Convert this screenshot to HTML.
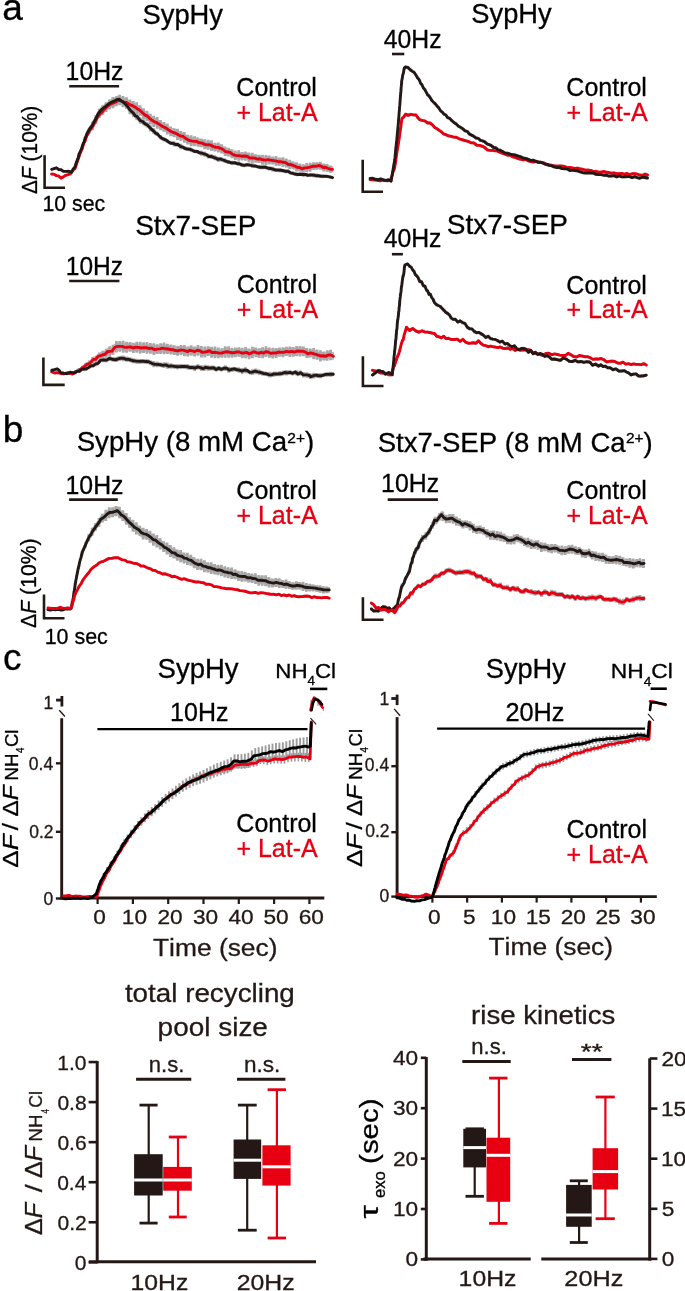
<!DOCTYPE html>
<html><head><meta charset="utf-8"><style>
html,body{margin:0;padding:0;background:#fff;overflow:hidden}
svg{display:block;will-change:transform}
svg text{font-family:"Liberation Sans",sans-serif;font-kerning:none}
</style></head><body>
<svg width="685" height="1291" viewBox="0 0 685 1291">
<rect width="685" height="1291" fill="#fff"/>
<g transform="translate(3.75,20.00) scale(1.0000,1)" fill="#000" stroke="#000" stroke-width="0.3"><text x="-1.57" y="0" font-size="37" font-style="normal" xml:space="preserve">a</text></g>
<g transform="translate(5.00,442.00) scale(1.0000,1)" fill="#000" stroke="#000" stroke-width="0.3"><text x="-2.38" y="0" font-size="37" font-style="normal" xml:space="preserve">b</text></g>
<g transform="translate(4.50,670.00) scale(1.0000,1)" fill="#000" stroke="#000" stroke-width="0.3"><text x="-1.57" y="0" font-size="37" font-style="normal" xml:space="preserve">c</text></g>
<g transform="translate(143.70,24.00) scale(0.9951,1)" fill="#000" stroke="#000" stroke-width="0.3"><text x="-1.25" y="0" font-size="27.5" font-style="normal" xml:space="preserve">SypHy</text></g>
<g transform="translate(472.60,23.30) scale(0.9926,1)" fill="#000" stroke="#000" stroke-width="0.3"><text x="-1.25" y="0" font-size="27.5" font-style="normal" xml:space="preserve">SypHy</text></g>
<g transform="translate(136.40,234.60) scale(1.0179,1)" fill="#000" stroke="#000" stroke-width="0.3"><text x="-1.25" y="0" font-size="27.5" font-style="normal" xml:space="preserve">Stx7-SEP</text></g>
<g transform="translate(448.00,233.70) scale(1.0179,1)" fill="#000" stroke="#000" stroke-width="0.3"><text x="-1.25" y="0" font-size="27.5" font-style="normal" xml:space="preserve">Stx7-SEP</text></g>
<g transform="translate(77.90,451.30) scale(1.0059,1)" fill="#000" stroke="#000" stroke-width="0.3"><text x="-1.25" y="0" font-size="27.5" font-style="normal" xml:space="preserve">SypHy (8 mM Ca</text><text x="208.09" y="-8.6" font-size="15.5" font-style="normal" xml:space="preserve">2+</text><text x="225.76" y="0" font-size="27.5" font-style="normal" xml:space="preserve">)</text></g>
<g transform="translate(378.90,452.00) scale(1.0028,1)" fill="#000" stroke="#000" stroke-width="0.3"><text x="-1.25" y="0" font-size="27.5" font-style="normal" xml:space="preserve">Stx7-SEP (8 mM Ca</text><text x="246.30" y="-8.6" font-size="15.5" font-style="normal" xml:space="preserve">2+</text><text x="263.98" y="0" font-size="27.5" font-style="normal" xml:space="preserve">)</text></g>
<g transform="translate(67.50,80.00) scale(0.9925,1)" fill="#000" stroke="#000" stroke-width="0.3"><text x="-1.90" y="0" font-size="25" font-style="normal" xml:space="preserve">10Hz</text></g>
<line x1="69.2" y1="86.2" x2="119.1" y2="86.2" stroke="#231815" stroke-width="2.6" stroke-linecap="butt"/>
<g transform="translate(384.30,47.80) scale(0.9904,1)" fill="#000" stroke="#000" stroke-width="0.3"><text x="-0.57" y="0" font-size="25" font-style="normal" xml:space="preserve">40Hz</text></g>
<line x1="392.0" y1="54.0" x2="404.3" y2="54.0" stroke="#231815" stroke-width="2.6" stroke-linecap="butt"/>
<g transform="translate(67.70,274.90) scale(0.9799,1)" fill="#000" stroke="#000" stroke-width="0.3"><text x="-1.90" y="0" font-size="25" font-style="normal" xml:space="preserve">10Hz</text></g>
<line x1="69.2" y1="281.0" x2="119.4" y2="281.0" stroke="#231815" stroke-width="2.6" stroke-linecap="butt"/>
<g transform="translate(384.20,247.20) scale(0.9922,1)" fill="#000" stroke="#000" stroke-width="0.3"><text x="-0.57" y="0" font-size="25" font-style="normal" xml:space="preserve">40Hz</text></g>
<line x1="391.9" y1="254.2" x2="402.9" y2="254.2" stroke="#231815" stroke-width="2.6" stroke-linecap="butt"/>
<g transform="translate(67.40,493.60) scale(0.9943,1)" fill="#000" stroke="#000" stroke-width="0.3"><text x="-1.90" y="0" font-size="25" font-style="normal" xml:space="preserve">10Hz</text></g>
<line x1="69.1" y1="499.6" x2="117.8" y2="499.6" stroke="#231815" stroke-width="2.6" stroke-linecap="butt"/>
<g transform="translate(383.00,491.50) scale(0.9943,1)" fill="#000" stroke="#000" stroke-width="0.3"><text x="-1.90" y="0" font-size="25" font-style="normal" xml:space="preserve">10Hz</text></g>
<line x1="387.7" y1="499.6" x2="437.9" y2="499.6" stroke="#231815" stroke-width="2.6" stroke-linecap="butt"/>
<g transform="translate(237.60,96.30) scale(1.0000,1)" fill="#000" stroke="#000" stroke-width="0.3"><text x="-1.27" y="0" font-size="25" font-style="normal" xml:space="preserve">Control</text></g>
<g transform="translate(237.60,121.00) scale(1.0000,1)" fill="#e60012" stroke="#e60012" stroke-width="0.3"><text x="-1.22" y="0" font-size="25" font-style="normal" xml:space="preserve">+ Lat-A</text></g>
<g transform="translate(567.60,96.20) scale(1.0000,1)" fill="#000" stroke="#000" stroke-width="0.3"><text x="-1.27" y="0" font-size="25" font-style="normal" xml:space="preserve">Control</text></g>
<g transform="translate(567.60,121.20) scale(1.0000,1)" fill="#e60012" stroke="#e60012" stroke-width="0.3"><text x="-1.22" y="0" font-size="25" font-style="normal" xml:space="preserve">+ Lat-A</text></g>
<g transform="translate(238.00,293.40) scale(1.0000,1)" fill="#000" stroke="#000" stroke-width="0.3"><text x="-1.27" y="0" font-size="25" font-style="normal" xml:space="preserve">Control</text></g>
<g transform="translate(238.00,318.30) scale(1.0000,1)" fill="#e60012" stroke="#e60012" stroke-width="0.3"><text x="-1.22" y="0" font-size="25" font-style="normal" xml:space="preserve">+ Lat-A</text></g>
<g transform="translate(567.60,293.90) scale(1.0000,1)" fill="#000" stroke="#000" stroke-width="0.3"><text x="-1.27" y="0" font-size="25" font-style="normal" xml:space="preserve">Control</text></g>
<g transform="translate(567.60,318.40) scale(1.0000,1)" fill="#e60012" stroke="#e60012" stroke-width="0.3"><text x="-1.22" y="0" font-size="25" font-style="normal" xml:space="preserve">+ Lat-A</text></g>
<g transform="translate(237.60,498.80) scale(1.0000,1)" fill="#000" stroke="#000" stroke-width="0.3"><text x="-1.27" y="0" font-size="25" font-style="normal" xml:space="preserve">Control</text></g>
<g transform="translate(237.60,523.80) scale(1.0000,1)" fill="#e60012" stroke="#e60012" stroke-width="0.3"><text x="-1.22" y="0" font-size="25" font-style="normal" xml:space="preserve">+ Lat-A</text></g>
<g transform="translate(567.60,499.20) scale(1.0000,1)" fill="#000" stroke="#000" stroke-width="0.3"><text x="-1.27" y="0" font-size="25" font-style="normal" xml:space="preserve">Control</text></g>
<g transform="translate(567.60,523.70) scale(1.0000,1)" fill="#e60012" stroke="#e60012" stroke-width="0.3"><text x="-1.22" y="0" font-size="25" font-style="normal" xml:space="preserve">+ Lat-A</text></g>
<g transform="translate(237.60,831.80) scale(1.0000,1)" fill="#000" stroke="#000" stroke-width="0.3"><text x="-1.27" y="0" font-size="25" font-style="normal" xml:space="preserve">Control</text></g>
<g transform="translate(237.60,856.90) scale(1.0000,1)" fill="#e60012" stroke="#e60012" stroke-width="0.3"><text x="-1.22" y="0" font-size="25" font-style="normal" xml:space="preserve">+ Lat-A</text></g>
<g transform="translate(567.70,837.70) scale(1.0000,1)" fill="#000" stroke="#000" stroke-width="0.3"><text x="-1.27" y="0" font-size="25" font-style="normal" xml:space="preserve">Control</text></g>
<g transform="translate(567.70,862.90) scale(1.0000,1)" fill="#e60012" stroke="#e60012" stroke-width="0.3"><text x="-1.22" y="0" font-size="25" font-style="normal" xml:space="preserve">+ Lat-A</text></g>
<polyline points="44.6,155.3 44.6,187.7 65.0,187.7" fill="none" stroke="#231815" stroke-width="2.6" stroke-linejoin="miter"/>
<polyline points="362.7,159.7 362.7,191.7 383.0,191.7" fill="none" stroke="#231815" stroke-width="2.6" stroke-linejoin="miter"/>
<polyline points="43.4,357.4 43.4,384.9 64.7,384.9" fill="none" stroke="#231815" stroke-width="2.6" stroke-linejoin="miter"/>
<polyline points="362.9,356.3 362.9,386.0 383.5,386.0" fill="none" stroke="#231815" stroke-width="2.6" stroke-linejoin="miter"/>
<polyline points="44.0,594.6 44.0,618.2 64.5,618.2" fill="none" stroke="#231815" stroke-width="2.6" stroke-linejoin="miter"/>
<polyline points="362.9,597.3 362.9,619.7 383.5,619.7" fill="none" stroke="#231815" stroke-width="2.6" stroke-linejoin="miter"/>
<g transform="translate(36.50,193.30) rotate(-90) scale(0.9493,1)" fill="#000" stroke="#000" stroke-width="0.3"><text x="-0.66" y="0" font-size="22" font-style="normal" xml:space="preserve">Δ</text><text x="14.04" y="0" font-size="22" font-style="italic" xml:space="preserve">F</text><text x="27.48" y="0" font-size="22" font-style="normal" xml:space="preserve"> (10%)</text></g>
<g transform="translate(36.30,627.30) rotate(-90) scale(0.9636,1)" fill="#000" stroke="#000" stroke-width="0.3"><text x="-0.66" y="0" font-size="22" font-style="normal" xml:space="preserve">Δ</text><text x="14.04" y="0" font-size="22" font-style="italic" xml:space="preserve">F</text><text x="27.48" y="0" font-size="22" font-style="normal" xml:space="preserve"> (10%)</text></g>
<g transform="translate(44.10,210.70) scale(0.9686,1)" fill="#000" stroke="#000" stroke-width="0.3"><text x="-1.68" y="0" font-size="22" font-style="normal" xml:space="preserve">10 sec</text></g>
<g transform="translate(46.30,643.50) scale(0.9750,1)" fill="#000" stroke="#000" stroke-width="0.3"><text x="-1.68" y="0" font-size="22" font-style="normal" xml:space="preserve">10 sec</text></g>
<polygon points="51.70,169.23 54.05,168.39 56.40,167.72 58.73,169.26 61.07,169.25 63.40,171.01 66.10,171.19 68.80,170.84 71.50,171.78 73.25,168.61 75.00,166.45 75.78,163.79 76.57,161.38 77.35,159.08 78.13,157.66 78.92,153.79 79.70,151.72 80.58,149.77 81.45,148.08 82.33,145.30 83.20,142.54 84.08,140.61 84.95,137.41 85.83,136.14 86.70,132.67 88.10,130.22 89.50,127.49 90.90,125.25 92.30,123.49 93.70,119.97 94.88,118.36 96.05,116.02 97.23,113.40 98.40,111.58 100.15,109.10 101.90,106.88 103.65,105.60 105.40,104.08 107.73,102.57 110.07,100.40 112.40,99.55 114.73,98.25 117.07,96.66 119.40,96.58 121.73,98.90 124.07,100.36 126.40,103.04 128.15,105.08 129.90,107.37 131.65,109.63 133.40,110.64 135.15,113.49 136.90,114.05 138.65,116.30 140.40,118.65 142.75,119.62 145.10,121.86 147.45,122.96 149.80,125.67 151.75,127.95 153.70,129.45 155.65,131.47 157.60,132.70 159.55,135.29 161.50,136.72 163.82,138.16 166.15,139.08 168.48,140.68 170.80,141.83 173.15,141.90 175.50,143.39 177.85,143.05 180.20,145.21 182.65,145.93 185.10,147.07 187.55,147.86 190.00,148.01 192.34,149.27 194.68,150.24 197.02,150.40 199.36,151.46 201.70,151.88 204.04,152.70 206.38,153.43 208.72,155.09 211.06,155.10 213.40,155.85 215.73,156.77 218.06,158.22 220.39,157.78 222.72,159.03 225.05,159.43 227.38,160.39 229.71,161.19 232.04,161.96 234.37,161.61 236.70,162.51 239.29,162.65 241.88,163.97 244.47,164.46 247.06,163.76 249.64,164.07 252.23,164.15 254.82,164.74 257.41,165.77 260.00,166.19 262.60,166.16 265.20,165.78 267.80,167.20 270.40,167.40 273.00,167.79 275.60,168.84 278.20,168.87 280.80,168.98 283.40,169.98 285.75,170.30 288.10,170.20 290.45,171.93 292.80,172.02 295.15,172.85 297.50,173.36 300.14,172.90 302.79,173.34 305.43,173.45 308.07,174.23 310.71,173.81 313.36,173.89 316.00,174.41 318.75,175.06 321.50,175.30 324.25,175.47 327.00,175.25 329.75,176.14 332.50,176.68 332.50,178.35 329.75,177.64 327.00,177.17 324.25,177.13 321.50,177.49 318.75,176.50 316.00,176.88 313.36,176.36 310.71,175.83 308.07,176.40 305.43,175.49 302.79,175.63 300.14,174.99 297.50,175.59 295.15,175.23 292.80,174.16 290.45,174.05 288.10,172.36 285.75,172.48 283.40,171.83 280.80,171.45 278.20,171.30 275.60,170.89 273.00,170.37 270.40,169.66 267.80,169.25 265.20,168.47 262.60,168.26 260.00,168.41 257.41,167.84 254.82,166.84 252.23,166.47 249.64,166.06 247.06,165.92 244.47,166.60 241.88,166.25 239.29,164.95 236.70,164.43 234.37,164.01 232.04,164.34 229.71,163.18 227.38,163.09 225.05,162.20 222.72,161.11 220.39,160.21 218.06,160.75 215.73,159.39 213.40,158.44 211.06,157.31 208.72,157.43 206.38,155.58 204.04,154.97 201.70,154.40 199.36,153.73 197.02,152.49 194.68,152.55 192.34,151.79 190.00,150.41 187.55,150.21 185.10,149.63 182.65,148.25 180.20,147.78 177.85,145.57 175.50,145.67 173.15,144.45 170.80,144.25 168.48,143.15 166.15,141.62 163.82,140.40 161.50,139.46 159.55,137.69 157.60,135.54 155.65,134.84 153.70,132.80 151.75,130.94 149.80,129.45 147.45,126.61 145.10,125.63 142.75,123.58 140.40,122.91 138.65,120.48 136.90,118.21 135.15,117.77 133.40,115.36 131.65,113.83 129.90,112.22 128.15,109.68 126.40,107.52 124.07,105.05 121.73,104.00 119.40,101.74 117.07,102.30 114.73,103.03 112.40,104.38 110.07,105.26 107.73,107.33 105.40,108.96 103.65,109.91 101.90,111.27 100.15,113.02 98.40,115.82 97.23,117.44 96.05,120.44 94.88,122.29 93.70,124.28 92.30,127.50 90.90,128.70 89.50,130.85 88.10,132.90 86.70,135.83 85.83,138.52 84.95,139.53 84.08,143.49 83.20,144.80 82.33,147.00 81.45,150.15 80.58,151.53 79.70,153.22 78.92,155.38 78.13,159.06 77.35,160.60 76.57,162.63 75.78,164.73 75.00,167.37 73.25,169.38 71.50,172.66 68.80,171.75 66.10,172.03 63.40,171.73 61.07,170.18 58.73,169.65 56.40,167.83 54.05,168.87 51.70,169.50" fill="#b8b8b8" stroke="#b8b8b8" stroke-width="1.6" stroke-linejoin="round"/>
<path d="M55.10 167.30V169.19M61.90 169.37V171.21M65.30 170.78V172.01M68.70 170.15V172.42M72.10 170.11V172.08M75.50 164.55V165.64M78.90 153.07V156.68M82.30 144.45V147.98M85.70 135.72V139.07M89.10 127.76V131.97M92.50 121.87V128.17M95.90 115.05V122.01M99.30 108.78V115.65M102.70 105.20V111.95M106.10 102.32V109.83M109.50 99.57V107.28M112.90 96.96V106.20M116.30 96.18V103.68M119.70 94.78V104.35M123.10 97.41V106.86M126.50 101.75V109.09M129.90 105.38V114.27M133.30 109.03V117.01M136.70 112.28V120.32M140.10 117.29V123.47M143.50 119.38V125.37M146.90 121.92V127.57M150.30 124.76V131.48M153.70 128.33V133.67M157.10 131.69V136.09M160.50 135.10V139.32M163.90 137.30V141.14M167.30 139.40V142.67M170.70 141.48V144.85M174.10 141.31V146.42M177.50 142.65V146.42M180.90 143.87V149.17M184.30 146.22V149.85M187.70 147.34V150.98M191.10 147.64V151.85M194.50 149.65V153.07M197.90 149.98V153.82M201.30 150.51V155.72M204.70 151.62V156.64M208.10 153.57V158.39M211.50 154.37V158.74M214.90 155.35V160.36M218.30 156.82V161.88M221.70 157.46V161.55M225.10 158.50V162.98M228.50 160.59V163.44M231.90 160.66V165.12M235.30 161.13V164.89M238.70 161.49V165.95M242.10 162.87V167.05M245.50 163.46V166.76M248.90 163.62V166.32M252.30 163.17V167.96M255.70 164.78V167.62M259.10 165.21V168.87M262.50 165.50V168.82M265.90 165.85V169.04M269.30 166.23V170.45M272.70 166.68V171.45M276.10 168.56V171.59M279.50 168.18V172.14M282.90 169.12V172.20M286.30 169.53V173.20M289.70 170.72V173.97M293.10 172.07V174.76M296.50 172.99V175.64M299.90 172.88V175.62M303.30 172.28V176.67M306.70 173.15V176.54M310.10 173.62V176.32M313.50 172.99V177.31M316.90 173.40V177.92M320.30 174.49V177.67M323.70 174.99V177.41M327.10 175.13V177.64M330.50 175.93V178.18" stroke="#a8a8a8" stroke-width="2.8" fill="none"/>
<polygon points="51.70,173.70 54.03,173.96 56.35,175.39 58.67,175.90 61.00,177.76 63.35,176.45 65.70,174.68 68.05,174.44 70.40,173.36 71.93,171.58 73.47,168.87 75.00,167.95 75.94,165.81 76.88,162.34 77.82,159.19 78.76,156.47 79.70,153.63 80.58,151.41 81.45,149.11 82.33,147.55 83.20,143.65 84.08,141.26 84.95,140.36 85.83,137.15 86.70,134.05 88.10,131.84 89.50,128.72 90.90,127.16 92.30,124.97 93.70,122.60 95.27,119.26 96.83,116.16 98.40,113.48 100.15,111.25 101.90,109.83 103.65,107.81 105.40,106.02 107.73,103.22 110.07,101.73 112.40,100.39 114.73,99.46 117.07,97.95 119.40,96.76 121.75,97.61 124.10,98.70 126.45,99.33 128.80,100.94 131.12,101.94 133.44,103.17 135.76,104.49 138.08,105.89 140.40,107.32 142.75,109.80 145.10,111.77 147.45,113.08 149.80,115.21 152.14,116.97 154.48,118.53 156.82,119.30 159.16,121.25 161.50,122.81 163.83,124.07 166.17,124.80 168.50,126.90 170.83,128.42 173.17,129.33 175.50,129.88 177.92,131.37 180.33,133.15 182.75,133.33 185.17,134.95 187.58,136.75 190.00,137.29 192.34,138.03 194.68,138.13 197.02,138.72 199.36,139.87 201.70,140.03 204.04,140.84 206.38,142.20 208.72,141.88 211.06,142.23 213.40,143.96 215.73,144.18 218.06,144.39 220.39,145.09 222.72,146.62 225.05,148.64 227.38,149.03 229.71,149.49 232.04,151.05 234.37,152.24 236.70,153.04 239.29,152.94 241.88,153.63 244.47,153.31 247.06,153.38 249.64,155.39 252.23,154.99 254.82,155.25 257.41,156.09 260.00,155.97 262.60,157.32 265.20,157.28 267.80,156.72 270.40,157.55 273.00,157.72 275.60,158.28 278.20,159.24 280.80,159.13 283.40,159.86 285.74,160.04 288.07,161.98 290.41,161.66 292.75,162.50 295.09,163.67 297.43,164.76 299.76,164.90 302.10,166.52 304.83,165.68 307.57,165.04 310.30,164.88 313.03,163.32 315.77,163.59 318.50,163.37 320.83,163.67 323.17,165.32 325.50,164.66 327.83,166.07 330.17,166.78 332.50,166.82 332.50,171.73 330.17,171.64 327.83,170.42 325.50,169.85 323.17,169.97 320.83,168.26 318.50,168.08 315.77,168.60 313.03,168.47 310.30,169.94 307.57,170.29 304.83,170.21 302.10,171.52 299.76,169.85 297.43,170.25 295.09,168.68 292.75,168.11 290.41,166.85 288.07,166.88 285.74,165.16 283.40,164.79 280.80,164.09 278.20,164.60 275.60,163.64 273.00,163.18 270.40,162.76 267.80,162.36 265.20,162.60 262.60,162.82 260.00,161.83 257.41,161.89 254.82,160.65 252.23,160.86 249.64,160.53 247.06,158.98 244.47,158.75 241.88,159.22 239.29,158.55 236.70,158.27 234.37,157.98 232.04,156.69 229.71,155.22 227.38,154.93 225.05,153.87 222.72,152.25 220.39,151.36 218.06,150.20 215.73,150.31 213.40,149.64 211.06,148.10 208.72,147.89 206.38,147.75 204.04,146.82 201.70,145.58 199.36,146.11 197.02,144.22 194.68,144.27 192.34,144.41 190.00,143.62 187.58,142.61 185.17,141.34 182.75,139.01 180.33,138.80 177.92,137.57 175.50,135.96 173.17,135.51 170.83,134.46 168.50,132.71 166.17,131.51 163.83,129.98 161.50,129.26 159.16,127.55 156.82,125.83 154.48,124.82 152.14,123.79 149.80,121.74 147.45,119.64 145.10,118.30 142.75,116.05 140.40,114.16 138.08,112.68 135.76,110.62 133.44,109.28 131.12,108.28 128.80,107.44 126.45,105.59 124.10,105.32 121.75,104.08 119.40,103.45 117.07,104.17 114.73,105.66 112.40,106.08 110.07,107.22 107.73,108.65 105.40,110.98 103.65,112.65 101.90,114.79 100.15,115.59 98.40,117.91 96.83,120.57 95.27,123.46 93.70,126.62 92.30,128.80 90.90,130.49 89.50,132.44 88.10,135.37 86.70,136.96 85.83,139.93 84.95,142.80 84.08,143.78 83.20,145.96 82.33,149.26 81.45,151.14 80.58,153.59 79.70,155.00 78.76,157.79 77.82,161.01 76.88,163.10 75.94,166.86 75.00,168.94 73.47,169.78 71.93,172.08 70.40,174.29 68.05,174.73 65.70,175.54 63.35,177.10 61.00,178.45 58.67,176.27 56.35,176.10 54.03,174.43 51.70,173.96" fill="#b8b8b8" stroke="#b8b8b8" stroke-width="1.6" stroke-linejoin="round"/>
<path d="M61.90 176.98V178.30M65.30 174.78V176.36M75.50 166.55V167.87M78.90 155.10V158.18M82.30 146.97V149.79M85.70 136.82V140.86M89.10 129.08V133.78M92.50 123.19V130.22M95.90 116.65V123.91M99.30 111.32V117.96M102.70 107.68V114.95M106.10 103.44V111.96M109.50 100.00V109.44M112.90 98.14V108.34M116.30 96.89V106.32M119.70 95.00V105.15M123.10 95.94V107.37M126.50 97.17V107.88M129.90 99.40V109.76M133.30 100.90V111.27M136.70 102.31V114.19M140.10 105.34V115.63M143.50 108.26V119.13M146.90 110.77V121.09M150.30 113.77V124.19M153.70 115.66V127.11M157.10 117.04V128.77M160.50 120.03V130.20M163.90 122.11V131.84M167.30 123.49V134.45M170.70 126.51V136.17M174.10 128.21V137.34M177.50 128.72V139.96M180.90 130.96V141.02M184.30 131.90V142.87M187.70 134.69V144.62M191.10 135.33V146.36M194.50 136.33V146.30M197.90 137.42V146.64M201.30 138.47V147.28M204.70 139.31V149.36M208.10 139.65V149.86M211.50 140.13V150.94M214.90 142.63V151.43M218.30 142.50V152.52M221.70 144.16V153.53M225.10 146.46V156.10M228.50 147.71V156.44M231.90 149.36V158.37M235.30 150.56V160.09M238.70 150.36V160.81M242.10 152.01V160.45M245.50 151.49V160.79M248.90 152.50V162.51M252.30 152.78V163.12M255.70 154.26V162.71M259.10 154.80V163.03M262.50 154.70V164.84M265.90 154.92V165.09M269.30 155.45V164.39M272.70 156.58V164.43M276.10 156.09V165.99M279.50 157.43V165.99M282.90 157.30V167.04M286.30 158.56V167.57M289.70 159.70V169.15M293.10 161.53V169.33M296.50 162.29V171.55M299.90 163.61V171.46M303.30 164.34V172.58M306.70 163.06V172.31M310.10 162.63V171.79M313.50 162.35V169.91M316.90 162.20V169.79M320.30 161.81V169.79M323.70 163.38V171.59M327.10 164.00V171.84M330.50 165.60V172.77" stroke="#a8a8a8" stroke-width="2.8" fill="none"/>
<polyline points="51.70,174.00 54.03,174.34 56.35,175.61 58.67,176.04 61.00,178.12 63.35,176.86 65.70,175.31 68.05,174.55 70.40,173.79 71.93,171.81 73.47,169.47 75.00,168.49 75.94,166.09 76.88,162.75 77.82,160.18 78.76,157.02 79.70,154.44 80.58,152.40 81.45,149.92 82.33,148.34 83.20,145.03 84.08,142.46 84.95,141.38 85.83,138.41 86.70,135.51 88.10,133.66 89.50,130.54 90.90,128.84 92.30,127.07 93.70,124.51 95.27,121.61 96.83,118.33 98.40,115.81 100.15,113.53 101.90,112.38 103.65,110.05 105.40,108.39 107.73,106.09 110.07,104.28 112.40,103.44 114.73,102.51 117.07,101.16 119.40,99.93 121.75,101.07 124.10,102.09 126.45,102.49 128.80,104.02 131.12,105.20 133.44,106.14 135.76,107.54 138.08,109.29 140.40,110.66 142.75,113.02 145.10,115.14 147.45,116.18 149.80,118.61 152.14,120.32 154.48,121.92 156.82,122.73 159.16,124.17 161.50,125.82 163.83,126.94 166.17,128.12 168.50,129.87 170.83,131.43 173.17,132.51 175.50,133.17 177.92,134.58 180.33,135.95 182.75,136.12 185.17,138.09 187.58,139.61 190.00,140.60 192.34,141.13 194.68,141.33 197.02,141.49 199.36,142.92 201.70,142.87 204.04,144.10 206.38,144.92 208.72,144.69 211.06,145.28 213.40,146.63 215.73,147.25 218.06,147.42 220.39,148.30 222.72,149.27 225.05,151.27 227.38,152.07 229.71,152.08 232.04,153.98 234.37,155.13 236.70,155.62 239.29,155.58 241.88,156.25 244.47,156.05 247.06,156.28 249.64,158.00 252.23,157.94 254.82,158.16 257.41,159.12 260.00,158.81 262.60,159.81 265.20,160.13 267.80,159.66 270.40,160.11 273.00,160.55 275.60,160.87 278.20,161.74 280.80,161.67 283.40,162.29 285.74,162.62 288.07,164.45 290.41,164.41 292.75,165.29 295.09,166.20 297.43,167.39 299.76,167.45 302.10,168.88 304.83,167.92 307.57,167.58 310.30,167.18 313.03,166.09 315.77,166.30 318.50,165.56 320.83,165.87 323.17,167.55 325.50,167.24 327.83,168.23 330.17,169.15 332.50,169.40" fill="none" stroke="#e60012" stroke-width="2.9" stroke-linejoin="round" stroke-linecap="round" opacity="1"/>
<polyline points="51.70,169.40 54.05,168.60 56.40,167.81 58.73,169.51 61.07,169.70 63.40,171.35 66.10,171.41 68.80,171.28 71.50,172.21 73.25,168.95 75.00,166.91 75.78,164.06 76.57,161.76 77.35,159.89 78.13,158.12 78.92,154.81 79.70,152.61 80.58,150.85 81.45,148.98 82.33,146.13 83.20,143.56 84.08,142.04 84.95,138.42 85.83,137.23 86.70,134.11 88.10,131.56 89.50,129.18 90.90,127.11 92.30,125.48 93.70,122.25 94.88,120.49 96.05,118.24 97.23,115.55 98.40,113.47 100.15,111.04 101.90,109.28 103.65,107.74 105.40,106.65 107.73,104.73 110.07,103.01 112.40,101.82 114.73,100.70 117.07,99.55 119.40,99.31 121.73,101.28 124.07,102.74 126.40,105.30 128.15,107.29 129.90,109.83 131.65,111.67 133.40,113.10 135.15,115.82 136.90,116.37 138.65,118.54 140.40,120.76 142.75,121.66 145.10,123.88 147.45,125.00 149.80,127.64 151.75,129.52 153.70,131.00 155.65,133.18 157.60,134.14 159.55,136.42 161.50,138.03 163.82,139.19 166.15,140.19 168.48,141.90 170.80,143.22 173.15,143.41 175.50,144.53 177.85,144.53 180.20,146.28 182.65,147.11 185.10,148.49 187.55,149.15 190.00,149.30 192.34,150.25 194.68,151.46 197.02,151.36 199.36,152.79 201.70,153.19 204.04,153.92 206.38,154.65 208.72,156.46 211.06,156.37 213.40,157.35 215.73,158.14 218.06,159.40 220.39,158.88 222.72,159.99 225.05,160.72 227.38,161.78 229.71,162.28 232.04,162.93 234.37,162.70 236.70,163.48 239.29,163.79 241.88,164.92 244.47,165.41 247.06,164.67 249.64,165.09 252.23,165.56 254.82,165.95 257.41,166.69 260.00,167.22 262.60,167.16 265.20,167.18 267.80,168.15 270.40,168.47 273.00,169.14 275.60,170.07 278.20,170.09 280.80,170.23 283.40,170.76 285.75,171.43 288.10,171.14 290.45,172.91 292.80,173.33 295.15,174.04 297.50,174.52 300.14,174.22 302.79,174.50 305.43,174.36 308.07,175.37 310.71,174.84 313.36,175.12 316.00,175.59 318.75,175.79 321.50,176.31 324.25,176.17 327.00,176.37 329.75,176.85 332.50,177.60" fill="none" stroke="#231815" stroke-width="2.9" stroke-linejoin="round" stroke-linecap="round" opacity="1"/>
<polygon points="370.20,177.96 372.82,178.05 375.45,178.80 378.07,179.50 380.70,178.62 383.32,179.20 385.95,179.92 388.57,179.28 391.20,180.77 391.64,177.20 392.07,175.05 392.51,172.44 392.95,169.79 393.39,166.74 393.82,164.48 394.26,162.28 394.70,159.73 394.95,157.29 395.20,154.66 395.45,152.08 395.70,148.80 395.95,147.44 396.20,144.69 396.45,141.64 396.70,139.96 396.95,137.40 397.20,134.31 397.45,131.45 397.70,129.68 397.95,126.25 398.20,123.88 398.39,121.73 398.59,118.81 398.78,117.16 398.98,114.92 399.17,111.45 399.37,110.07 399.56,106.61 399.76,105.18 399.95,102.51 400.14,99.57 400.34,96.92 400.53,94.91 400.73,92.24 400.92,90.66 401.12,87.14 401.31,85.49 401.51,83.41 401.70,80.26 402.26,78.03 402.82,74.31 403.38,72.66 403.94,69.10 404.50,67.12 405.50,66.33 407.83,66.93 410.17,68.99 412.50,70.78 414.27,71.87 416.03,74.92 417.80,77.65 419.20,79.10 420.60,82.92 422.00,84.23 423.40,87.57 424.80,88.91 426.20,91.55 427.60,94.32 429.00,95.38 430.40,97.48 431.80,100.18 433.55,101.73 435.30,103.36 437.05,105.67 438.80,107.06 440.56,110.11 442.32,111.52 444.08,113.75 445.84,114.24 447.60,117.14 449.78,117.83 451.95,120.32 454.12,121.87 456.30,123.57 458.50,125.73 460.70,126.76 462.90,128.57 465.10,130.32 467.28,130.89 469.45,133.37 471.62,134.31 473.80,135.66 476.00,137.25 478.20,137.57 480.40,139.62 482.60,140.44 484.80,141.18 487.00,143.21 489.20,144.18 491.40,144.96 493.57,147.15 495.75,147.26 497.93,149.42 500.10,149.75 502.58,150.67 505.07,152.58 507.55,152.47 510.03,153.38 512.52,154.14 515.00,154.19 517.68,155.34 520.36,156.28 523.04,157.59 525.72,158.12 528.40,158.92 530.73,160.07 533.06,159.73 535.39,160.65 537.72,161.57 540.05,161.31 542.38,161.94 544.71,163.18 547.04,163.75 549.37,165.02 551.70,165.52 554.29,166.38 556.88,167.07 559.47,166.80 562.06,167.71 564.64,168.36 567.23,168.39 569.82,170.23 572.41,169.81 575.00,169.90 577.60,169.94 580.20,171.45 582.80,172.30 585.40,172.34 588.00,172.37 590.60,172.36 593.20,172.47 595.80,173.59 598.40,173.93 601.00,173.81 603.60,174.90 606.20,174.76 608.80,175.42 611.40,175.56 614.00,175.25 616.60,176.39 619.20,175.33 621.80,176.12 624.37,176.00 626.94,176.14 629.51,176.12 632.08,177.14 634.65,176.19 637.22,177.05 639.79,177.48 642.36,176.63 644.93,176.62 647.50,177.12 647.50,178.76 644.93,177.87 642.36,178.02 639.79,178.96 637.22,178.30 634.65,177.44 632.08,178.34 629.51,177.39 626.94,177.37 624.37,177.64 621.80,177.15 619.20,176.24 616.60,177.69 614.00,176.01 611.40,176.79 608.80,176.61 606.20,175.69 603.60,175.91 601.00,175.15 598.40,175.19 595.80,175.11 593.20,173.83 590.60,173.56 588.00,173.23 585.40,173.57 582.80,173.21 580.20,172.47 577.60,171.55 575.00,171.35 572.41,170.73 569.82,171.07 567.23,169.63 564.64,169.19 562.06,169.24 559.47,168.33 556.88,167.99 554.29,167.64 551.70,166.49 549.37,165.70 547.04,164.97 544.71,164.59 542.38,163.38 540.05,162.73 537.72,162.75 535.39,161.65 533.06,160.75 530.73,161.17 528.40,159.74 525.72,159.26 523.04,158.72 520.36,157.31 517.68,156.17 515.00,155.84 512.52,155.08 510.03,154.64 507.55,153.58 505.07,153.60 502.58,151.87 500.10,150.84 497.93,150.23 495.75,148.51 493.57,147.88 491.40,146.50 489.20,145.39 487.00,144.38 484.80,142.41 482.60,141.38 480.40,140.71 478.20,138.88 476.00,138.52 473.80,137.16 471.62,135.93 469.45,134.72 467.28,131.88 465.10,131.63 462.90,129.40 460.70,127.76 458.50,126.83 456.30,124.79 454.12,123.02 451.95,121.28 449.78,118.84 447.60,118.46 445.84,115.41 444.08,114.74 442.32,112.72 440.56,111.08 438.80,108.39 437.05,106.49 435.30,104.18 433.55,102.76 431.80,100.93 430.40,98.61 429.00,96.69 427.60,95.40 426.20,92.73 424.80,89.86 423.40,88.87 422.00,85.20 420.60,83.56 419.20,80.36 417.80,78.93 416.03,75.67 414.27,73.23 412.50,72.08 410.17,70.29 407.83,68.08 405.50,67.75 404.50,68.00 403.94,70.22 403.38,73.84 402.82,75.60 402.26,79.17 401.70,81.76 401.51,84.41 401.31,86.78 401.12,88.44 400.92,91.74 400.73,93.25 400.53,96.18 400.34,98.06 400.14,100.99 399.95,103.82 399.76,106.06 399.56,107.67 399.37,111.23 399.17,113.01 398.98,115.61 398.78,117.98 398.59,120.48 398.39,123.03 398.20,125.19 397.95,127.51 397.70,130.47 397.45,132.89 397.20,135.49 396.95,138.86 396.70,140.89 396.45,143.04 396.20,145.54 395.95,148.53 395.70,149.90 395.45,153.10 395.20,155.86 394.95,158.53 394.70,160.53 394.26,163.40 393.82,166.05 393.39,168.03 392.95,171.45 392.51,173.90 392.07,176.24 391.64,178.26 391.20,181.87 388.57,180.06 385.95,180.76 383.32,180.53 380.70,179.23 378.07,180.12 375.45,179.64 372.82,178.58 370.20,178.82" fill="#b8b8b8" stroke="#b8b8b8" stroke-width="1.6" stroke-linejoin="round"/>
<path d="M370.20 177.19V179.61M373.60 177.66V179.54M377.00 178.93V180.21M380.40 177.74V180.18M383.80 178.78V181.21M387.20 179.14V181.11M390.60 180.19V181.51M394.00 163.53V165.03M397.40 131.85V133.66M400.80 91.46V93.03M404.20 67.84V69.68M407.60 66.19V68.53M411.00 68.81V71.85M414.40 72.27V73.20M417.80 77.08V79.24M421.20 83.46V84.36M424.60 88.74V89.83M428.00 93.73V96.48M431.40 98.72V100.90M434.80 101.85V104.85M438.20 106.32V108.19M441.60 111.18V112.02M445.00 113.76V115.49M448.40 116.79V119.01M451.80 119.06V122.11M455.20 121.74V124.89M458.60 125.33V127.27M462.00 127.35V129.14M465.40 130.38V131.42M468.80 132.08V134.43M472.20 134.80V136.11M475.60 137.11V138.28M479.00 138.66V139.50M482.40 140.46V141.27M485.80 141.57V144.01M489.20 144.15V145.24M492.60 145.13V148.25M496.00 147.41V148.42M499.40 148.61V151.50M502.80 151.12V152.23M506.20 152.63V153.47M509.60 152.76V155.29M513.00 153.96V155.35M516.40 154.12V156.68M519.80 155.84V157.09M523.20 157.59V158.51M526.60 157.43V160.09M530.00 158.91V161.42M533.40 158.88V161.73M536.80 160.53V163.08M540.20 161.67V162.68M543.60 162.27V164.58M547.00 163.09V165.59M550.40 164.67V166.58M553.80 165.23V168.26M557.20 166.76V168.17M560.60 166.38V169.50M564.00 167.54V170.06M567.40 168.61V169.44M570.80 169.98V170.82M574.20 169.21V171.57M577.60 169.44V172.20M581.00 171.70V172.69M584.40 172.08V173.62M587.80 171.54V174.09M591.20 172.41V173.61M594.60 172.29V175.16M598.00 173.56V175.53M601.40 174.18V175.12M604.80 174.36V176.04M608.20 174.83V177.01M611.60 175.15V177.00M615.00 174.92V177.34M618.40 175.62V176.77M621.80 175.49V178.20M625.20 175.92V177.59M628.60 175.41V177.76M632.00 176.48V178.79M635.40 176.07V177.87M638.80 177.14V178.86M642.20 175.98V178.66M645.60 176.07V179.13" stroke="#a8a8a8" stroke-width="2.8" fill="none"/>
<polygon points="370.20,179.24 372.68,179.29 375.15,179.76 377.62,180.05 380.10,180.35 382.57,179.79 385.05,179.86 387.52,180.39 390.00,180.11 390.78,179.08 391.57,176.22 392.35,173.78 393.13,170.64 393.92,169.66 394.70,167.15 395.09,164.24 395.48,161.74 395.88,159.12 396.27,156.33 396.66,153.13 397.05,151.20 397.44,148.37 397.83,145.94 398.22,144.26 398.62,141.36 399.01,139.37 399.40,136.47 399.77,133.38 400.14,130.77 400.51,128.33 400.89,125.93 401.26,122.93 401.63,119.66 402.00,117.82 403.75,116.44 405.50,113.61 408.12,114.46 410.75,113.65 413.38,114.34 416.00,114.22 417.75,116.85 419.50,118.73 422.12,120.11 424.75,120.30 427.38,122.01 430.00,122.42 432.33,124.26 434.67,127.08 437.00,127.91 439.20,129.60 441.40,131.01 443.60,133.47 445.80,134.33 448.43,134.96 451.05,135.62 453.68,136.83 456.30,136.65 459.23,138.45 462.17,139.07 465.10,139.73 468.00,140.99 470.90,141.89 473.80,142.22 476.73,144.88 479.67,144.46 482.60,145.86 484.93,147.31 487.27,149.12 489.60,149.95 492.23,149.70 494.85,150.24 497.48,150.43 500.10,151.64 502.58,152.47 505.07,153.43 507.55,154.29 510.03,154.34 512.52,156.40 515.00,156.97 517.68,158.16 520.36,158.48 523.04,159.45 525.72,158.69 528.40,160.22 530.99,160.89 533.58,161.25 536.17,160.55 538.76,161.51 541.34,162.09 543.93,162.23 546.52,163.81 549.11,164.32 551.70,164.68 554.29,165.59 556.88,165.75 559.47,165.61 562.06,165.32 564.64,165.75 567.23,167.01 569.82,167.10 572.41,167.61 575.00,167.77 577.60,167.41 580.20,168.22 582.80,168.44 585.40,169.58 588.00,169.24 590.60,169.83 593.20,171.02 595.80,170.59 598.40,171.37 601.00,171.66 603.60,170.73 606.20,171.43 608.80,171.94 611.40,172.47 614.00,172.41 616.60,173.07 619.20,172.76 621.80,172.75 624.37,173.56 626.94,172.77 629.51,174.23 632.08,172.93 634.65,173.09 637.22,173.36 639.79,174.61 642.36,174.63 644.93,173.64 647.50,174.41 647.50,175.57 644.93,174.49 642.36,175.95 639.79,175.53 637.22,174.51 634.65,174.53 632.08,174.66 629.51,175.20 626.94,174.27 624.37,175.21 621.80,174.14 619.20,174.36 616.60,174.04 614.00,173.67 611.40,173.92 608.80,173.01 606.20,172.94 603.60,171.86 601.00,172.83 598.40,172.60 595.80,172.00 593.20,172.51 590.60,170.83 588.00,170.94 585.40,170.66 582.80,170.11 580.20,169.84 577.60,169.01 575.00,169.33 572.41,168.32 569.82,168.31 567.23,168.31 564.64,166.94 562.06,166.68 559.47,166.67 556.88,166.40 554.29,166.31 551.70,165.78 549.11,165.42 546.52,165.35 543.93,163.27 541.34,162.93 538.76,162.46 536.17,162.14 533.58,162.50 530.99,162.18 528.40,161.71 525.72,159.78 523.04,160.59 520.36,159.47 517.68,158.91 515.00,158.13 512.52,157.18 510.03,155.45 507.55,155.91 505.07,154.95 502.58,153.71 500.10,153.06 497.48,151.59 494.85,151.05 492.23,151.08 489.60,150.99 487.27,150.69 484.93,147.95 482.60,147.03 479.67,146.11 476.73,146.04 473.80,143.75 470.90,143.23 468.00,141.73 465.10,141.41 462.17,140.30 459.23,139.48 456.30,137.90 453.68,137.60 451.05,136.65 448.43,136.48 445.80,135.50 443.60,134.42 441.40,132.52 439.20,130.75 437.00,129.20 434.67,127.86 432.33,125.49 430.00,123.93 427.38,123.52 424.75,121.55 422.12,121.24 419.50,119.94 417.75,118.15 416.00,115.69 413.38,115.64 410.75,114.68 408.12,116.23 405.50,114.59 403.75,117.54 402.00,118.82 401.63,120.85 401.26,123.89 400.89,127.10 400.51,129.53 400.14,132.18 399.77,134.56 399.40,137.45 399.01,140.59 398.62,142.59 398.22,145.33 397.83,147.37 397.44,149.68 397.05,152.05 396.66,154.61 396.27,157.19 395.88,160.24 395.48,163.28 395.09,165.26 394.70,168.33 393.92,170.33 393.13,171.95 392.35,175.04 391.57,177.21 390.78,180.17 390.00,181.19 387.52,181.18 385.05,181.00 382.57,180.68 380.10,181.57 377.62,180.72 375.15,180.52 372.68,180.05 370.20,179.97" fill="#b8b8b8" stroke="#b8b8b8" stroke-width="1.6" stroke-linejoin="round"/>
<path d="M370.20 178.76V180.24M377.00 179.18V181.29M380.40 179.49V181.92M383.80 178.99V181.62M387.20 179.99V181.38M390.60 178.48V180.89M394.00 168.91V170.60M397.40 147.82V150.42M400.80 126.55V127.49M404.20 114.83V117.73M407.60 113.56V116.65M411.00 113.38V115.37M414.40 113.91V115.95M417.80 116.56V118.64M421.20 119.09V121.18M424.60 120.45V121.30M428.00 121.27V124.39M431.40 123.38V124.71M434.80 126.86V128.10M438.20 129.14V130.19M441.60 131.36V132.76M445.00 132.98V135.74M448.40 135.38V136.25M451.80 136.01V137.04M455.20 135.95V138.43M458.60 137.81V139.08M462.00 139.26V140.10M465.40 139.49V141.73M468.80 140.61V142.80M472.20 141.81V143.86M475.60 143.10V145.58M479.00 144.79V145.84M482.40 144.83V147.71M485.80 147.22V149.74M489.20 149.77V150.68M492.60 149.91V151.01M496.00 149.89V151.88M499.40 151.11V153.11M502.80 152.62V154.09M506.20 154.12V155.22M509.60 154.25V156.02M513.00 156.29V157.42M516.40 156.83V159.05M519.80 157.55V160.42M523.20 159.18V160.33M526.60 158.68V160.86M530.00 159.98V162.57M533.40 161.43V162.62M536.80 160.19V162.97M540.20 160.77V163.82M543.60 161.96V163.69M547.00 163.72V165.53M550.40 163.74V166.56M553.80 164.79V166.85M557.20 165.18V166.93M560.60 164.49V167.55M564.00 165.05V167.72M567.40 166.96V168.58M570.80 166.93V168.30M574.20 167.53V169.13M577.60 167.35V169.20M581.00 167.49V170.64M584.40 168.55V171.28M587.80 168.65V171.64M591.20 169.33V172.08M594.60 170.08V172.92M598.00 171.60V172.53M601.40 170.99V173.03M604.80 170.32V173.41M608.20 170.96V174.00M611.60 172.52V173.92M615.00 172.26V174.07M618.40 172.46V174.78M621.80 172.57V174.24M625.20 173.08V175.15M628.60 173.72V174.69M632.00 172.92V174.76M635.40 172.81V174.82M638.80 174.23V175.08M642.20 174.84V175.97M645.60 172.83V175.96" stroke="#a8a8a8" stroke-width="2.8" fill="none"/>
<polyline points="370.20,179.50 372.68,179.86 375.15,179.93 377.62,180.34 380.10,180.79 382.57,180.11 385.05,180.51 387.52,180.71 390.00,180.57 390.78,179.41 391.57,176.93 392.35,174.50 393.13,171.18 393.92,170.02 394.70,167.54 395.09,164.62 395.48,162.47 395.88,159.53 396.27,156.68 396.66,153.98 397.05,151.63 397.44,148.82 397.83,146.70 398.22,144.75 398.62,142.14 399.01,139.82 399.40,137.10 399.77,133.80 400.14,131.53 400.51,128.70 400.89,126.52 401.26,123.48 401.63,120.44 402.00,118.30 403.75,117.00 405.50,114.20 408.12,115.33 410.75,114.32 413.38,114.86 416.00,115.03 417.75,117.54 419.50,119.62 422.12,120.42 424.75,120.91 427.38,122.76 430.00,123.06 432.33,124.70 434.67,127.40 437.00,128.78 439.20,130.39 441.40,131.88 443.60,133.85 445.80,134.66 448.43,135.83 451.05,136.28 453.68,137.15 456.30,137.21 459.23,138.78 462.17,139.73 465.10,140.53 468.00,141.30 470.90,142.77 473.80,142.91 476.73,145.24 479.67,145.34 482.60,146.34 484.93,147.62 487.27,149.93 489.60,150.28 492.23,150.42 494.85,150.69 497.48,151.13 500.10,152.47 502.58,153.27 505.07,154.24 507.55,155.18 510.03,155.13 512.52,156.74 515.00,157.31 517.68,158.52 520.36,159.11 523.04,159.79 525.72,159.21 528.40,160.91 530.99,161.50 533.58,162.07 536.17,161.42 538.76,162.08 541.34,162.47 543.93,162.88 546.52,164.54 549.11,165.01 551.70,165.29 554.29,165.94 556.88,166.06 559.47,165.97 562.06,166.10 564.64,166.48 567.23,167.79 569.82,167.41 572.41,167.96 575.00,168.49 577.60,168.27 580.20,168.95 582.80,169.33 585.40,170.28 588.00,170.14 590.60,170.42 593.20,171.66 595.80,171.36 598.40,172.19 601.00,172.10 603.60,171.51 606.20,172.28 608.80,172.54 611.40,173.25 614.00,172.89 616.60,173.62 619.20,173.62 621.80,173.40 624.37,174.43 626.94,173.47 629.51,174.61 632.08,173.82 634.65,173.70 637.22,174.10 639.79,175.01 642.36,175.43 644.93,174.19 647.50,175.00" fill="none" stroke="#e60012" stroke-width="2.9" stroke-linejoin="round" stroke-linecap="round" opacity="1"/>
<polyline points="370.20,178.40 372.82,178.32 375.45,179.26 378.07,179.78 380.70,178.86 383.32,179.89 385.95,180.46 388.57,179.75 391.20,181.17 391.64,177.60 392.07,175.71 392.51,173.08 392.95,170.63 393.39,167.62 393.82,165.21 394.26,162.88 394.70,160.10 394.95,157.92 395.20,155.11 395.45,152.59 395.70,149.50 395.95,147.83 396.20,145.14 396.45,142.28 396.70,140.51 396.95,138.03 397.20,135.07 397.45,132.17 397.70,130.08 397.95,127.06 398.20,124.58 398.39,122.54 398.59,119.60 398.78,117.62 398.98,115.25 399.17,112.12 399.37,110.49 399.56,107.25 399.76,105.69 399.95,103.29 400.14,100.45 400.34,97.34 400.53,95.51 400.73,92.86 400.92,91.20 401.12,87.59 401.31,86.13 401.51,83.86 401.70,81.02 402.26,78.40 402.82,74.79 403.38,73.15 403.94,69.73 404.50,67.64 405.50,66.98 407.83,67.40 410.17,69.74 412.50,71.40 414.27,72.53 416.03,75.26 417.80,78.16 419.20,79.76 420.60,83.24 422.00,84.80 423.40,88.00 424.80,89.50 426.20,92.10 427.60,94.79 429.00,95.89 430.40,98.07 431.80,100.51 433.55,102.22 435.30,103.80 437.05,105.98 438.80,107.93 440.56,110.77 442.32,112.17 444.08,114.23 445.84,114.98 447.60,117.60 449.78,118.41 451.95,120.74 454.12,122.64 456.30,124.00 458.50,126.25 460.70,127.33 462.90,128.89 465.10,130.84 467.28,131.30 469.45,134.09 471.62,135.13 473.80,136.35 476.00,137.99 478.20,138.32 480.40,140.41 482.60,140.91 484.80,141.93 487.00,143.82 489.20,144.69 491.40,145.65 493.57,147.54 495.75,147.67 497.93,149.85 500.10,150.16 502.58,151.56 505.07,152.91 507.55,153.22 510.03,154.20 512.52,154.57 515.00,155.00 517.68,155.77 520.36,156.65 523.04,158.02 525.72,158.49 528.40,159.32 530.73,160.55 533.06,160.18 535.39,161.02 537.72,162.31 540.05,162.13 542.38,162.80 544.71,164.00 547.04,164.35 549.37,165.40 551.70,165.91 554.29,166.94 556.88,167.47 559.47,167.45 562.06,168.56 564.64,168.88 567.23,168.92 569.82,170.57 572.41,170.12 575.00,170.51 577.60,170.82 580.20,171.97 582.80,172.69 585.40,172.95 588.00,172.81 590.60,173.00 593.20,173.04 595.80,174.31 598.40,174.59 601.00,174.55 603.60,175.21 606.20,175.19 608.80,176.13 611.40,176.10 614.00,175.68 616.60,176.85 619.20,175.91 621.80,176.84 624.37,176.79 626.94,176.67 629.51,176.54 632.08,177.67 634.65,176.72 637.22,177.59 639.79,178.26 642.36,177.26 644.93,177.46 647.50,178.00" fill="none" stroke="#231815" stroke-width="2.9" stroke-linejoin="round" stroke-linecap="round" opacity="1"/>
<polygon points="51.80,370.03 54.50,369.40 57.20,368.22 58.95,369.48 60.70,372.12 63.80,372.61 66.90,372.78 70.00,371.64 73.50,372.12 77.00,370.41 79.35,370.68 81.70,368.37 84.05,368.22 86.40,367.89 88.73,366.31 91.07,364.49 93.40,364.51 95.73,362.49 98.07,362.14 100.40,358.95 103.50,358.42 106.60,358.90 109.70,356.85 112.52,357.73 115.34,358.31 118.16,357.03 120.98,356.49 123.80,356.69 126.12,357.64 128.45,357.82 130.78,358.24 133.10,359.00 136.23,359.80 139.37,359.82 142.50,359.77 145.60,359.94 148.70,360.15 151.80,361.59 154.60,362.87 157.40,362.80 160.20,363.32 163.00,364.08 165.80,363.23 168.60,364.74 171.40,364.59 174.20,364.81 177.00,365.05 179.80,365.04 182.33,365.00 184.87,364.95 187.40,364.97 189.93,365.90 192.47,365.69 195.00,366.49 197.68,365.19 200.36,365.95 203.04,366.96 205.72,365.68 208.40,366.76 210.99,366.78 213.58,366.06 216.17,367.72 218.76,366.76 221.34,367.83 223.93,366.83 226.52,366.90 229.11,368.72 231.70,367.64 234.29,367.45 236.88,368.02 239.47,368.47 242.06,369.48 244.64,368.21 247.23,369.09 249.82,371.09 252.41,370.80 255.00,369.62 257.73,370.35 260.47,371.06 263.20,371.83 265.93,372.42 268.67,372.84 271.40,373.20 274.07,372.26 276.74,372.74 279.41,372.39 282.09,372.14 284.76,370.90 287.43,371.66 290.10,371.15 292.73,371.95 295.35,370.62 297.98,372.37 300.60,371.16 303.23,373.59 305.85,373.56 308.48,373.80 311.10,375.02 313.57,374.43 316.03,373.68 318.50,374.04 320.97,374.29 323.43,373.50 325.90,373.08 328.37,372.80 330.83,372.83 333.30,373.02 333.30,375.55 330.83,375.67 328.37,375.70 325.90,375.95 323.43,376.29 320.97,377.07 318.50,377.12 316.03,376.41 313.57,377.14 311.10,378.10 308.48,376.77 305.85,376.05 303.23,376.03 300.60,374.13 297.98,375.68 295.35,373.44 292.73,374.94 290.10,373.94 287.43,374.28 284.76,373.73 282.09,375.12 279.41,375.16 276.74,375.29 274.07,375.63 271.40,376.56 268.67,375.91 265.93,375.23 263.20,374.64 260.47,373.99 257.73,373.11 255.00,372.73 252.41,373.50 249.82,373.91 247.23,371.79 244.64,371.35 242.06,372.50 239.47,371.48 236.88,371.00 234.29,370.43 231.70,371.11 229.11,371.45 226.52,369.60 223.93,369.57 221.34,370.98 218.76,369.58 216.17,371.12 213.58,369.15 210.99,369.78 208.40,369.70 205.72,368.78 203.04,370.34 200.36,368.92 197.68,368.08 195.00,369.60 192.47,369.00 189.93,369.14 187.40,368.42 184.87,367.81 182.33,367.89 179.80,368.25 177.00,368.40 174.20,367.88 171.40,367.20 168.60,367.56 165.80,366.22 163.00,366.96 160.20,366.12 157.40,365.68 154.60,365.78 151.80,365.11 148.70,363.57 145.60,363.24 142.50,362.47 139.37,363.14 136.23,362.47 133.10,362.20 130.78,361.67 128.45,360.73 126.12,360.62 123.80,359.85 120.98,359.53 118.16,360.56 115.34,361.22 112.52,360.76 109.70,359.69 106.60,361.44 103.50,361.12 100.40,361.57 98.07,364.87 95.73,365.26 93.40,366.54 91.07,366.79 88.73,368.69 86.40,370.12 84.05,369.84 81.70,370.56 79.35,372.38 77.00,371.94 73.50,373.74 70.00,373.24 66.90,374.54 63.80,373.71 60.70,373.00 58.95,370.91 57.20,369.16 54.50,369.96 51.80,370.43" fill="#b8b8b8" stroke="#b8b8b8" stroke-width="1.6" stroke-linejoin="round"/>
<path d="M55.20 368.32V370.58M62.00 371.88V373.81M65.40 372.65V374.25M68.80 371.33V374.31M72.20 371.40V373.95M75.60 370.35V373.64M79.00 370.26V372.35M82.40 367.53V371.03M85.80 367.09V370.66M89.20 365.32V368.77M92.60 363.39V367.84M96.00 361.34V366.21M99.40 360.00V363.43M102.80 357.97V362.08M106.20 357.79V362.35M109.60 356.19V360.65M113.00 357.31V361.45M116.40 357.17V361.84M119.80 356.19V360.64M123.20 355.53V361.19M126.60 356.81V361.86M130.00 357.64V361.88M133.40 358.45V363.19M136.80 358.65V363.73M140.20 358.92V363.73M143.60 359.12V363.46M147.00 359.60V363.71M150.40 360.63V364.58M153.80 360.94V367.24M157.20 361.51V367.22M160.60 362.77V366.88M164.00 362.37V368.00M167.40 362.49V368.75M170.80 363.34V368.58M174.20 364.25V368.40M177.60 364.16V369.22M181.00 364.10V369.02M184.40 364.36V368.69M187.80 364.24V369.40M191.20 365.55V369.42M194.60 364.96V371.02M198.00 364.22V369.61M201.40 365.34V370.68M204.80 364.76V370.84M208.20 365.27V370.67M211.60 365.78V370.21M215.00 366.53V370.93M218.40 366.27V370.42M221.80 367.25V371.12M225.20 365.37V371.03M228.60 366.85V372.66M232.00 367.05V371.55M235.40 367.11V371.34M238.80 367.42V372.72M242.20 368.12V373.92M245.60 367.17V373.16M249.00 369.70V373.86M252.40 369.34V374.98M255.80 368.50V374.24M259.20 369.39V374.91M262.60 370.94V375.45M266.00 371.63V375.80M269.40 371.82V377.52M272.80 372.14V376.63M276.20 371.74V376.33M279.60 371.22V376.24M283.00 370.84V375.42M286.40 369.88V375.56M289.80 370.28V374.55M293.20 371.15V374.94M296.60 370.49V375.52M300.00 370.40V375.58M303.40 371.99V377.62M306.80 372.29V377.64M310.20 373.20V379.02M313.60 372.64V378.55M317.00 372.95V377.78M320.40 373.37V378.21M323.80 372.96V376.96M327.20 372.23V376.57M330.60 371.77V376.78" stroke="#a8a8a8" stroke-width="2.8" fill="none"/>
<polygon points="51.80,371.30 54.77,372.36 57.73,372.43 60.70,372.61 63.62,372.88 66.55,372.22 69.48,372.42 72.40,373.00 74.73,372.15 77.05,370.10 79.38,368.85 81.70,367.30 84.03,365.25 86.35,363.15 88.67,362.12 91.00,360.06 93.35,357.28 95.70,357.46 98.05,354.27 100.40,353.29 102.73,351.98 105.05,351.61 107.38,348.96 109.70,348.43 112.05,347.97 114.40,344.92 116.75,343.17 119.10,343.05 121.90,343.13 124.70,344.16 127.50,343.95 130.30,343.50 133.10,344.52 135.77,343.92 138.44,344.34 141.11,344.48 143.79,344.15 146.46,344.50 149.13,345.26 151.80,344.92 154.52,346.10 157.23,345.62 159.95,345.88 162.67,344.97 165.38,345.34 168.10,345.88 170.51,346.47 172.93,346.28 175.34,347.36 177.76,347.47 180.17,346.54 182.59,346.81 185.00,347.52 187.46,348.28 189.92,347.05 192.37,347.70 194.83,348.42 197.29,347.31 199.75,347.68 202.21,349.27 204.66,349.10 207.12,348.26 209.58,347.84 212.04,349.15 214.49,348.86 216.95,349.69 219.41,350.26 221.87,349.76 224.33,348.97 226.78,348.60 229.24,348.68 231.70,349.76 234.16,349.60 236.62,348.99 239.07,348.65 241.53,349.88 243.99,349.98 246.45,348.96 248.91,350.45 251.36,350.10 253.82,348.30 256.28,349.58 258.74,350.16 261.19,348.96 263.65,349.95 266.11,348.57 268.57,349.07 271.03,350.60 273.48,349.53 275.94,349.90 278.40,348.99 281.07,349.26 283.74,349.25 286.41,348.01 289.09,349.16 291.76,348.13 294.43,348.97 297.10,347.91 299.77,348.19 302.44,348.39 305.11,348.52 307.79,350.89 310.46,350.06 313.13,350.56 315.80,351.11 318.30,352.42 320.80,353.14 323.30,352.90 325.80,353.35 328.30,351.79 330.80,351.89 333.30,353.09 333.30,359.10 330.80,357.70 328.30,357.94 325.80,359.46 323.30,358.93 320.80,358.96 318.30,358.51 315.80,357.49 313.13,356.47 310.46,356.05 307.79,357.04 305.11,354.93 302.44,354.51 299.77,354.28 297.10,353.88 294.43,355.09 291.76,354.58 289.09,354.73 286.41,354.42 283.74,355.25 281.07,355.21 278.40,355.05 275.94,356.14 273.48,355.78 271.03,356.60 268.57,355.20 266.11,354.45 263.65,356.45 261.19,355.59 258.74,356.43 256.28,355.73 253.82,354.62 251.36,356.30 248.91,356.91 246.45,355.41 243.99,356.33 241.53,356.23 239.07,355.36 236.62,355.08 234.16,355.73 231.70,355.68 229.24,355.03 226.78,354.62 224.33,355.52 221.87,356.05 219.41,356.44 216.95,355.61 214.49,355.47 212.04,355.84 209.58,354.06 207.12,354.84 204.66,355.04 202.21,355.60 199.75,353.82 197.29,353.28 194.83,355.03 192.37,354.25 189.92,353.74 187.46,354.94 185.00,353.71 182.59,353.02 180.17,353.09 177.76,354.29 175.34,353.94 172.93,353.21 170.51,352.67 168.10,351.98 165.38,352.34 162.67,351.48 159.95,352.18 157.23,352.33 154.52,352.80 151.80,351.48 149.13,351.51 146.46,350.83 143.79,350.83 141.11,351.28 138.44,350.52 135.77,350.21 133.10,351.51 130.30,349.90 127.50,350.55 124.70,350.65 121.90,349.55 119.10,349.36 116.75,349.81 114.40,350.57 112.05,353.97 109.70,354.32 107.38,354.80 105.05,356.85 102.73,357.60 100.40,358.48 98.05,359.02 95.70,361.85 93.35,361.67 91.00,363.95 88.67,365.44 86.35,366.29 84.03,368.07 81.70,369.75 79.38,371.12 77.05,372.06 74.73,373.95 72.40,374.68 69.48,373.99 66.55,374.18 63.62,374.51 60.70,374.00 57.73,372.90 54.77,373.38 51.80,372.36" fill="#b8b8b8" stroke="#b8b8b8" stroke-width="1.6" stroke-linejoin="round"/>
<path d="M51.80 370.74V373.06M55.20 372.24V373.64M58.60 372.17V373.60M62.00 372.86V374.29M65.40 372.58V374.28M68.80 371.93V374.20M72.20 372.84V374.89M75.60 371.28V373.32M79.00 367.94V372.35M82.40 365.83V369.89M85.80 362.79V367.65M89.20 360.54V366.51M92.60 357.17V363.32M96.00 355.71V362.36M99.40 352.41V359.62M102.80 350.71V358.99M106.20 348.63V357.38M109.60 346.26V356.45M113.00 344.64V354.85M116.40 340.92V352.51M119.80 341.05V351.64M123.20 340.83V352.83M126.60 341.70V352.87M130.00 341.91V351.86M133.40 342.82V352.99M136.80 341.70V352.81M140.20 341.75V353.83M143.60 342.33V352.88M147.00 342.11V353.65M150.40 342.99V353.68M153.80 343.36V355.09M157.20 344.23V354.02M160.60 343.32V354.10M164.00 342.56V354.32M167.40 343.81V354.06M170.80 344.44V354.62M174.20 345.35V354.95M177.60 345.92V355.85M181.00 344.97V355.13M184.40 344.93V356.13M187.80 346.42V356.44M191.20 345.36V355.79M194.60 346.54V356.48M198.00 344.96V355.86M201.40 346.03V357.54M204.80 346.57V357.54M208.20 346.25V356.12M211.60 346.70V357.84M215.00 346.51V358.19M218.40 347.57V358.37M221.80 348.31V357.84M225.20 346.37V357.63M228.60 346.30V357.71M232.00 347.67V357.78M235.40 347.56V357.16M238.80 347.15V356.86M242.20 347.70V358.24M245.60 346.90V358.23M249.00 348.38V359.13M252.40 346.74V358.16M255.80 347.50V357.19M259.20 348.16V358.11M262.60 347.28V358.23M266.00 346.33V357.02M269.40 347.62V357.72M272.80 347.68V358.41M276.20 348.01V357.91M279.60 347.60V356.81M283.00 347.29V357.34M286.40 346.80V355.95M289.80 346.53V357.06M293.20 346.91V356.73M296.60 346.10V356.28M300.00 345.99V356.41M303.40 346.62V356.20M306.80 348.03V358.09M310.20 348.53V357.50M313.60 348.08V359.22M317.00 349.60V359.86M320.40 350.29V361.55M323.80 351.38V360.39M327.20 350.37V360.70M330.60 349.66V360.24" stroke="#a8a8a8" stroke-width="2.8" fill="none"/>
<polyline points="51.80,371.90 54.77,372.99 57.73,372.64 60.70,373.46 63.62,373.72 66.55,373.25 69.48,373.01 72.40,373.93 74.73,372.99 77.05,371.15 79.38,369.95 81.70,368.31 84.03,366.82 86.35,364.72 88.67,363.92 91.00,362.18 93.35,359.34 95.70,359.42 98.05,356.36 100.40,355.76 102.73,354.87 105.05,354.26 107.38,351.72 109.70,351.34 112.05,351.08 114.40,347.77 116.75,346.53 119.10,346.34 121.90,346.33 124.70,347.40 127.50,347.22 130.30,346.84 133.10,348.00 135.77,347.17 138.44,347.40 141.11,347.99 143.79,347.57 146.46,347.73 149.13,348.48 151.80,348.17 154.52,349.60 157.23,349.12 159.95,348.91 162.67,348.08 165.38,348.81 168.10,348.98 170.51,349.51 172.93,349.71 175.34,350.55 177.76,350.91 180.17,350.03 182.59,350.10 185.00,350.67 187.46,351.61 189.92,350.30 192.37,350.83 194.83,351.58 197.29,350.28 199.75,350.73 202.21,352.30 204.66,352.09 207.12,351.52 209.58,350.75 212.04,352.60 214.49,352.27 216.95,352.68 219.41,353.17 221.87,353.07 224.33,352.16 226.78,351.70 229.24,352.12 231.70,352.73 234.16,352.71 236.62,352.01 239.07,352.00 241.53,352.99 243.99,352.93 246.45,352.38 248.91,353.79 251.36,353.00 253.82,351.69 256.28,352.51 258.74,353.33 261.19,352.27 263.65,353.12 266.11,351.61 268.57,352.27 271.03,353.45 273.48,352.89 275.94,353.07 278.40,352.03 281.07,352.42 283.74,352.27 286.41,351.37 289.09,351.94 291.76,351.41 294.43,352.17 297.10,350.96 299.77,351.20 302.44,351.17 305.11,351.84 307.79,353.77 310.46,352.93 313.13,353.52 315.80,354.28 318.30,355.22 320.80,356.05 323.30,355.76 325.80,356.36 328.30,354.89 330.80,354.96 333.30,356.20" fill="none" stroke="#e60012" stroke-width="2.9" stroke-linejoin="round" stroke-linecap="round" opacity="1"/>
<polyline points="51.80,370.20 54.50,369.66 57.20,368.86 58.95,370.19 60.70,372.58 63.80,373.21 66.90,373.68 70.00,372.28 73.50,372.91 77.00,371.38 79.35,371.29 81.70,369.40 84.05,368.99 86.40,368.83 88.73,367.37 91.07,365.75 93.40,365.54 95.73,363.82 98.07,363.43 100.40,360.43 103.50,359.91 106.60,360.09 109.70,358.36 112.52,359.27 115.34,359.92 118.16,358.81 120.98,358.13 123.80,358.43 126.12,359.35 128.45,359.28 130.78,360.00 133.10,360.79 136.23,361.15 139.37,361.39 142.50,361.13 145.60,361.57 148.70,361.76 151.80,363.30 154.60,364.41 157.40,364.36 160.20,364.73 163.00,365.37 165.80,364.84 168.60,366.20 171.40,365.89 174.20,366.33 177.00,366.71 179.80,366.63 182.33,366.48 184.87,366.53 187.40,366.69 189.93,367.53 192.47,367.44 195.00,368.09 197.68,366.83 200.36,367.58 203.04,368.70 205.72,367.32 208.40,368.02 210.99,368.06 213.58,367.78 216.17,369.51 218.76,368.16 221.34,369.39 223.93,368.22 226.52,368.19 229.11,370.14 231.70,369.37 234.29,368.80 236.88,369.79 239.47,370.17 242.06,371.08 244.64,369.97 247.23,370.50 249.82,372.38 252.41,372.16 255.00,371.14 257.73,371.92 260.47,372.34 263.20,373.44 265.93,373.69 268.67,374.59 271.40,374.91 274.07,373.91 276.74,374.07 279.41,373.75 282.09,373.46 284.76,372.50 287.43,372.86 290.10,372.36 292.73,373.27 295.35,372.00 297.98,374.10 300.60,372.66 303.23,374.80 305.85,374.86 308.48,375.13 311.10,376.62 313.57,375.60 316.03,375.11 318.50,375.76 320.97,375.80 323.43,375.06 325.90,374.40 328.37,374.41 330.83,374.26 333.30,374.20" fill="none" stroke="#231815" stroke-width="2.9" stroke-linejoin="round" stroke-linecap="round" opacity="1"/>
<polygon points="372.50,374.37 375.45,372.04 378.40,370.01 380.73,370.56 383.07,371.45 385.40,373.70 388.90,371.71 392.40,374.27 392.64,370.47 392.88,368.37 393.13,366.21 393.37,363.48 393.61,361.55 393.85,358.68 394.09,355.78 394.34,354.50 394.58,350.33 394.82,349.11 395.06,347.05 395.31,344.49 395.55,340.95 395.79,339.27 396.03,337.65 396.27,333.95 396.52,330.78 396.76,328.99 397.00,327.74 397.28,323.10 397.55,320.12 397.83,319.13 398.11,317.21 398.38,314.68 398.66,311.04 398.94,310.34 399.21,306.12 399.49,304.71 399.76,300.77 400.04,297.73 400.32,295.78 400.59,293.45 400.87,292.14 401.15,289.49 401.42,285.78 401.70,285.59 402.14,281.37 402.57,278.45 403.01,275.69 403.45,274.34 403.89,272.71 404.32,267.94 404.76,264.54 405.20,264.20 407.55,263.25 409.90,265.99 411.27,266.92 412.63,269.52 414.00,270.34 415.37,274.05 416.73,275.27 418.10,276.86 419.83,280.82 421.55,281.22 423.27,285.09 425.00,285.54 426.34,288.93 427.69,290.59 429.03,294.02 430.37,293.61 431.71,297.22 433.06,298.71 434.40,302.06 436.28,303.78 438.16,305.10 440.04,305.90 441.92,307.36 443.80,309.68 445.66,311.58 447.52,312.56 449.38,314.38 451.24,317.19 453.10,318.50 455.45,318.56 457.80,321.55 460.15,320.24 462.50,322.31 464.82,322.86 467.15,326.56 469.48,328.09 471.80,328.14 474.13,330.57 476.47,331.86 478.80,331.89 481.13,333.16 483.47,334.85 485.80,337.21 488.13,335.94 490.47,337.78 492.80,338.58 495.13,339.05 497.47,339.90 499.80,341.58 502.40,340.29 505.00,343.19 507.34,343.01 509.68,345.17 512.02,346.14 514.36,345.02 516.70,348.06 519.04,348.93 521.38,347.62 523.72,347.52 526.06,348.53 528.40,351.80 530.72,349.80 533.04,353.05 535.36,351.28 537.68,353.65 540.00,352.59 542.34,353.62 544.68,355.94 547.02,354.69 549.36,356.18 551.70,358.82 554.62,358.12 557.55,359.32 560.48,359.67 563.40,357.09 566.33,358.25 569.25,360.59 572.17,360.69 575.10,359.45 578.02,361.07 580.95,360.77 583.88,361.33 586.80,361.00 589.70,361.38 592.60,364.47 595.50,363.11 598.40,365.19 600.74,364.06 603.08,366.00 605.42,365.53 607.76,367.06 610.10,367.13 613.02,368.87 615.95,368.40 618.88,370.44 621.80,370.49 624.14,370.10 626.48,371.54 628.82,372.65 631.16,374.21 633.50,373.22 636.06,373.24 638.62,375.29 641.18,375.10 643.74,374.89 646.30,374.78 646.30,376.09 643.74,376.71 641.18,376.54 638.62,376.58 636.06,374.34 633.50,374.93 631.16,375.43 628.82,373.74 626.48,372.40 624.14,371.30 621.80,371.61 618.88,371.88 615.95,369.24 613.02,370.48 610.10,368.14 607.76,368.57 605.42,366.72 603.08,366.91 600.74,365.31 598.40,366.79 595.50,364.56 592.60,366.16 589.70,362.83 586.80,362.56 583.88,363.26 580.95,362.37 578.02,362.82 575.10,360.76 572.17,362.18 569.25,361.87 566.33,359.83 563.40,358.65 560.48,361.04 557.55,360.21 554.62,359.43 551.70,359.93 549.36,357.83 547.02,356.49 544.68,356.98 542.34,354.96 540.00,354.19 537.68,355.31 535.36,352.89 533.04,354.29 530.72,351.26 528.40,352.85 526.06,349.71 523.72,349.20 521.38,349.24 519.04,350.31 516.70,349.00 514.36,346.69 512.02,347.67 509.68,345.93 507.34,343.94 505.00,344.86 502.40,341.62 499.80,342.84 497.47,341.42 495.13,339.84 492.80,339.72 490.47,339.10 488.13,336.98 485.80,338.53 483.47,335.71 481.13,334.10 478.80,332.99 476.47,333.35 474.13,332.03 471.80,329.57 469.48,329.14 467.15,327.94 464.82,323.71 462.50,323.22 460.15,321.25 457.80,322.65 455.45,319.78 453.10,320.23 451.24,318.83 449.38,315.31 447.52,314.20 445.66,312.97 443.80,311.03 441.92,308.60 440.04,306.71 438.16,305.92 436.28,304.97 434.40,303.30 433.06,299.76 431.71,298.23 430.37,294.59 429.03,294.78 427.69,291.47 426.34,290.38 425.00,287.02 423.27,286.60 421.55,282.32 419.83,282.29 418.10,278.39 416.73,276.34 415.37,275.20 414.00,271.71 412.63,270.52 411.27,267.77 409.90,267.08 407.55,264.48 405.20,265.31 404.76,265.65 404.32,268.79 403.89,273.88 403.45,275.70 403.01,276.84 402.57,279.48 402.14,282.54 401.70,286.79 401.42,287.58 401.15,290.81 400.87,292.91 400.59,294.54 400.32,297.08 400.04,299.32 399.76,301.84 399.49,306.29 399.21,307.21 398.94,311.53 398.66,312.68 398.38,315.95 398.11,318.42 397.83,320.25 397.55,321.11 397.28,324.34 397.00,329.13 396.76,330.22 396.52,332.23 396.27,334.89 396.03,338.85 395.79,340.81 395.55,342.07 395.31,345.68 395.06,348.03 394.82,350.15 394.58,351.70 394.34,355.53 394.09,356.53 393.85,359.98 393.61,362.45 393.37,364.80 393.13,367.14 392.88,369.50 392.64,371.44 392.40,375.33 388.90,372.96 385.40,374.90 383.07,372.04 380.73,371.52 378.40,370.71 375.45,373.04 372.50,375.49" fill="#b8b8b8" stroke="#b8b8b8" stroke-width="1.6" stroke-linejoin="round"/>
<path d="M372.50 374.28V375.72M375.90 371.63V373.18M379.30 369.52V371.83M382.70 370.32V373.02M386.10 372.61V375.01M389.50 371.73V373.93M392.90 368.23V369.46M396.30 332.87V335.17M399.70 300.84V303.68M403.10 274.72V277.42M406.50 263.76V264.80M409.90 265.28V267.82M413.30 269.70V271.36M416.70 275.20V276.42M420.10 279.99V283.15M423.50 284.56V287.02M426.90 289.04V291.67M430.30 293.59V294.77M433.70 299.36V302.21M437.10 303.40V306.51M440.50 305.23V308.27M443.90 308.92V311.58M447.30 311.76V314.64M450.70 315.75V318.56M454.10 318.21V320.51M457.50 320.80V322.74M460.90 319.99V322.87M464.30 321.76V324.55M467.70 325.93V328.93M471.10 328.01V329.65M474.50 329.97V333.20M477.90 331.42V333.63M481.30 332.21V335.41M484.70 335.90V337.12M488.10 334.70V337.97M491.50 337.36V340.20M494.90 338.62V340.18M498.30 339.65V342.62M501.70 340.69V342.21M505.10 343.23V344.67M508.50 343.46V345.53M511.90 345.90V347.45M515.30 345.83V348.00M518.70 347.95V351.11M522.10 347.10V349.73M525.50 347.74V350.44M528.90 351.03V352.97M532.30 351.18V354.07M535.70 351.11V354.02M539.10 352.57V355.22M542.50 352.88V356.16M545.90 354.51V357.52M549.30 355.91V357.92M552.70 358.56V359.80M556.10 358.09V360.70M559.50 358.62V361.68M562.90 357.46V359.33M566.30 357.88V360.37M569.70 359.78V362.85M573.10 359.67V362.65M576.50 360.53V361.62M579.90 360.49V362.74M583.30 361.58V362.70M586.70 361.04V362.39M590.10 360.96V364.01M593.50 363.86V365.97M596.90 363.77V366.33M600.30 363.90V366.11M603.70 365.43V367.35M607.10 366.45V368.09M610.50 366.99V368.96M613.90 367.87V371.03M617.30 368.54V371.16M620.70 370.11V371.95M624.10 369.94V371.30M627.50 371.57V373.37M630.90 373.34V376.18M634.30 372.89V375.12M637.70 373.91V376.66M641.10 374.44V377.55M644.50 374.82V376.29" stroke="#a8a8a8" stroke-width="2.8" fill="none"/>
<polygon points="372.50,369.96 375.23,370.56 377.97,371.11 380.70,372.56 383.32,372.61 385.95,372.82 388.57,374.17 391.20,374.17 392.02,371.94 392.84,368.93 393.66,365.39 394.48,365.40 395.30,362.76 396.12,359.73 396.94,357.42 397.76,355.34 398.58,353.96 399.40,351.05 400.18,348.12 400.96,344.96 401.73,342.09 402.51,339.73 403.29,339.00 404.07,334.78 404.84,332.60 405.62,330.12 406.40,326.73 409.50,330.01 412.60,327.99 415.70,330.02 418.80,331.38 421.90,330.35 425.00,331.56 427.36,331.28 429.72,332.02 432.08,332.32 434.44,332.80 436.80,335.61 439.12,336.28 441.44,337.35 443.76,335.82 446.08,338.16 448.40,337.51 451.32,339.10 454.25,338.85 457.18,338.59 460.10,340.52 462.85,338.56 465.60,341.32 468.35,342.57 471.10,342.71 473.53,342.04 475.97,342.60 478.40,340.12 480.83,342.59 483.27,344.45 485.70,344.82 488.13,346.37 490.57,345.67 493.00,346.24 495.43,346.37 497.87,347.01 500.30,346.40 502.73,347.49 505.17,348.10 507.60,347.30 510.08,348.53 512.56,347.59 515.04,349.86 517.52,349.03 520.00,349.47 522.80,349.39 525.60,349.64 528.40,349.30 530.72,349.60 533.04,353.02 535.36,352.56 537.68,353.18 540.00,354.22 542.92,354.64 545.85,352.83 548.78,352.78 551.70,354.21 554.43,353.55 557.17,353.83 559.90,354.51 562.63,355.08 565.37,354.96 568.10,352.77 570.90,354.35 573.70,356.09 576.50,356.43 579.30,354.86 582.10,355.67 584.82,356.28 587.53,356.28 590.25,357.27 592.97,358.85 595.68,358.12 598.40,358.76 601.13,357.76 603.87,358.93 606.60,361.53 609.33,360.70 612.07,360.22 614.80,360.83 617.52,362.41 620.23,362.59 622.95,361.49 625.67,363.69 628.38,363.32 631.10,363.89 633.63,363.25 636.17,363.85 638.70,363.98 641.23,364.20 643.77,363.09 646.30,364.67 646.30,365.42 643.77,363.98 641.23,365.39 638.70,364.83 636.17,364.84 633.63,364.45 631.10,365.34 628.38,364.09 625.67,364.43 622.95,362.75 620.23,363.66 617.52,363.32 614.80,361.84 612.07,361.88 609.33,362.10 606.60,362.62 603.87,360.48 601.13,358.96 598.40,359.63 595.68,359.64 592.97,359.85 590.25,358.47 587.53,357.03 584.82,357.38 582.10,356.78 579.30,356.30 576.50,357.68 573.70,356.88 570.90,355.52 568.10,353.79 565.37,356.06 562.63,356.17 559.90,355.77 557.17,354.87 554.43,354.29 551.70,355.50 548.78,353.78 545.85,353.93 542.92,356.09 540.00,355.18 537.68,354.71 535.36,353.81 533.04,354.02 530.72,351.00 528.40,350.09 525.60,350.68 522.80,350.71 520.00,350.56 517.52,349.82 515.04,350.94 512.56,349.26 510.08,350.04 507.60,348.70 505.17,349.07 502.73,348.75 500.30,347.65 497.87,348.26 495.43,347.94 493.00,347.16 490.57,346.75 488.13,347.30 485.70,345.98 483.27,345.99 480.83,343.87 478.40,341.12 475.97,343.88 473.53,343.62 471.10,343.44 468.35,344.12 465.60,342.67 462.85,339.84 460.10,342.06 457.18,340.01 454.25,339.92 451.32,340.29 448.40,338.95 446.08,339.11 443.76,336.86 441.44,338.37 439.12,337.58 436.80,337.15 434.44,334.15 432.08,333.81 429.72,333.16 427.36,332.69 425.00,332.76 421.90,331.10 418.80,333.07 415.70,331.40 412.60,329.20 409.50,331.30 406.40,327.87 405.62,331.22 404.84,333.25 404.07,335.90 403.29,340.34 402.51,341.02 401.73,343.27 400.96,345.80 400.18,349.21 399.40,351.89 398.58,355.14 397.76,356.46 396.94,358.80 396.12,360.78 395.30,363.63 394.48,366.30 393.66,366.68 392.84,370.32 392.02,373.49 391.20,375.61 388.57,375.55 385.95,373.60 383.32,373.48 380.70,373.48 377.97,372.49 375.23,371.11 372.50,370.47" fill="#b8b8b8" stroke="#b8b8b8" stroke-width="1.6" stroke-linejoin="round"/>
<path d="M372.50 369.55V371.05M375.90 370.36V371.74M382.70 371.94V373.97M386.10 372.04V374.38M389.50 373.69V375.77M392.90 368.61V370.32M396.30 358.87V360.90M399.70 349.32V351.53M403.10 339.04V340.38M406.50 325.96V328.84M409.90 328.61V331.80M413.30 327.64V330.37M416.70 329.76V332.87M420.10 330.78V332.37M423.50 329.85V333.02M426.90 331.66V332.63M430.30 331.64V333.59M433.70 332.82V333.94M437.10 335.38V337.27M440.50 336.20V338.64M443.90 335.04V337.54M447.30 337.52V339.41M450.70 338.44V340.06M454.10 338.91V340.16M457.50 338.54V340.30M460.90 340.01V341.49M464.30 340.22V341.48M467.70 341.71V344.27M471.10 342.01V344.05M474.50 342.08V343.93M477.90 340.66V341.93M481.30 342.43V344.92M484.70 344.74V346.01M488.10 345.99V347.43M491.50 345.23V347.37M494.90 345.83V348.31M498.30 345.93V349.07M501.70 346.37V348.96M505.10 346.91V349.99M508.50 346.97V349.98M511.90 347.41V349.95M515.30 349.05V351.58M518.70 349.30V350.25M522.10 349.38V350.67M525.50 349.71V350.54M528.90 348.41V351.28M532.30 351.11V353.64M535.70 352.00V354.31M539.10 353.64V355.07M542.50 354.39V356.04M545.90 352.92V354.11M549.30 352.29V354.61M552.70 352.88V356.06M556.10 353.52V355.05M559.50 354.62V355.53M562.90 354.86V356.08M566.30 353.94V355.59M569.70 352.66V355.61M573.10 354.75V357.48M576.50 355.98V357.88M579.90 355.06V356.11M583.30 355.79V356.85M586.70 356.08V357.25M590.10 356.36V359.02M593.50 358.34V360.27M596.90 357.47V360.65M600.30 357.23V360.22M603.70 358.34V361.05M607.10 360.79V362.73M610.50 359.86V362.64M613.90 360.83V361.94M617.30 362.29V363.35M620.70 362.04V364.19M624.10 361.95V363.97M627.50 363.20V364.50M630.90 363.89V365.29M634.30 363.64V364.49M637.70 362.91V365.89M641.10 363.34V365.84M644.50 362.55V365.62" stroke="#a8a8a8" stroke-width="2.8" fill="none"/>
<polyline points="372.50,370.30 375.23,370.83 377.97,371.73 380.70,373.14 383.32,372.89 385.95,373.12 388.57,374.72 391.20,374.74 392.02,372.71 392.84,369.72 393.66,366.28 394.48,365.73 395.30,363.18 396.12,360.42 396.94,357.99 397.76,355.93 398.58,354.30 399.40,351.55 400.18,348.64 400.96,345.28 401.73,342.59 402.51,340.41 403.29,339.49 404.07,335.38 404.84,332.91 405.62,330.51 406.40,327.30 409.50,330.46 412.60,328.45 415.70,330.90 418.80,332.19 421.90,330.71 425.00,332.11 427.36,332.16 429.72,332.47 432.08,333.06 434.44,333.53 436.80,336.26 439.12,336.80 441.44,337.84 443.76,336.14 446.08,338.64 448.40,338.31 451.32,339.51 454.25,339.54 457.18,339.18 460.10,341.32 462.85,339.35 465.60,342.19 468.35,343.24 471.10,343.03 473.53,342.76 475.97,343.39 478.40,340.76 480.83,343.33 483.27,345.11 485.70,345.56 488.13,346.73 490.57,346.07 493.00,346.67 495.43,347.18 497.87,347.63 500.30,346.90 502.73,348.23 505.17,348.45 507.60,348.03 510.08,349.28 512.56,348.46 515.04,350.42 517.52,349.37 520.00,350.22 522.80,349.96 525.60,350.13 528.40,349.72 530.72,350.32 533.04,353.34 535.36,353.04 537.68,353.85 540.00,354.68 542.92,355.30 545.85,353.52 548.78,353.16 551.70,354.80 554.43,353.91 557.17,354.53 559.90,355.17 562.63,355.47 565.37,355.51 568.10,353.32 570.90,354.75 573.70,356.49 576.50,356.93 579.30,355.46 582.10,356.03 584.82,356.69 587.53,356.65 590.25,357.75 592.97,359.38 595.68,358.98 598.40,359.17 601.13,358.53 603.87,359.77 606.60,361.84 609.33,361.38 612.07,361.07 614.80,361.54 617.52,362.94 620.23,363.32 622.95,362.12 625.67,364.10 628.38,363.73 631.10,364.66 633.63,363.95 636.17,364.40 638.70,364.40 641.23,364.60 643.77,363.67 646.30,365.10" fill="none" stroke="#e60012" stroke-width="2.9" stroke-linejoin="round" stroke-linecap="round" opacity="1"/>
<polyline points="372.50,375.00 375.45,372.77 378.40,370.36 380.73,371.17 383.07,371.77 385.40,374.15 388.90,372.45 392.40,374.68 392.64,371.13 392.88,368.99 393.13,366.67 393.37,364.12 393.61,361.95 393.85,359.34 394.09,356.12 394.34,354.81 394.58,351.00 394.82,349.81 395.06,347.50 395.31,345.08 395.55,341.31 395.79,340.15 396.03,338.27 396.27,334.34 396.52,331.39 396.76,329.62 397.00,328.33 397.28,323.60 397.55,320.78 397.83,319.62 398.11,317.65 398.38,315.51 398.66,311.89 398.94,311.18 399.21,306.57 399.49,305.58 399.76,301.25 400.04,298.60 400.32,296.43 400.59,293.75 400.87,292.52 401.15,290.20 401.42,286.68 401.70,286.33 402.14,282.09 402.57,278.84 403.01,276.28 403.45,275.22 403.89,273.09 404.32,268.33 404.76,265.32 405.20,264.78 407.55,263.88 409.90,266.55 411.27,267.35 412.63,269.88 414.00,271.21 415.37,274.64 416.73,275.84 418.10,277.61 419.83,281.55 421.55,281.65 423.27,285.73 425.00,286.18 426.34,289.81 427.69,291.13 429.03,294.42 430.37,294.17 431.71,297.58 433.06,299.15 434.40,302.57 436.28,304.53 438.16,305.52 440.04,306.27 441.92,308.23 443.80,310.13 445.66,312.25 447.52,313.33 449.38,314.89 451.24,318.09 453.10,319.40 455.45,319.31 457.80,322.13 460.15,320.83 462.50,322.69 464.82,323.29 467.15,327.02 469.48,328.78 471.80,328.85 474.13,331.37 476.47,332.74 478.80,332.39 481.13,333.69 483.47,335.29 485.80,337.59 488.13,336.32 490.47,338.55 492.80,339.07 495.13,339.44 497.47,340.56 499.80,342.17 502.40,341.19 505.00,343.97 507.34,343.45 509.68,345.56 512.02,346.74 514.36,345.77 516.70,348.62 519.04,349.69 521.38,348.43 523.72,348.37 526.06,349.31 528.40,352.43 530.72,350.43 533.04,353.65 535.36,352.22 537.68,354.56 540.00,353.47 542.34,354.37 544.68,356.51 547.02,355.55 549.36,356.95 551.70,359.27 554.62,359.01 557.55,359.77 560.48,360.34 563.40,357.99 566.33,359.13 569.25,361.27 572.17,361.56 575.10,360.31 578.02,361.91 580.95,361.45 583.88,362.31 586.80,361.69 589.70,362.03 592.60,365.32 595.50,364.01 598.40,366.16 600.74,364.74 603.08,366.46 605.42,366.18 607.76,367.70 610.10,367.70 613.02,369.72 615.95,368.81 618.88,371.07 621.80,371.00 624.14,370.61 626.48,371.99 628.82,373.09 631.16,374.97 633.50,374.08 636.06,373.84 638.62,376.09 641.18,375.99 643.74,375.71 646.30,375.20" fill="none" stroke="#231815" stroke-width="2.9" stroke-linejoin="round" stroke-linecap="round" opacity="1"/>
<polygon points="48.00,609.06 50.47,609.90 52.93,609.24 55.40,609.34 57.87,609.31 60.33,609.97 62.80,609.85 65.27,608.89 67.73,608.46 70.20,608.57 71.20,608.30 71.72,604.96 72.25,601.52 72.78,599.82 73.30,596.99 73.67,594.14 74.05,590.84 74.42,590.03 74.80,586.59 75.17,583.53 75.55,581.77 75.92,579.38 76.30,577.31 76.82,574.48 77.33,572.04 77.85,569.23 78.37,566.90 78.88,565.20 79.40,562.23 80.18,559.18 80.95,556.45 81.72,553.14 82.50,550.13 83.53,547.86 84.55,545.42 85.57,542.96 86.60,540.17 87.97,537.41 89.33,534.56 90.70,532.64 92.40,529.12 94.10,526.62 95.80,524.02 97.50,521.87 99.20,519.47 100.90,516.28 102.93,515.12 104.97,513.45 107.00,511.28 109.55,509.20 112.10,508.87 114.65,508.38 117.20,507.01 119.25,508.77 121.30,511.42 123.47,512.76 125.65,515.15 127.83,517.58 130.00,519.84 132.23,521.51 134.47,524.17 136.70,525.43 139.04,526.44 141.38,529.05 143.72,530.35 146.06,530.98 148.40,532.05 150.74,533.86 153.08,536.04 155.42,536.71 157.76,538.60 160.10,540.26 162.08,541.64 164.06,543.38 166.04,544.52 168.02,545.51 170.00,547.22 172.33,548.96 174.67,549.14 177.00,551.55 179.38,552.51 181.76,552.85 184.13,554.46 186.51,554.73 188.89,556.62 191.27,556.61 193.64,558.82 196.02,560.41 198.40,561.34 200.73,560.94 203.06,562.67 205.39,562.81 207.72,564.11 210.05,564.57 212.38,565.03 214.71,566.13 217.04,566.71 219.37,566.46 221.70,567.21 224.04,568.69 226.38,568.98 228.72,569.57 231.06,569.83 233.40,571.28 235.74,571.02 238.08,572.44 240.42,573.38 242.76,573.28 245.10,573.28 247.69,575.02 250.28,574.50 252.87,575.43 255.46,575.77 258.04,577.20 260.63,577.17 263.22,577.37 265.81,577.74 268.40,579.28 271.00,579.87 273.60,580.36 276.20,579.42 278.80,580.12 281.40,580.54 284.00,582.09 286.60,581.57 289.20,582.52 291.80,583.66 294.40,583.61 297.00,582.61 299.60,583.27 302.20,583.86 304.80,584.63 307.40,585.07 310.00,585.17 312.60,585.28 315.20,586.00 318.00,586.36 320.80,587.06 323.60,587.37 326.40,588.02 329.20,587.58 329.20,591.91 326.40,592.33 323.60,591.79 320.80,591.66 318.00,590.89 315.20,590.16 312.60,590.03 310.00,589.76 307.40,589.96 304.80,589.37 302.20,588.60 299.60,588.41 297.00,587.99 294.40,588.45 291.80,588.38 289.20,587.81 286.60,586.77 284.00,587.35 281.40,586.11 278.80,586.03 276.20,585.19 273.60,585.85 271.00,585.45 268.40,585.28 265.81,583.38 263.22,583.45 260.63,583.01 258.04,583.22 255.46,581.45 252.87,581.72 250.28,580.95 247.69,581.16 245.10,579.63 242.76,579.86 240.42,579.34 238.08,579.23 235.74,577.34 233.40,577.80 231.06,575.79 228.72,576.16 226.38,575.41 224.04,574.87 221.70,573.88 219.37,573.06 217.04,573.66 214.71,572.61 212.38,571.67 210.05,571.36 207.72,571.02 205.39,569.88 203.06,569.29 200.73,567.74 198.40,568.45 196.02,567.10 193.64,566.22 191.27,563.80 188.89,563.20 186.51,561.62 184.13,562.00 181.76,560.08 179.38,559.57 177.00,558.69 174.67,556.54 172.33,556.20 170.00,554.51 168.02,552.84 166.04,551.12 164.06,550.37 162.08,548.34 160.10,547.35 157.76,545.40 155.42,543.20 153.08,542.88 150.74,540.43 148.40,538.94 146.06,537.50 143.72,537.10 141.38,536.40 139.04,533.66 136.70,532.04 134.47,530.71 132.23,528.32 130.00,526.18 127.83,523.94 125.65,521.56 123.47,519.38 121.30,518.14 119.25,515.69 117.20,513.75 114.65,515.20 112.10,515.52 109.55,516.06 107.00,517.59 104.97,519.53 102.93,520.57 100.90,521.85 99.20,524.59 97.50,527.14 95.80,528.62 94.10,531.70 92.40,533.43 90.70,537.45 89.33,538.44 87.97,541.14 86.60,543.92 85.57,546.44 84.55,548.93 83.53,550.69 82.50,553.25 81.72,555.52 80.95,559.34 80.18,561.35 79.40,564.50 78.88,567.49 78.37,568.49 77.85,571.28 77.33,573.88 76.82,575.85 76.30,578.81 75.92,580.98 75.55,582.71 75.17,584.97 74.80,587.99 74.42,590.75 74.05,592.21 73.67,595.31 73.30,598.02 72.78,600.67 72.25,602.15 71.72,605.79 71.20,608.59 70.20,609.24 67.73,609.11 65.27,609.11 62.80,610.02 60.33,610.10 57.87,609.35 55.40,609.76 52.93,609.46 50.47,610.47 48.00,609.98" fill="#b8b8b8" stroke="#b8b8b8" stroke-width="1.6" stroke-linejoin="round"/>
<path d="M75.20 583.69V584.78M78.60 565.40V568.90M82.00 551.03V555.84M85.40 542.62V547.51M88.80 533.98V541.28M92.20 527.81V535.80M95.60 522.92V530.66M99.00 517.98V526.77M102.40 513.84V522.57M105.80 509.85V521.04M109.20 507.29V518.28M112.60 507.25V517.21M116.00 505.95V516.21M119.40 506.78V518.37M122.80 510.21V521.12M126.20 513.03V524.78M129.60 517.25V527.88M133.00 519.72V531.76M136.40 522.33V534.44M139.80 525.66V536.11M143.20 527.73V539.41M146.60 529.09V539.87M150.00 530.67V542.74M153.40 533.48V545.83M156.80 535.02V547.39M160.20 538.33V549.40M163.60 541.20V551.99M167.00 542.41V554.61M170.40 545.07V557.09M173.80 547.35V558.39M177.20 549.61V560.83M180.60 549.96V562.14M184.00 552.57V563.53M187.40 552.86V564.99M190.80 554.76V565.87M194.20 557.20V568.26M197.60 558.72V570.10M201.00 558.64V570.20M204.40 560.29V572.22M207.80 562.37V572.55M211.20 562.25V574.01M214.60 563.97V574.43M218.00 564.82V575.37M221.40 564.84V576.14M224.80 566.26V577.60M228.20 567.13V578.20M231.60 567.41V579.08M235.00 569.25V579.16M238.40 570.83V580.91M241.80 570.99V581.83M245.20 571.72V581.52M248.60 573.07V582.53M252.00 573.52V583.06M255.40 573.26V584.02M258.80 574.95V585.76M262.20 575.24V585.66M265.60 575.27V586.13M269.00 577.09V587.41M272.40 578.38V587.39M275.80 578.07V586.95M279.20 578.36V588.07M282.60 579.96V587.93M286.00 579.56V588.71M289.40 581.25V589.01M292.80 582.23V589.74M296.20 581.26V589.74M299.60 581.97V589.44M303.00 581.85V591.04M306.40 582.90V591.82M309.80 583.76V591.53M313.20 584.47V591.46M316.60 585.14V591.80M320.00 585.32V592.76M323.40 586.13V593.46M326.80 586.50V593.31" stroke="#a8a8a8" stroke-width="2.8" fill="none"/>
<polygon points="48.00,607.85 50.47,608.30 52.93,608.04 55.40,608.18 57.87,608.12 60.33,606.95 62.80,608.10 65.27,608.13 67.73,607.88 70.20,608.32 71.20,607.15 72.02,605.35 72.84,602.31 73.66,599.41 74.48,596.30 75.30,593.28 76.47,591.58 77.64,588.95 78.81,586.45 79.99,584.72 81.16,583.72 82.33,580.68 83.50,578.92 85.30,576.78 87.10,574.19 88.90,572.26 90.70,569.43 92.74,567.83 94.78,565.93 96.82,565.10 98.86,562.85 100.90,561.79 103.45,561.12 106.00,559.83 109.07,557.97 112.13,557.83 115.20,557.28 118.20,557.39 120.25,558.99 122.30,559.84 124.87,559.67 127.43,561.61 130.00,561.77 133.40,563.22 136.80,563.10 139.13,564.54 141.47,566.19 143.80,565.85 146.13,566.87 148.47,567.95 150.80,568.65 153.13,570.01 155.47,570.28 157.80,572.17 160.13,572.37 162.47,573.99 164.80,573.62 167.24,574.50 169.68,575.17 172.12,576.80 174.56,576.03 177.00,577.20 179.38,578.36 181.76,579.28 184.13,578.68 186.51,579.40 188.89,579.88 191.27,580.70 193.64,581.16 196.02,581.95 198.40,581.41 200.99,582.04 203.58,582.36 206.17,584.17 208.76,583.66 211.34,584.73 213.93,586.15 216.52,586.50 219.11,586.73 221.70,587.77 224.30,588.16 226.90,588.41 229.50,588.48 232.10,588.62 234.70,589.04 237.30,589.37 239.90,590.47 242.50,590.45 245.10,591.23 247.69,591.50 250.28,592.34 252.87,592.42 255.46,592.07 258.04,593.05 260.63,592.61 263.22,592.39 265.81,593.26 268.40,593.69 271.00,594.02 273.60,594.05 276.20,594.35 278.80,593.75 281.40,595.05 284.00,594.62 286.60,595.30 289.20,594.90 291.80,596.10 294.29,595.48 296.79,596.42 299.28,596.26 301.77,596.14 304.27,595.91 306.76,595.93 309.25,596.10 311.75,597.28 314.24,596.43 316.73,597.16 319.23,597.11 321.72,597.46 324.21,596.97 326.71,596.79 329.20,597.87 329.20,598.61 326.71,597.71 324.21,597.46 321.72,598.23 319.23,597.83 316.73,597.97 314.24,597.23 311.75,597.73 309.25,597.04 306.76,596.65 304.27,596.84 301.77,596.71 299.28,597.28 296.79,597.16 294.29,595.94 291.80,596.40 289.20,595.30 286.60,596.45 284.00,595.37 281.40,595.92 278.80,594.64 276.20,595.06 273.60,594.82 271.00,594.62 268.40,594.39 265.81,593.54 263.22,593.33 260.63,592.97 258.04,593.85 255.46,592.48 252.87,593.20 250.28,593.28 247.69,592.58 245.10,591.68 242.50,591.05 239.90,590.79 237.30,590.24 234.70,589.61 232.10,589.35 229.50,588.78 226.90,589.32 224.30,588.63 221.70,588.09 219.11,587.49 216.52,587.15 213.93,586.67 211.34,584.96 208.76,584.21 206.17,584.38 203.58,582.73 200.99,582.49 198.40,582.02 196.02,582.53 193.64,581.96 191.27,581.17 188.89,580.90 186.51,579.91 184.13,579.08 181.76,579.35 179.38,578.88 177.00,577.42 174.56,576.41 172.12,576.88 169.68,575.50 167.24,574.66 164.80,574.12 162.47,574.59 160.13,573.26 157.80,572.57 155.47,570.89 153.13,570.90 150.80,568.95 148.47,568.40 146.13,567.39 143.80,566.30 141.47,566.28 139.13,565.17 136.80,564.00 133.40,563.50 130.00,562.45 127.43,561.95 124.87,560.44 122.30,559.95 120.25,558.92 118.20,557.94 115.20,557.64 112.13,558.67 109.07,558.84 106.00,559.87 103.45,561.67 100.90,562.00 98.86,563.54 96.82,565.50 94.78,566.61 92.74,567.71 90.70,569.89 88.90,572.59 87.10,574.92 85.30,576.76 83.50,579.51 82.33,581.03 81.16,583.71 79.99,585.24 78.81,587.34 77.64,589.50 76.47,591.75 75.30,594.05 74.48,596.48 73.66,599.97 72.84,602.62 72.02,605.56 71.20,607.61 70.20,608.37 67.73,608.24 65.27,608.54 62.80,608.50 60.33,607.41 57.87,608.22 55.40,608.40 52.93,608.59 50.47,608.26 48.00,608.10" fill="#b8b8b8" stroke="#b8b8b8" stroke-width="1.6" stroke-linejoin="round"/>
<path d="M61.60 607.29V608.13M65.00 607.58V609.15M71.80 605.71V606.52M75.20 593.48V594.62M78.60 586.73V587.94M82.00 581.28V582.41M85.40 576.08V577.21M92.20 567.57V569.03M95.60 564.94V566.62M102.40 560.71V562.45M116.00 556.92V558.34M119.40 557.86V559.00M129.60 561.49V562.55M133.00 562.12V564.06M139.80 564.42V565.82M156.80 570.95V572.03M180.60 578.44V579.30M187.40 579.47V580.29M194.20 580.63V582.65M197.60 581.48V582.34M201.00 581.48V583.44M204.40 582.80V583.64M211.20 584.25V585.40M224.80 587.60V589.04M228.20 587.72V589.81M238.40 589.72V590.53M245.20 590.56V592.02M255.40 591.47V593.37M258.80 592.57V593.77M265.60 592.40V594.29M269.00 593.11V594.72M275.80 594.07V595.45M279.20 593.34V595.44M282.60 594.85V595.70M286.00 595.17V596.10M292.80 595.36V596.61M296.20 595.60V597.12M299.60 595.83V597.53M303.00 595.35V597.56M309.80 596.28V597.11M313.20 596.07V598.08M316.60 596.58V598.44M320.00 596.99V598.38M323.40 596.71V598.32M326.80 597.07V597.88" stroke="#a8a8a8" stroke-width="2.8" fill="none"/>
<polyline points="48.00,609.50 50.47,610.17 52.93,609.41 55.40,609.83 57.87,609.34 60.33,609.94 62.80,609.98 65.27,608.99 67.73,608.82 70.20,609.10 71.20,608.42 71.72,605.33 72.25,602.01 72.78,600.36 73.30,597.50 73.67,594.62 74.05,591.61 74.42,590.37 74.80,587.45 75.17,584.37 75.55,582.30 75.92,580.30 76.30,578.24 76.82,575.30 77.33,573.13 77.85,570.14 78.37,567.81 78.88,566.35 79.40,563.24 80.18,560.02 80.95,557.88 81.72,554.40 82.50,551.68 83.53,549.49 84.55,547.12 85.57,544.64 86.60,542.19 87.97,539.42 89.33,536.49 90.70,535.01 92.40,531.38 94.10,529.26 95.80,526.46 97.50,524.44 99.20,522.10 100.90,519.04 102.93,517.91 104.97,516.27 107.00,514.26 109.55,512.55 112.10,512.37 114.65,511.64 117.20,510.59 119.25,512.38 121.30,514.98 123.47,515.97 125.65,518.25 127.83,520.85 130.00,522.95 132.23,524.92 134.47,527.30 136.70,528.55 139.04,530.03 141.38,532.67 143.72,533.82 146.06,534.15 148.40,535.57 150.74,537.24 153.08,539.60 155.42,540.01 157.76,542.04 160.10,543.80 162.08,545.03 164.06,547.07 166.04,547.79 168.02,549.27 170.00,550.73 172.33,552.79 174.67,552.91 177.00,555.16 179.38,555.87 181.76,556.22 184.13,558.16 186.51,558.34 188.89,559.91 191.27,560.41 193.64,562.45 196.02,563.67 198.40,564.78 200.73,564.20 203.06,566.09 205.39,566.38 207.72,567.45 210.05,567.70 212.38,568.57 214.71,569.23 217.04,570.22 219.37,569.91 221.70,570.58 224.04,571.85 226.38,572.09 228.72,572.83 231.06,572.87 233.40,574.49 235.74,574.07 238.08,575.79 240.42,576.36 242.76,576.45 245.10,576.57 247.69,577.83 250.28,577.73 252.87,578.57 255.46,578.64 258.04,580.38 260.63,580.30 263.22,580.55 265.81,580.71 268.40,582.12 271.00,582.68 273.60,583.07 276.20,582.41 278.80,583.17 281.40,583.47 284.00,584.50 286.60,584.03 289.20,585.06 291.80,585.97 294.40,586.01 297.00,585.28 299.60,585.70 302.20,586.09 304.80,587.24 307.40,587.44 310.00,587.66 312.60,587.90 315.20,588.17 318.00,588.78 320.80,589.15 323.60,589.84 326.40,589.91 329.20,589.90" fill="none" stroke="#231815" stroke-width="2.9" stroke-linejoin="round" stroke-linecap="round" opacity="1"/>
<polyline points="48.00,607.90 50.47,608.32 52.93,608.48 55.40,608.37 57.87,608.20 60.33,607.24 62.80,608.15 65.27,608.39 67.73,607.80 70.20,608.43 71.20,607.35 72.02,605.66 72.84,602.20 73.66,599.81 74.48,596.41 75.30,593.72 76.47,591.60 77.64,589.38 78.81,586.88 79.99,585.18 81.16,583.74 82.33,581.10 83.50,579.31 85.30,576.77 87.10,574.57 88.90,572.49 90.70,569.85 92.74,567.74 94.78,566.27 96.82,565.06 98.86,563.07 100.90,561.92 103.45,561.34 106.00,559.89 109.07,558.36 112.13,558.28 115.20,557.58 118.20,557.75 120.25,558.91 122.30,559.84 124.87,560.08 127.43,561.92 130.00,562.04 133.40,563.23 136.80,563.61 139.13,564.70 141.47,566.15 143.80,565.88 146.13,567.24 148.47,568.26 150.80,568.95 153.13,570.41 155.47,570.57 157.80,572.18 160.13,572.77 162.47,574.05 164.80,573.73 167.24,574.56 169.68,575.32 172.12,576.85 174.56,576.26 177.00,577.26 179.38,578.41 181.76,579.31 184.13,578.68 186.51,579.56 188.89,580.42 191.27,580.93 193.64,581.52 196.02,582.04 198.40,581.85 200.99,582.46 203.58,582.74 206.17,584.27 208.76,584.19 211.34,584.86 213.93,586.45 216.52,586.60 219.11,587.13 221.70,587.82 224.30,588.20 226.90,588.81 229.50,588.73 232.10,588.86 234.70,589.33 237.30,589.72 239.90,590.67 242.50,590.83 245.10,591.26 247.69,592.02 250.28,592.92 252.87,592.76 255.46,592.42 258.04,593.34 260.63,592.75 263.22,592.87 265.81,593.39 268.40,593.77 271.00,594.38 273.60,594.25 276.20,594.85 278.80,594.18 281.40,595.56 284.00,594.95 286.60,595.84 289.20,594.93 291.80,596.26 294.29,595.57 296.79,596.60 299.28,596.68 301.77,596.65 304.27,596.26 306.76,596.03 309.25,596.44 311.75,597.59 314.24,596.70 316.73,597.56 319.23,597.61 321.72,597.87 324.21,597.35 326.71,597.45 329.20,598.10" fill="none" stroke="#e60012" stroke-width="2.9" stroke-linejoin="round" stroke-linecap="round" opacity="1"/>
<polygon points="371.40,608.31 373.73,610.29 376.07,610.07 378.40,609.99 380.73,607.65 383.07,606.01 385.40,606.30 387.33,607.49 389.27,606.73 391.20,609.15 393.13,607.83 395.07,606.21 397.00,604.06 397.59,603.46 398.18,599.23 398.76,597.51 399.35,596.31 399.94,593.31 400.52,590.47 401.11,587.10 401.70,585.03 402.87,583.27 404.03,581.76 405.20,577.97 406.37,575.77 407.53,573.05 408.70,570.86 409.37,570.07 410.04,566.41 410.71,563.79 411.39,561.54 412.06,560.27 412.73,556.30 413.40,555.59 414.57,551.18 415.73,548.99 416.90,546.26 418.07,545.93 419.23,542.13 420.40,539.86 422.15,536.61 423.90,535.15 425.65,534.38 427.40,531.73 428.80,529.64 430.20,527.59 431.60,524.23 433.00,522.50 434.40,517.62 436.73,518.48 439.07,514.78 441.40,512.09 443.73,514.95 446.07,516.19 448.40,516.07 451.90,515.39 455.40,517.93 457.75,519.06 460.10,519.86 462.45,522.27 464.80,521.17 467.14,521.97 469.48,523.17 471.82,523.48 474.16,526.63 476.50,527.53 478.82,526.47 481.14,527.69 483.46,527.98 485.78,530.06 488.10,531.18 490.44,532.45 492.78,531.29 495.12,534.16 497.46,533.21 499.80,533.71 502.40,534.20 505.00,535.65 507.93,537.55 510.85,537.76 513.78,536.69 516.70,535.04 519.04,536.23 521.38,536.90 523.72,538.98 526.06,540.64 528.40,539.51 530.99,541.73 533.58,542.38 536.17,541.19 538.76,543.15 541.34,544.48 543.93,544.17 546.52,544.50 549.11,546.18 551.70,546.18 554.30,545.23 556.90,545.65 559.50,547.89 562.10,548.06 564.70,548.32 567.30,547.15 569.90,546.12 572.50,546.87 575.10,547.73 577.43,549.24 579.76,547.92 582.09,550.31 584.42,551.27 586.75,550.98 589.08,550.17 591.41,552.67 593.74,552.43 596.07,553.40 598.40,554.18 601.00,554.84 603.60,554.68 606.20,556.74 608.80,557.28 611.40,557.67 614.00,557.22 616.60,556.74 619.20,557.54 621.80,557.56 624.27,559.89 626.73,559.76 629.20,559.86 631.67,560.27 634.13,561.29 636.60,560.52 639.07,559.91 641.53,561.15 644.00,560.65 644.00,566.22 641.53,566.48 639.07,565.04 636.60,565.74 634.13,566.71 631.67,565.93 629.20,565.43 626.73,565.27 624.27,565.25 621.80,562.95 619.20,562.93 616.60,562.10 614.00,562.54 611.40,562.78 608.80,562.79 606.20,562.29 603.60,560.05 601.00,560.51 598.40,559.56 596.07,558.89 593.74,557.34 591.41,558.13 589.08,555.37 586.75,555.98 584.42,556.64 582.09,555.64 579.76,552.88 577.43,554.26 575.10,552.81 572.50,551.91 569.90,551.70 567.30,552.54 564.70,553.63 562.10,552.75 559.50,553.07 556.90,551.23 554.30,550.67 551.70,551.20 549.11,551.80 546.52,549.91 543.93,549.67 541.34,549.68 538.76,547.87 536.17,546.66 533.58,547.53 530.99,546.77 528.40,544.81 526.06,546.07 523.72,543.77 521.38,542.44 519.04,541.29 516.70,540.34 513.78,542.34 510.85,543.06 507.93,543.00 505.00,540.68 502.40,539.73 499.80,538.75 497.46,538.01 495.12,539.00 492.78,536.86 490.44,537.50 488.10,536.14 485.78,535.53 483.46,533.18 481.14,532.39 478.82,531.70 476.50,532.50 474.16,531.59 471.82,528.58 469.48,528.01 467.14,527.31 464.80,526.03 462.45,527.62 460.10,525.19 457.75,524.08 455.40,522.91 451.90,520.80 448.40,521.44 446.07,521.45 443.73,519.68 441.40,517.05 439.07,519.80 436.73,522.92 434.40,522.56 433.00,527.09 431.60,528.33 430.20,531.87 428.80,534.28 427.40,535.96 425.65,538.47 423.90,539.30 422.15,540.60 420.40,543.32 419.23,545.28 418.07,549.98 416.90,549.95 415.73,552.81 414.57,554.32 413.40,558.47 412.73,559.10 412.06,563.46 411.39,564.21 410.71,566.71 410.04,569.71 409.37,573.25 408.70,574.16 407.53,575.97 406.37,578.62 405.20,580.75 404.03,584.43 402.87,586.29 401.70,587.72 401.11,589.90 400.52,592.36 399.94,595.28 399.35,598.51 398.76,599.68 398.18,601.76 397.59,605.58 397.00,606.15 395.07,608.67 393.13,610.19 391.20,611.19 389.27,608.57 387.33,609.54 385.40,608.41 383.07,607.29 380.73,609.71 378.40,612.05 376.07,611.50 373.73,611.86 371.40,609.55" fill="#b8b8b8" stroke="#b8b8b8" stroke-width="1.6" stroke-linejoin="round"/>
<path d="M371.40 607.48V610.52M374.80 609.69V612.13M378.20 609.36V612.60M381.60 606.75V608.95M385.00 605.60V608.59M388.40 606.67V609.64M391.80 608.43V611.48M395.20 605.45V608.82M398.60 596.82V601.34M402.00 583.64V588.42M405.40 576.79V580.68M408.80 570.12V574.45M412.20 558.12V564.14M415.60 547.98V554.06M419.00 541.28V547.79M422.40 535.11V541.90M425.80 532.27V539.57M429.20 528.02V534.69M432.60 522.09V528.62M436.00 516.73V524.35M439.40 513.28V520.49M442.80 511.54V521.06M446.20 514.72V523.20M449.60 514.11V522.94M453.00 514.10V523.66M456.40 516.45V525.63M459.80 518.48V526.28M463.20 520.48V528.55M466.60 520.51V528.05M470.00 521.20V530.39M473.40 523.78V532.84M476.80 525.64V534.12M480.20 525.54V533.74M483.60 526.88V534.85M487.00 528.94V537.45M490.40 530.66V539.71M493.80 530.44V539.95M497.20 531.11V540.51M500.60 531.77V541.23M504.00 533.46V541.90M507.40 535.72V544.13M510.80 536.31V544.46M514.20 534.41V544.16M517.60 534.36V542.22M521.00 535.69V543.50M524.40 537.83V545.94M527.80 537.73V547.39M531.20 539.54V549.05M534.60 540.49V548.76M538.00 540.24V549.76M541.40 542.27V551.89M544.80 542.75V551.27M548.20 544.30V552.27M551.60 543.93V553.30M555.00 543.97V552.40M558.40 545.68V553.51M561.80 545.54V555.26M565.20 546.36V554.97M568.60 545.26V553.78M572.00 544.80V553.80M575.40 546.34V554.54M578.80 547.06V554.71M582.20 549.00V557.54M585.60 549.40V557.92M589.00 548.80V556.46M592.40 551.05V559.58M595.80 551.44V560.91M599.20 552.69V561.14M602.60 552.69V561.99M606.00 554.59V563.77M609.40 555.89V564.03M612.80 556.20V563.94M616.20 554.90V564.22M619.60 555.65V564.83M623.00 557.24V565.67M626.40 558.39V566.60M629.80 557.92V567.71M633.20 558.59V568.53M636.60 559.04V567.36M640.00 558.35V567.53M643.40 558.95V568.11" stroke="#a8a8a8" stroke-width="2.8" fill="none"/>
<polygon points="371.40,602.48 373.70,604.09 376.00,607.62 378.35,606.54 380.70,609.32 383.05,608.81 385.40,608.59 388.50,610.93 391.60,608.74 394.70,611.69 396.45,609.35 398.20,605.13 399.95,605.02 401.70,602.13 403.45,601.46 405.20,599.05 406.95,596.66 408.70,596.55 410.58,591.80 412.46,592.09 414.34,587.97 416.22,586.67 418.10,584.23 420.43,585.45 422.75,583.04 425.07,582.80 427.40,580.35 429.73,579.92 432.07,578.02 434.40,574.70 436.75,574.77 439.10,574.40 441.45,571.49 443.80,572.03 446.13,569.23 448.47,568.59 450.80,568.95 453.13,570.20 455.47,571.90 457.80,571.02 460.13,570.97 462.47,570.92 464.80,570.01 468.30,569.93 471.80,571.81 474.12,571.51 476.45,575.02 478.78,574.71 481.10,574.83 483.45,577.71 485.80,577.37 488.15,580.11 490.50,579.38 492.85,583.29 495.20,583.14 497.65,584.57 500.10,583.41 502.55,586.12 505.00,586.18 507.60,586.16 510.20,588.17 512.80,586.29 515.40,587.89 518.00,587.46 520.60,589.96 523.20,590.45 525.80,588.45 528.40,590.01 530.99,590.34 533.58,591.34 536.17,591.14 538.76,590.49 541.34,592.66 543.93,590.78 546.52,590.91 549.11,592.67 551.70,590.87 554.30,591.79 556.90,592.84 559.50,592.81 562.10,593.06 564.70,595.79 567.30,594.70 569.90,596.10 572.50,594.76 575.10,596.75 577.69,594.96 580.28,597.20 582.87,596.22 585.46,597.34 588.04,596.39 590.63,596.02 593.22,596.05 595.81,596.94 598.40,595.42 601.00,595.21 603.60,597.78 606.20,597.55 608.80,598.00 611.40,598.34 614.00,597.19 616.60,598.46 619.20,599.84 621.80,600.89 624.27,600.27 626.73,597.54 629.20,598.94 631.67,598.14 634.13,597.76 636.60,596.64 639.07,596.20 641.53,596.81 644.00,596.79 644.00,600.26 641.53,600.40 639.07,599.44 636.60,599.87 634.13,600.78 631.67,601.36 629.20,602.33 626.73,600.96 624.27,603.54 621.80,603.72 619.20,602.72 616.60,601.41 614.00,600.52 611.40,601.35 608.80,601.18 606.20,601.08 603.60,600.87 601.00,597.95 598.40,598.51 595.81,599.85 593.22,598.79 590.63,599.38 588.04,599.93 585.46,600.23 582.87,599.16 580.28,599.85 577.69,598.07 575.10,600.33 572.50,597.54 569.90,599.10 567.30,597.46 564.70,598.53 562.10,596.10 559.50,596.26 556.90,595.99 554.30,594.55 551.70,593.94 549.11,595.92 546.52,593.63 543.93,593.44 541.34,595.62 538.76,593.78 536.17,594.72 533.58,594.21 530.99,592.99 528.40,592.78 525.80,591.52 523.20,593.15 520.60,592.67 518.00,590.42 515.40,590.98 512.80,589.44 510.20,591.44 507.60,588.99 505.00,589.32 502.55,589.08 500.10,586.55 497.65,587.68 495.20,585.92 492.85,586.20 490.50,582.14 488.15,582.83 485.80,580.14 483.45,581.01 481.10,577.69 478.78,577.63 476.45,577.87 474.12,574.65 471.80,575.04 468.30,573.18 464.80,573.36 462.47,573.91 460.13,573.99 457.80,573.88 455.47,574.55 453.13,573.25 450.80,572.27 448.47,571.48 446.13,572.56 443.80,574.69 441.45,574.37 439.10,577.34 436.75,577.66 434.40,577.94 432.07,581.08 429.73,582.60 427.40,582.48 425.07,585.24 422.75,585.39 420.43,587.90 418.10,586.57 416.22,588.83 414.34,590.42 412.46,594.59 410.58,594.21 408.70,598.19 406.95,598.57 405.20,601.04 403.45,603.60 401.70,604.17 399.95,607.12 398.20,607.19 396.45,611.06 394.70,613.14 391.60,610.52 388.50,612.79 385.40,610.52 383.05,610.48 380.70,610.66 378.35,607.81 376.00,608.71 373.70,605.37 371.40,603.34" fill="#b8b8b8" stroke="#b8b8b8" stroke-width="1.6" stroke-linejoin="round"/>
<path d="M371.40 602.18V604.02M374.80 605.31V607.42M378.20 606.26V608.58M381.60 609.24V610.52M385.00 608.04V611.03M388.40 610.77V612.75M391.80 608.12V611.62M395.20 610.12V613.59M398.60 604.42V607.78M402.00 601.26V605.12M405.40 598.05V601.16M408.80 595.24V599.09M412.20 590.83V595.53M415.60 586.91V589.95M419.00 584.57V587.56M422.40 582.69V586.60M425.80 580.99V585.30M429.20 579.47V583.09M432.60 576.77V580.73M436.00 573.46V579.14M439.40 573.12V577.82M442.80 571.12V575.28M446.20 568.82V573.06M449.60 567.71V572.91M453.00 569.59V573.86M456.40 570.43V575.39M459.80 569.86V574.96M463.20 569.77V574.65M466.60 569.05V574.09M470.00 569.48V575.32M473.40 571.39V575.27M476.80 573.20V579.26M480.20 574.11V578.42M483.60 577.41V581.34M487.00 577.34V583.03M490.40 578.25V583.47M493.80 582.16V587.30M497.20 583.64V588.01M500.60 582.77V588.50M504.00 585.29V589.89M507.40 584.83V590.44M510.80 587.06V591.48M514.20 586.07V591.32M517.60 586.11V591.54M521.00 589.08V593.85M524.40 588.38V593.41M527.80 588.99V593.03M531.20 589.03V594.46M534.60 590.01V595.56M538.00 590.18V594.45M541.40 591.42V596.64M544.80 589.30V594.96M548.20 591.61V595.76M551.60 589.77V595.69M555.00 590.61V596.60M558.40 592.50V596.54M561.80 592.11V596.62M565.20 594.79V598.91M568.60 594.45V598.98M572.00 594.33V598.46M575.40 595.75V600.85M578.80 595.08V599.61M582.20 595.54V600.19M585.60 596.16V601.20M589.00 595.54V600.37M592.40 594.57V600.41M595.80 595.52V601.20M599.20 594.82V599.04M602.60 595.98V600.47M606.00 597.39V601.37M609.40 597.16V601.91M612.80 597.25V601.47M616.20 596.93V602.57M619.60 598.58V604.43M623.00 598.82V605.19M626.40 597.37V601.85M629.80 598.39V602.46M633.20 596.60V602.40M636.60 595.78V600.76M640.00 595.09V601.32M643.40 596.07V601.01" stroke="#a8a8a8" stroke-width="2.8" fill="none"/>
<polyline points="371.40,609.00 373.73,611.10 376.07,610.68 378.40,611.01 380.73,608.58 383.07,606.61 385.40,607.19 387.33,608.53 389.27,607.85 391.20,610.37 393.13,609.04 395.07,607.29 397.00,605.09 397.59,604.35 398.18,600.37 398.76,598.58 399.35,597.44 399.94,594.23 400.52,591.41 401.11,588.64 401.70,586.46 402.87,584.79 404.03,582.99 405.20,579.08 406.37,577.08 407.53,574.80 408.70,572.39 409.37,571.70 410.04,568.23 410.71,565.10 411.39,562.93 412.06,562.05 412.73,557.72 413.40,556.97 414.57,552.63 415.73,550.81 416.90,548.08 418.07,547.98 419.23,543.67 420.40,541.58 422.15,538.75 423.90,537.04 425.65,536.13 427.40,533.76 428.80,531.99 430.20,529.76 431.60,526.23 433.00,525.01 434.40,520.17 436.73,520.71 439.07,517.27 441.40,514.58 443.73,517.44 446.07,518.98 448.40,518.76 451.90,518.08 455.40,520.62 457.75,521.61 460.10,522.49 462.45,524.98 464.80,523.51 467.14,524.51 469.48,525.65 471.82,526.29 474.16,529.28 476.50,529.99 478.82,529.14 481.14,529.99 483.46,530.74 485.78,532.73 488.10,533.62 490.44,535.21 492.78,534.08 495.12,536.64 497.46,535.70 499.80,536.27 502.40,537.01 505.00,538.10 507.93,540.32 510.85,540.38 513.78,539.52 516.70,537.93 519.04,538.88 521.38,539.74 523.72,541.27 526.06,543.37 528.40,542.28 530.99,544.21 533.58,545.19 536.17,543.77 538.76,545.51 541.34,547.08 543.93,546.96 546.52,547.11 549.11,548.92 551.70,548.60 554.30,548.07 556.90,548.50 559.50,550.40 562.10,550.40 564.70,550.82 567.30,550.02 569.90,549.02 572.50,549.37 575.10,550.25 577.43,551.75 579.76,550.27 582.09,553.25 584.42,553.78 586.75,553.54 589.08,552.60 591.41,555.55 593.74,554.98 596.07,556.33 598.40,556.61 601.00,557.61 603.60,557.17 606.20,559.35 608.80,559.86 611.40,560.30 614.00,559.88 616.60,559.50 619.20,560.21 621.80,560.41 624.27,562.57 626.73,562.49 629.20,562.73 631.67,563.09 634.13,563.85 636.60,563.20 639.07,562.34 641.53,563.92 644.00,563.40" fill="none" stroke="#231815" stroke-width="2.9" stroke-linejoin="round" stroke-linecap="round" opacity="1"/>
<polyline points="371.40,603.10 373.70,604.74 376.00,608.13 378.35,607.38 380.70,610.07 383.05,609.57 385.40,609.53 388.50,611.84 391.60,609.68 394.70,612.59 396.45,610.02 398.20,606.15 399.95,605.93 401.70,603.32 403.45,602.57 405.20,599.86 406.95,597.63 408.70,597.40 410.58,593.00 412.46,593.21 414.34,589.33 416.22,587.99 418.10,585.64 420.43,586.74 422.75,584.28 425.07,583.95 427.40,581.37 429.73,581.26 432.07,579.48 434.40,576.29 436.75,576.31 439.10,575.82 441.45,573.12 443.80,573.26 446.13,570.97 448.47,570.08 450.80,570.56 453.13,571.80 455.47,573.13 457.80,572.58 460.13,572.38 462.47,572.46 464.80,571.68 468.30,571.47 471.80,573.39 474.12,573.30 476.45,576.25 478.78,576.12 481.10,576.36 483.45,579.41 485.80,578.77 488.15,581.54 490.50,580.83 492.85,584.80 495.20,584.62 497.65,586.10 500.10,585.14 502.55,587.54 505.00,587.63 507.60,587.64 510.20,589.72 512.80,587.77 515.40,589.49 518.00,588.71 520.60,591.39 523.20,591.90 525.80,589.71 528.40,591.39 530.99,591.66 533.58,592.67 536.17,592.95 538.76,592.05 541.34,594.08 543.93,592.09 546.52,592.20 549.11,594.49 551.70,592.66 554.30,593.25 556.90,594.58 559.50,594.48 562.10,594.35 564.70,597.03 567.30,596.06 569.90,597.38 572.50,596.16 575.10,598.54 577.69,596.46 580.28,598.52 582.87,597.64 585.46,598.71 588.04,598.11 590.63,597.69 593.22,597.40 595.81,598.36 598.40,597.13 601.00,596.48 603.60,599.32 606.20,599.38 608.80,599.40 611.40,599.98 614.00,598.83 616.60,599.91 619.20,601.38 621.80,602.19 624.27,601.81 626.73,599.27 629.20,600.58 631.67,599.94 634.13,599.24 636.60,598.27 639.07,597.92 641.53,598.67 644.00,598.50" fill="none" stroke="#e60012" stroke-width="2.9" stroke-linejoin="round" stroke-linecap="round" opacity="1"/>
<line x1="61.7" y1="718.2" x2="61.7" y2="899.4" stroke="#231815" stroke-width="2.9" stroke-linecap="butt"/>
<line x1="60.300000000000004" y1="898.0" x2="324.3" y2="898.0" stroke="#231815" stroke-width="2.8" stroke-linecap="butt"/>
<line x1="55.900000000000006" y1="898.5" x2="61.7" y2="898.5" stroke="#231815" stroke-width="2.4" stroke-linecap="butt"/>
<g transform="translate(44.23,904.70) scale(1.0000,1)" fill="#231815" stroke="#231815" stroke-width="0.3"><text x="-0.68" y="0" font-size="17.5" font-style="normal" xml:space="preserve">0</text></g>
<line x1="55.900000000000006" y1="831.8" x2="61.7" y2="831.8" stroke="#231815" stroke-width="2.4" stroke-linecap="butt"/>
<g transform="translate(29.84,838.00) scale(1.0000,1)" fill="#231815" stroke="#231815" stroke-width="0.3"><text x="-0.68" y="0" font-size="17.5" font-style="normal" xml:space="preserve">0.2</text></g>
<line x1="55.900000000000006" y1="763.3" x2="61.7" y2="763.3" stroke="#231815" stroke-width="2.4" stroke-linecap="butt"/>
<g transform="translate(29.47,769.50) scale(1.0000,1)" fill="#231815" stroke="#231815" stroke-width="0.3"><text x="-0.68" y="0" font-size="17.5" font-style="normal" xml:space="preserve">0.4</text></g>
<line x1="61.9" y1="696.0" x2="61.9" y2="706.5" stroke="#231815" stroke-width="2.8" stroke-linecap="butt"/>
<line x1="56.1" y1="700.1" x2="61.9" y2="700.1" stroke="#231815" stroke-width="2.8" stroke-linecap="butt"/>
<g transform="translate(44.90,708.80) scale(1.0000,1)" fill="#231815" stroke="#231815" stroke-width="0.3"><text x="-1.33" y="0" font-size="17.5" font-style="normal" xml:space="preserve">1</text></g>
<line x1="59.3" y1="710.3" x2="64.9" y2="716.5" stroke="#231815" stroke-width="1.4" stroke-linecap="butt"/>
<line x1="97.6" y1="898.0" x2="97.6" y2="904.0" stroke="#231815" stroke-width="2.2" stroke-linecap="butt"/>
<g transform="translate(94.18,923.60) scale(1.0800,1)" fill="#231815" stroke="#231815" stroke-width="0.3"><text x="-0.82" y="0" font-size="21" font-style="normal" xml:space="preserve">0</text></g>
<line x1="132.89999999999998" y1="898.0" x2="132.89999999999998" y2="904.0" stroke="#231815" stroke-width="2.2" stroke-linecap="butt"/>
<g transform="translate(123.59,923.60) scale(1.0800,1)" fill="#231815" stroke="#231815" stroke-width="0.3"><text x="-1.60" y="0" font-size="21" font-style="normal" xml:space="preserve">10</text></g>
<line x1="168.2" y1="898.0" x2="168.2" y2="904.0" stroke="#231815" stroke-width="2.2" stroke-linecap="butt"/>
<g transform="translate(158.60,923.60) scale(1.0800,1)" fill="#231815" stroke="#231815" stroke-width="0.3"><text x="-1.06" y="0" font-size="21" font-style="normal" xml:space="preserve">20</text></g>
<line x1="203.5" y1="898.0" x2="203.5" y2="904.0" stroke="#231815" stroke-width="2.2" stroke-linecap="butt"/>
<g transform="translate(193.76,923.60) scale(1.0800,1)" fill="#231815" stroke="#231815" stroke-width="0.3"><text x="-0.80" y="0" font-size="21" font-style="normal" xml:space="preserve">30</text></g>
<line x1="238.79999999999998" y1="898.0" x2="238.79999999999998" y2="904.0" stroke="#231815" stroke-width="2.2" stroke-linecap="butt"/>
<g transform="translate(228.89,923.60) scale(1.0800,1)" fill="#231815" stroke="#231815" stroke-width="0.3"><text x="-0.48" y="0" font-size="21" font-style="normal" xml:space="preserve">40</text></g>
<line x1="274.1" y1="898.0" x2="274.1" y2="904.0" stroke="#231815" stroke-width="2.2" stroke-linecap="butt"/>
<g transform="translate(264.38,923.60) scale(1.0800,1)" fill="#231815" stroke="#231815" stroke-width="0.3"><text x="-0.84" y="0" font-size="21" font-style="normal" xml:space="preserve">50</text></g>
<line x1="309.4" y1="898.0" x2="309.4" y2="904.0" stroke="#231815" stroke-width="2.2" stroke-linecap="butt"/>
<g transform="translate(299.81,923.60) scale(1.0800,1)" fill="#231815" stroke="#231815" stroke-width="0.3"><text x="-1.07" y="0" font-size="21" font-style="normal" xml:space="preserve">60</text></g>
<line x1="397.1" y1="717.1" x2="397.1" y2="898.0" stroke="#231815" stroke-width="2.9" stroke-linecap="butt"/>
<line x1="395.70000000000005" y1="896.6" x2="656.8" y2="896.6" stroke="#231815" stroke-width="2.8" stroke-linecap="butt"/>
<line x1="391.3" y1="896.6" x2="397.1" y2="896.6" stroke="#231815" stroke-width="2.4" stroke-linecap="butt"/>
<g transform="translate(380.23,901.80) scale(1.0000,1)" fill="#231815" stroke="#231815" stroke-width="0.3"><text x="-0.68" y="0" font-size="17.5" font-style="normal" xml:space="preserve">0</text></g>
<line x1="391.3" y1="832.2" x2="397.1" y2="832.2" stroke="#231815" stroke-width="2.4" stroke-linecap="butt"/>
<g transform="translate(365.84,837.40) scale(1.0000,1)" fill="#231815" stroke="#231815" stroke-width="0.3"><text x="-0.68" y="0" font-size="17.5" font-style="normal" xml:space="preserve">0.2</text></g>
<line x1="391.3" y1="766.2" x2="397.1" y2="766.2" stroke="#231815" stroke-width="2.4" stroke-linecap="butt"/>
<g transform="translate(365.47,771.40) scale(1.0000,1)" fill="#231815" stroke="#231815" stroke-width="0.3"><text x="-0.68" y="0" font-size="17.5" font-style="normal" xml:space="preserve">0.4</text></g>
<line x1="397.1" y1="694.6" x2="397.1" y2="705.1" stroke="#231815" stroke-width="2.8" stroke-linecap="butt"/>
<line x1="391.3" y1="698.5" x2="397.1" y2="698.5" stroke="#231815" stroke-width="2.8" stroke-linecap="butt"/>
<g transform="translate(380.80,704.90) scale(1.0000,1)" fill="#231815" stroke="#231815" stroke-width="0.3"><text x="-1.33" y="0" font-size="17.5" font-style="normal" xml:space="preserve">1</text></g>
<line x1="394.2" y1="708.9" x2="400.1" y2="715.7" stroke="#231815" stroke-width="1.4" stroke-linecap="butt"/>
<line x1="432.4" y1="896.6" x2="432.4" y2="902.6" stroke="#231815" stroke-width="2.2" stroke-linecap="butt"/>
<g transform="translate(428.98,923.60) scale(1.0800,1)" fill="#231815" stroke="#231815" stroke-width="0.3"><text x="-0.82" y="0" font-size="21" font-style="normal" xml:space="preserve">0</text></g>
<line x1="467.15" y1="896.6" x2="467.15" y2="902.6" stroke="#231815" stroke-width="2.2" stroke-linecap="butt"/>
<g transform="translate(463.77,923.60) scale(1.0800,1)" fill="#231815" stroke="#231815" stroke-width="0.3"><text x="-0.84" y="0" font-size="21" font-style="normal" xml:space="preserve">5</text></g>
<line x1="501.9" y1="896.6" x2="501.9" y2="902.6" stroke="#231815" stroke-width="2.2" stroke-linecap="butt"/>
<g transform="translate(492.59,923.60) scale(1.0800,1)" fill="#231815" stroke="#231815" stroke-width="0.3"><text x="-1.60" y="0" font-size="21" font-style="normal" xml:space="preserve">10</text></g>
<line x1="536.65" y1="896.6" x2="536.65" y2="902.6" stroke="#231815" stroke-width="2.2" stroke-linecap="butt"/>
<g transform="translate(527.38,923.60) scale(1.0800,1)" fill="#231815" stroke="#231815" stroke-width="0.3"><text x="-1.60" y="0" font-size="21" font-style="normal" xml:space="preserve">15</text></g>
<line x1="571.4" y1="896.6" x2="571.4" y2="902.6" stroke="#231815" stroke-width="2.2" stroke-linecap="butt"/>
<g transform="translate(561.80,923.60) scale(1.0800,1)" fill="#231815" stroke="#231815" stroke-width="0.3"><text x="-1.06" y="0" font-size="21" font-style="normal" xml:space="preserve">20</text></g>
<line x1="606.15" y1="896.6" x2="606.15" y2="902.6" stroke="#231815" stroke-width="2.2" stroke-linecap="butt"/>
<g transform="translate(596.58,923.60) scale(1.0800,1)" fill="#231815" stroke="#231815" stroke-width="0.3"><text x="-1.06" y="0" font-size="21" font-style="normal" xml:space="preserve">25</text></g>
<line x1="640.9" y1="896.6" x2="640.9" y2="902.6" stroke="#231815" stroke-width="2.2" stroke-linecap="butt"/>
<g transform="translate(631.16,923.60) scale(1.0800,1)" fill="#231815" stroke="#231815" stroke-width="0.3"><text x="-0.80" y="0" font-size="21" font-style="normal" xml:space="preserve">30</text></g>
<g transform="translate(153.60,956.20) scale(1.0755,1)" fill="#231815" stroke="#231815" stroke-width="0.3"><text x="-0.55" y="0" font-size="24.5" font-style="normal" xml:space="preserve">Time (sec)</text></g>
<g transform="translate(489.00,954.60) scale(1.0781,1)" fill="#231815" stroke="#231815" stroke-width="0.3"><text x="-0.55" y="0" font-size="24.5" font-style="normal" xml:space="preserve">Time (sec)</text></g>
<g transform="translate(158.80,677.60) scale(1.0001,1)" fill="#000" stroke="#000" stroke-width="0.3"><text x="-1.25" y="0" font-size="27.5" font-style="normal" xml:space="preserve">SypHy</text></g>
<g transform="translate(487.00,677.60) scale(0.9888,1)" fill="#000" stroke="#000" stroke-width="0.3"><text x="-1.25" y="0" font-size="27.5" font-style="normal" xml:space="preserve">SypHy</text></g>
<g transform="translate(172.00,720.90) scale(0.9998,1)" fill="#000" stroke="#000" stroke-width="0.3"><text x="-1.90" y="0" font-size="25" font-style="normal" xml:space="preserve">10Hz</text></g>
<g transform="translate(506.70,720.90) scale(1.0115,1)" fill="#000" stroke="#000" stroke-width="0.3"><text x="-1.26" y="0" font-size="25" font-style="normal" xml:space="preserve">20Hz</text></g>
<line x1="97.4" y1="729.2" x2="307.5" y2="729.2" stroke="#000" stroke-width="2.2" stroke-linecap="butt"/>
<line x1="437.1" y1="728.6" x2="645.1" y2="728.6" stroke="#000" stroke-width="2.2" stroke-linecap="butt"/>
<g transform="translate(277.10,677.60) scale(1.1172,1)" fill="#000" stroke="#000" stroke-width="0.3"><text x="-1.64" y="0" font-size="20" font-style="normal" xml:space="preserve">NH</text><text x="27.25" y="7.5" font-size="12" font-style="normal" xml:space="preserve">4</text><text x="33.92" y="0" font-size="20" font-style="normal" xml:space="preserve">Cl</text></g>
<g transform="translate(612.60,678.10) scale(1.1405,1)" fill="#000" stroke="#000" stroke-width="0.3"><text x="-1.64" y="0" font-size="20" font-style="normal" xml:space="preserve">NH</text><text x="27.25" y="7.5" font-size="12" font-style="normal" xml:space="preserve">4</text><text x="33.92" y="0" font-size="20" font-style="normal" xml:space="preserve">Cl</text></g>
<line x1="310.0" y1="688.9" x2="327.3" y2="688.9" stroke="#000" stroke-width="2.6" stroke-linecap="butt"/>
<line x1="650.6" y1="688.7" x2="666.8" y2="688.7" stroke="#000" stroke-width="2.6" stroke-linecap="butt"/>
<g transform="translate(17.90,866.90) rotate(-90) scale(1.1626,1)" fill="#000" stroke="#000" stroke-width="0.3"><text x="-0.67" y="0" font-size="22.5" font-style="normal" xml:space="preserve">Δ</text><text x="14.36" y="0" font-size="22.5" font-style="italic" xml:space="preserve">F</text></g>
<g transform="translate(17.90,830.20) rotate(-90) scale(1.1678,1)" fill="#000" stroke="#000" stroke-width="0.3"><text x="0.00" y="0" font-size="22.5" font-style="normal" xml:space="preserve">/</text></g>
<g transform="translate(17.90,815.90) rotate(-90) scale(1.0872,1)" fill="#000" stroke="#000" stroke-width="0.3"><text x="-0.67" y="0" font-size="22.5" font-style="normal" xml:space="preserve">Δ</text><text x="14.36" y="0" font-size="22.5" font-style="italic" xml:space="preserve">F</text></g>
<g transform="translate(17.90,778.90) rotate(-90) scale(1.0367,1)" fill="#000" stroke="#000" stroke-width="0.3"><text x="-1.48" y="0" font-size="18" font-style="normal" xml:space="preserve">NH</text></g>
<g transform="translate(24.20,752.90) rotate(-90) scale(0.9724,1)" fill="#000" stroke="#000" stroke-width="0.3"><text x="-0.23" y="0" font-size="10" font-style="normal" xml:space="preserve">4</text></g>
<g transform="translate(17.90,746.10) rotate(-90) scale(1.0282,1)" fill="#000" stroke="#000" stroke-width="0.3"><text x="-0.91" y="0" font-size="18" font-style="normal" xml:space="preserve">Cl</text></g>
<g transform="translate(362.00,866.30) rotate(-90) scale(1.1626,1)" fill="#000" stroke="#000" stroke-width="0.3"><text x="-0.67" y="0" font-size="22.5" font-style="normal" xml:space="preserve">Δ</text><text x="14.36" y="0" font-size="22.5" font-style="italic" xml:space="preserve">F</text></g>
<g transform="translate(362.00,829.60) rotate(-90) scale(1.1678,1)" fill="#000" stroke="#000" stroke-width="0.3"><text x="0.00" y="0" font-size="22.5" font-style="normal" xml:space="preserve">/</text></g>
<g transform="translate(362.00,815.30) rotate(-90) scale(1.0872,1)" fill="#000" stroke="#000" stroke-width="0.3"><text x="-0.67" y="0" font-size="22.5" font-style="normal" xml:space="preserve">Δ</text><text x="14.36" y="0" font-size="22.5" font-style="italic" xml:space="preserve">F</text></g>
<g transform="translate(362.00,778.30) rotate(-90) scale(1.0367,1)" fill="#000" stroke="#000" stroke-width="0.3"><text x="-1.48" y="0" font-size="18" font-style="normal" xml:space="preserve">NH</text></g>
<g transform="translate(368.30,752.30) rotate(-90) scale(0.9724,1)" fill="#000" stroke="#000" stroke-width="0.3"><text x="-0.23" y="0" font-size="10" font-style="normal" xml:space="preserve">4</text></g>
<g transform="translate(362.00,745.50) rotate(-90) scale(1.0282,1)" fill="#000" stroke="#000" stroke-width="0.3"><text x="-0.91" y="0" font-size="18" font-style="normal" xml:space="preserve">Cl</text></g>
<line x1="100" y1="879.95" x2="100" y2="885.95" stroke="#9c9c9c" stroke-width="1.9" stroke-linecap="butt"/>
<line x1="103.45" y1="873.37" x2="103.45" y2="879.58" stroke="#9c9c9c" stroke-width="1.9" stroke-linecap="butt"/>
<line x1="106.9" y1="867.07" x2="106.9" y2="873.5" stroke="#9c9c9c" stroke-width="1.9" stroke-linecap="butt"/>
<line x1="110.35" y1="861.73" x2="110.35" y2="868.38" stroke="#9c9c9c" stroke-width="1.9" stroke-linecap="butt"/>
<line x1="113.8" y1="856.39" x2="113.8" y2="863.25" stroke="#9c9c9c" stroke-width="1.9" stroke-linecap="butt"/>
<line x1="117.25" y1="850.67" x2="117.25" y2="857.74" stroke="#9c9c9c" stroke-width="1.9" stroke-linecap="butt"/>
<line x1="120.7" y1="844.74" x2="120.7" y2="852.03" stroke="#9c9c9c" stroke-width="1.9" stroke-linecap="butt"/>
<line x1="124.15" y1="839.21" x2="124.15" y2="846.71" stroke="#9c9c9c" stroke-width="1.9" stroke-linecap="butt"/>
<line x1="127.6" y1="834.49" x2="127.6" y2="842.2" stroke="#9c9c9c" stroke-width="1.9" stroke-linecap="butt"/>
<line x1="131.05" y1="829.85" x2="131.05" y2="837.78" stroke="#9c9c9c" stroke-width="1.9" stroke-linecap="butt"/>
<line x1="134.5" y1="825.43" x2="134.5" y2="833.57" stroke="#9c9c9c" stroke-width="1.9" stroke-linecap="butt"/>
<line x1="137.95" y1="821.01" x2="137.95" y2="829.37" stroke="#9c9c9c" stroke-width="1.9" stroke-linecap="butt"/>
<line x1="141.4" y1="817.14" x2="141.4" y2="825.72" stroke="#9c9c9c" stroke-width="1.9" stroke-linecap="butt"/>
<line x1="144.85" y1="813.38" x2="144.85" y2="822.17" stroke="#9c9c9c" stroke-width="1.9" stroke-linecap="butt"/>
<line x1="148.3" y1="809.94" x2="148.3" y2="818.95" stroke="#9c9c9c" stroke-width="1.9" stroke-linecap="butt"/>
<line x1="151.75" y1="807.03" x2="151.75" y2="816.25" stroke="#9c9c9c" stroke-width="1.9" stroke-linecap="butt"/>
<line x1="155.2" y1="804.08" x2="155.2" y2="813.52" stroke="#9c9c9c" stroke-width="1.9" stroke-linecap="butt"/>
<line x1="158.65" y1="800.53" x2="158.65" y2="810.17" stroke="#9c9c9c" stroke-width="1.9" stroke-linecap="butt"/>
<line x1="162.1" y1="796.97" x2="162.1" y2="806.83" stroke="#9c9c9c" stroke-width="1.9" stroke-linecap="butt"/>
<line x1="165.55" y1="793.82" x2="165.55" y2="803.9" stroke="#9c9c9c" stroke-width="1.9" stroke-linecap="butt"/>
<line x1="169.0" y1="791.17" x2="169.0" y2="801.46" stroke="#9c9c9c" stroke-width="1.9" stroke-linecap="butt"/>
<line x1="172.45" y1="788.52" x2="172.45" y2="799.03" stroke="#9c9c9c" stroke-width="1.9" stroke-linecap="butt"/>
<line x1="175.9" y1="785.87" x2="175.9" y2="796.59" stroke="#9c9c9c" stroke-width="1.9" stroke-linecap="butt"/>
<line x1="179.35" y1="783.22" x2="179.35" y2="794.16" stroke="#9c9c9c" stroke-width="1.9" stroke-linecap="butt"/>
<line x1="182.8" y1="780.57" x2="182.8" y2="791.72" stroke="#9c9c9c" stroke-width="1.9" stroke-linecap="butt"/>
<line x1="186.25" y1="778.44" x2="186.25" y2="789.8" stroke="#9c9c9c" stroke-width="1.9" stroke-linecap="butt"/>
<line x1="189.7" y1="776.33" x2="189.7" y2="787.91" stroke="#9c9c9c" stroke-width="1.9" stroke-linecap="butt"/>
<line x1="193.15" y1="774.35" x2="193.15" y2="786.14" stroke="#9c9c9c" stroke-width="1.9" stroke-linecap="butt"/>
<line x1="196.6" y1="772.89" x2="196.6" y2="784.9" stroke="#9c9c9c" stroke-width="1.9" stroke-linecap="butt"/>
<line x1="200.05" y1="771.43" x2="200.05" y2="783.66" stroke="#9c9c9c" stroke-width="1.9" stroke-linecap="butt"/>
<line x1="203.5" y1="769.98" x2="203.5" y2="782.41" stroke="#9c9c9c" stroke-width="1.9" stroke-linecap="butt"/>
<line x1="206.95" y1="768.2" x2="206.95" y2="780.85" stroke="#9c9c9c" stroke-width="1.9" stroke-linecap="butt"/>
<line x1="210.4" y1="766.37" x2="210.4" y2="779.23" stroke="#9c9c9c" stroke-width="1.9" stroke-linecap="butt"/>
<line x1="213.85" y1="764.53" x2="213.85" y2="777.62" stroke="#9c9c9c" stroke-width="1.9" stroke-linecap="butt"/>
<line x1="217.3" y1="763.09" x2="217.3" y2="776.38" stroke="#9c9c9c" stroke-width="1.9" stroke-linecap="butt"/>
<line x1="220.75" y1="761.83" x2="220.75" y2="775.34" stroke="#9c9c9c" stroke-width="1.9" stroke-linecap="butt"/>
<line x1="224.2" y1="760.57" x2="224.2" y2="774.3" stroke="#9c9c9c" stroke-width="1.9" stroke-linecap="butt"/>
<line x1="227.65" y1="759.31" x2="227.65" y2="773.25" stroke="#9c9c9c" stroke-width="1.9" stroke-linecap="butt"/>
<line x1="231.1" y1="757.29" x2="231.1" y2="771.45" stroke="#9c9c9c" stroke-width="1.9" stroke-linecap="butt"/>
<line x1="234.55" y1="754.32" x2="234.55" y2="768.68" stroke="#9c9c9c" stroke-width="1.9" stroke-linecap="butt"/>
<line x1="238.0" y1="754.21" x2="238.0" y2="768.79" stroke="#9c9c9c" stroke-width="1.9" stroke-linecap="butt"/>
<line x1="241.45" y1="754.1" x2="241.45" y2="768.9" stroke="#9c9c9c" stroke-width="1.9" stroke-linecap="butt"/>
<line x1="244.9" y1="753.64" x2="244.9" y2="768.65" stroke="#9c9c9c" stroke-width="1.9" stroke-linecap="butt"/>
<line x1="248.35" y1="752.85" x2="248.35" y2="768.08" stroke="#9c9c9c" stroke-width="1.9" stroke-linecap="butt"/>
<line x1="251.8" y1="750.38" x2="251.8" y2="765.82" stroke="#9c9c9c" stroke-width="1.9" stroke-linecap="butt"/>
<line x1="255.25" y1="748.11" x2="255.25" y2="763.77" stroke="#9c9c9c" stroke-width="1.9" stroke-linecap="butt"/>
<line x1="258.7" y1="747.26" x2="258.7" y2="763.13" stroke="#9c9c9c" stroke-width="1.9" stroke-linecap="butt"/>
<line x1="262.15" y1="746.4" x2="262.15" y2="762.48" stroke="#9c9c9c" stroke-width="1.9" stroke-linecap="butt"/>
<line x1="265.6" y1="745.46" x2="265.6" y2="761.76" stroke="#9c9c9c" stroke-width="1.9" stroke-linecap="butt"/>
<line x1="269.05" y1="744.51" x2="269.05" y2="761.02" stroke="#9c9c9c" stroke-width="1.9" stroke-linecap="butt"/>
<line x1="272.5" y1="743.56" x2="272.5" y2="760.29" stroke="#9c9c9c" stroke-width="1.9" stroke-linecap="butt"/>
<line x1="275.95" y1="743.03" x2="275.95" y2="759.98" stroke="#9c9c9c" stroke-width="1.9" stroke-linecap="butt"/>
<line x1="279.4" y1="742.66" x2="279.4" y2="759.82" stroke="#9c9c9c" stroke-width="1.9" stroke-linecap="butt"/>
<line x1="282.85" y1="742.25" x2="282.85" y2="759.62" stroke="#9c9c9c" stroke-width="1.9" stroke-linecap="butt"/>
<line x1="286.3" y1="741.26" x2="286.3" y2="758.85" stroke="#9c9c9c" stroke-width="1.9" stroke-linecap="butt"/>
<line x1="289.75" y1="740.27" x2="289.75" y2="758.07" stroke="#9c9c9c" stroke-width="1.9" stroke-linecap="butt"/>
<line x1="293.2" y1="739.32" x2="293.2" y2="757.34" stroke="#9c9c9c" stroke-width="1.9" stroke-linecap="butt"/>
<line x1="296.65" y1="738.38" x2="296.65" y2="756.61" stroke="#9c9c9c" stroke-width="1.9" stroke-linecap="butt"/>
<line x1="300.1" y1="737.76" x2="300.1" y2="756.2" stroke="#9c9c9c" stroke-width="1.9" stroke-linecap="butt"/>
<line x1="303.55" y1="737.42" x2="303.55" y2="756.08" stroke="#9c9c9c" stroke-width="1.9" stroke-linecap="butt"/>
<line x1="307.0" y1="737.08" x2="307.0" y2="755.96" stroke="#9c9c9c" stroke-width="1.9" stroke-linecap="butt"/>
<line x1="101.7" y1="882.08" x2="101.7" y2="885.12" stroke="#9c9c9c" stroke-width="1.6" stroke-linecap="butt"/>
<line x1="105.15" y1="875.13" x2="105.15" y2="878.27" stroke="#9c9c9c" stroke-width="1.6" stroke-linecap="butt"/>
<line x1="108.6" y1="868.71" x2="108.6" y2="871.96" stroke="#9c9c9c" stroke-width="1.6" stroke-linecap="butt"/>
<line x1="112.05" y1="862.91" x2="112.05" y2="866.26" stroke="#9c9c9c" stroke-width="1.6" stroke-linecap="butt"/>
<line x1="115.5" y1="857.11" x2="115.5" y2="860.56" stroke="#9c9c9c" stroke-width="1.6" stroke-linecap="butt"/>
<line x1="118.95" y1="851.43" x2="118.95" y2="854.98" stroke="#9c9c9c" stroke-width="1.6" stroke-linecap="butt"/>
<line x1="122.4" y1="845.78" x2="122.4" y2="849.42" stroke="#9c9c9c" stroke-width="1.6" stroke-linecap="butt"/>
<line x1="125.85" y1="840.35" x2="125.85" y2="844.1" stroke="#9c9c9c" stroke-width="1.6" stroke-linecap="butt"/>
<line x1="129.3" y1="835.13" x2="129.3" y2="838.97" stroke="#9c9c9c" stroke-width="1.6" stroke-linecap="butt"/>
<line x1="132.75" y1="830.27" x2="132.75" y2="834.21" stroke="#9c9c9c" stroke-width="1.6" stroke-linecap="butt"/>
<line x1="136.2" y1="825.75" x2="136.2" y2="829.79" stroke="#9c9c9c" stroke-width="1.6" stroke-linecap="butt"/>
<line x1="139.65" y1="821.28" x2="139.65" y2="825.42" stroke="#9c9c9c" stroke-width="1.6" stroke-linecap="butt"/>
<line x1="143.1" y1="817.78" x2="143.1" y2="822.02" stroke="#9c9c9c" stroke-width="1.6" stroke-linecap="butt"/>
<line x1="146.55" y1="814.28" x2="146.55" y2="818.62" stroke="#9c9c9c" stroke-width="1.6" stroke-linecap="butt"/>
<line x1="150.0" y1="811.03" x2="150.0" y2="815.47" stroke="#9c9c9c" stroke-width="1.6" stroke-linecap="butt"/>
<line x1="153.45" y1="807.96" x2="153.45" y2="812.5" stroke="#9c9c9c" stroke-width="1.6" stroke-linecap="butt"/>
<line x1="156.9" y1="804.83" x2="156.9" y2="809.47" stroke="#9c9c9c" stroke-width="1.6" stroke-linecap="butt"/>
<line x1="160.35" y1="801.53" x2="160.35" y2="806.26" stroke="#9c9c9c" stroke-width="1.6" stroke-linecap="butt"/>
<line x1="163.8" y1="798.22" x2="163.8" y2="803.05" stroke="#9c9c9c" stroke-width="1.6" stroke-linecap="butt"/>
<line x1="167.25" y1="795.38" x2="167.25" y2="800.31" stroke="#9c9c9c" stroke-width="1.6" stroke-linecap="butt"/>
<line x1="170.7" y1="792.79" x2="170.7" y2="797.81" stroke="#9c9c9c" stroke-width="1.6" stroke-linecap="butt"/>
<line x1="174.15" y1="790.19" x2="174.15" y2="795.32" stroke="#9c9c9c" stroke-width="1.6" stroke-linecap="butt"/>
<line x1="177.6" y1="787.6" x2="177.6" y2="792.83" stroke="#9c9c9c" stroke-width="1.6" stroke-linecap="butt"/>
<line x1="181.05" y1="785.01" x2="181.05" y2="790.34" stroke="#9c9c9c" stroke-width="1.6" stroke-linecap="butt"/>
<line x1="184.5" y1="782.5" x2="184.5" y2="787.92" stroke="#9c9c9c" stroke-width="1.6" stroke-linecap="butt"/>
<line x1="187.95" y1="780.45" x2="187.95" y2="785.98" stroke="#9c9c9c" stroke-width="1.6" stroke-linecap="butt"/>
<line x1="191.4" y1="778.4" x2="191.4" y2="784.03" stroke="#9c9c9c" stroke-width="1.6" stroke-linecap="butt"/>
<line x1="194.85" y1="776.61" x2="194.85" y2="782.33" stroke="#9c9c9c" stroke-width="1.6" stroke-linecap="butt"/>
<line x1="198.3" y1="775.21" x2="198.3" y2="781.03" stroke="#9c9c9c" stroke-width="1.6" stroke-linecap="butt"/>
<line x1="201.75" y1="773.81" x2="201.75" y2="779.73" stroke="#9c9c9c" stroke-width="1.6" stroke-linecap="butt"/>
<line x1="205.2" y1="772.42" x2="205.2" y2="778.44" stroke="#9c9c9c" stroke-width="1.6" stroke-linecap="butt"/>
<line x1="208.65" y1="771.11" x2="208.65" y2="777.23" stroke="#9c9c9c" stroke-width="1.6" stroke-linecap="butt"/>
<line x1="212.1" y1="769.81" x2="212.1" y2="776.03" stroke="#9c9c9c" stroke-width="1.6" stroke-linecap="butt"/>
<line x1="215.55" y1="768.51" x2="215.55" y2="774.82" stroke="#9c9c9c" stroke-width="1.6" stroke-linecap="butt"/>
<line x1="219.0" y1="767.56" x2="219.0" y2="773.98" stroke="#9c9c9c" stroke-width="1.6" stroke-linecap="butt"/>
<line x1="222.45" y1="766.68" x2="222.45" y2="773.19" stroke="#9c9c9c" stroke-width="1.6" stroke-linecap="butt"/>
<line x1="225.9" y1="765.79" x2="225.9" y2="772.4" stroke="#9c9c9c" stroke-width="1.6" stroke-linecap="butt"/>
<line x1="229.35" y1="764.9" x2="229.35" y2="771.61" stroke="#9c9c9c" stroke-width="1.6" stroke-linecap="butt"/>
<line x1="232.8" y1="763.29" x2="232.8" y2="770.11" stroke="#9c9c9c" stroke-width="1.6" stroke-linecap="butt"/>
<line x1="236.25" y1="761.52" x2="236.25" y2="768.43" stroke="#9c9c9c" stroke-width="1.6" stroke-linecap="butt"/>
<line x1="239.7" y1="761.29" x2="239.7" y2="768.31" stroke="#9c9c9c" stroke-width="1.6" stroke-linecap="butt"/>
<line x1="243.15" y1="761.24" x2="243.15" y2="768.35" stroke="#9c9c9c" stroke-width="1.6" stroke-linecap="butt"/>
<line x1="246.6" y1="760.67" x2="246.6" y2="767.87" stroke="#9c9c9c" stroke-width="1.6" stroke-linecap="butt"/>
<line x1="250.05" y1="760.09" x2="250.05" y2="767.4" stroke="#9c9c9c" stroke-width="1.6" stroke-linecap="butt"/>
<line x1="253.5" y1="759.52" x2="253.5" y2="766.93" stroke="#9c9c9c" stroke-width="1.6" stroke-linecap="butt"/>
<line x1="256.95" y1="758.65" x2="256.95" y2="766.15" stroke="#9c9c9c" stroke-width="1.6" stroke-linecap="butt"/>
<line x1="260.4" y1="756.47" x2="260.4" y2="764.08" stroke="#9c9c9c" stroke-width="1.6" stroke-linecap="butt"/>
<line x1="263.85" y1="756.42" x2="263.85" y2="764.13" stroke="#9c9c9c" stroke-width="1.6" stroke-linecap="butt"/>
<line x1="267.3" y1="757.37" x2="267.3" y2="765.17" stroke="#9c9c9c" stroke-width="1.6" stroke-linecap="butt"/>
<line x1="270.75" y1="756.26" x2="270.75" y2="764.16" stroke="#9c9c9c" stroke-width="1.6" stroke-linecap="butt"/>
<line x1="274.2" y1="755.6" x2="274.2" y2="763.6" stroke="#9c9c9c" stroke-width="1.6" stroke-linecap="butt"/>
<line x1="277.65" y1="755.55" x2="277.65" y2="763.65" stroke="#9c9c9c" stroke-width="1.6" stroke-linecap="butt"/>
<line x1="281.1" y1="755.5" x2="281.1" y2="763.7" stroke="#9c9c9c" stroke-width="1.6" stroke-linecap="butt"/>
<line x1="284.55" y1="755.45" x2="284.55" y2="763.75" stroke="#9c9c9c" stroke-width="1.6" stroke-linecap="butt"/>
<line x1="288.0" y1="753.97" x2="288.0" y2="762.36" stroke="#9c9c9c" stroke-width="1.6" stroke-linecap="butt"/>
<line x1="291.45" y1="753.2" x2="291.45" y2="761.69" stroke="#9c9c9c" stroke-width="1.6" stroke-linecap="butt"/>
<line x1="294.9" y1="752.92" x2="294.9" y2="761.52" stroke="#9c9c9c" stroke-width="1.6" stroke-linecap="butt"/>
<line x1="298.35" y1="752.66" x2="298.35" y2="761.35" stroke="#9c9c9c" stroke-width="1.6" stroke-linecap="butt"/>
<line x1="301.8" y1="752.8" x2="301.8" y2="761.6" stroke="#9c9c9c" stroke-width="1.6" stroke-linecap="butt"/>
<line x1="305.25" y1="752.95" x2="305.25" y2="761.84" stroke="#9c9c9c" stroke-width="1.6" stroke-linecap="butt"/>
<line x1="308.7" y1="753.1" x2="308.7" y2="762.09" stroke="#9c9c9c" stroke-width="1.6" stroke-linecap="butt"/>
<polyline points="63.40,895.80 66.30,895.59 69.20,895.30 72.10,896.58 75.00,896.02 77.50,896.05 80.00,896.18 82.50,896.78 85.00,897.00 87.50,896.63 90.00,896.35 93.40,896.57 96.80,897.15 97.72,893.82 98.65,891.53 99.58,888.73 100.50,885.95 101.58,883.94 102.67,881.31 103.75,879.58 104.83,877.84 105.92,874.58 107.00,872.82 108.29,871.39 109.57,869.38 110.86,865.89 112.14,864.61 113.43,862.47 114.71,860.62 116.00,857.96 117.33,855.32 118.67,853.39 120.00,851.80 121.33,849.65 122.67,846.75 124.00,845.20 125.40,843.12 126.80,841.02 128.20,838.03 129.60,836.52 131.00,834.25 132.70,832.44 134.40,829.87 136.10,827.38 137.80,825.94 139.50,823.20 141.20,822.21 142.90,819.83 144.60,818.46 146.30,817.13 148.00,814.46 150.00,813.57 152.00,810.90 154.00,810.36 156.00,807.34 157.80,806.61 159.60,804.42 161.40,802.45 163.20,801.05 165.00,799.50 167.38,797.63 169.75,795.47 172.12,794.28 174.50,792.22 176.88,791.40 179.25,788.84 181.62,787.16 184.00,785.12 186.38,784.78 188.75,782.50 191.12,781.58 193.50,780.47 195.80,778.95 198.10,778.56 200.40,776.99 202.70,775.85 205.00,774.86 207.75,774.43 210.50,774.02 213.25,772.08 216.00,771.42 218.33,771.30 220.67,770.05 223.00,769.31 225.33,769.26 227.67,768.56 230.00,768.71 232.20,767.56 234.40,765.53 236.60,764.89 239.85,764.68 243.10,764.15 245.74,764.32 248.38,764.58 251.02,763.32 253.66,763.32 256.30,763.09 258.90,760.59 261.50,760.19 264.80,760.00 268.10,761.22 272.00,759.90 274.64,758.93 277.28,759.43 279.92,759.08 282.56,759.56 285.20,758.92 289.10,757.11 292.17,757.01 295.23,756.61 298.30,756.43 300.93,756.72 303.55,757.32 306.18,756.94 308.80,758.05 310.10,758.88 310.18,756.19 310.26,753.70 310.34,752.08 310.42,748.50 310.50,747.01 310.58,743.64 310.66,742.36 310.74,739.14 310.82,736.94 310.90,734.84 310.98,731.31 311.06,728.79 311.14,727.20 311.22,724.59 311.30,722.00" fill="none" stroke="#e60012" stroke-width="2.8" stroke-linejoin="round" stroke-linecap="round" opacity="1"/>
<polyline points="63.40,898.60 65.82,898.89 68.24,898.25 70.65,898.54 73.07,898.09 75.49,898.42 77.91,898.19 80.33,898.59 82.75,898.17 85.16,898.12 87.58,898.62 90.00,897.82 92.13,897.39 94.27,895.53 96.40,893.72 97.20,890.96 98.00,888.91 98.80,886.31 99.60,884.01 100.90,881.08 102.20,878.70 103.50,876.93 104.80,873.62 106.10,872.17 107.58,869.80 109.07,867.69 110.55,865.37 112.03,862.16 113.52,860.69 115.00,858.16 116.33,855.34 117.67,854.20 119.00,851.46 120.33,849.43 121.67,846.83 123.00,843.91 124.78,842.63 126.55,839.30 128.32,837.04 130.10,835.16 131.78,832.47 133.46,830.75 135.14,829.00 136.82,826.03 138.50,824.72 140.20,822.15 141.90,820.87 143.60,819.31 145.30,817.56 147.00,814.86 149.00,813.44 151.00,812.89 153.00,810.47 155.00,808.89 156.80,807.02 158.60,805.67 160.40,803.94 162.20,802.01 164.00,799.86 166.38,798.35 168.75,796.52 171.12,794.31 173.50,793.63 175.88,791.90 178.25,789.89 180.62,788.44 183.00,785.95 185.38,785.10 187.75,782.89 190.12,782.21 192.50,780.80 194.80,780.21 197.10,779.17 199.40,778.33 201.70,776.57 204.00,776.40 206.20,774.87 208.40,773.54 210.60,772.52 212.80,772.02 215.00,770.98 217.50,770.15 220.00,769.07 222.50,767.54 225.00,766.68 227.50,766.43 230.00,765.10 231.95,763.27 233.90,760.94 236.97,761.02 240.03,761.80 243.10,761.11 246.40,761.34 249.70,759.96 251.65,758.74 253.60,756.02 256.67,755.31 259.73,754.82 262.80,753.62 265.45,753.56 268.10,752.83 270.75,751.67 273.40,752.21 276.47,751.29 279.53,750.53 282.60,751.64 285.20,749.95 287.80,749.32 290.40,748.33 293.03,747.81 295.67,748.03 298.30,747.21 300.93,746.93 303.55,746.39 306.18,746.28 308.80,747.06 310.20,746.22 310.32,744.49 310.44,741.74 310.57,738.07 310.69,736.49 310.81,732.73 310.93,731.10 311.06,728.63 311.18,725.87 311.30,723.00" fill="none" stroke="#000" stroke-width="2.9" stroke-linejoin="round" stroke-linecap="round" opacity="1"/>
<line x1="311" y1="700" x2="311" y2="708" stroke="#a2a2a2" stroke-width="1.2" stroke-linecap="butt"/>
<line x1="314" y1="697" x2="314" y2="703" stroke="#a2a2a2" stroke-width="1.2" stroke-linecap="butt"/>
<line x1="318" y1="698" x2="318" y2="706" stroke="#a2a2a2" stroke-width="1.2" stroke-linecap="butt"/>
<line x1="321" y1="700" x2="321" y2="706" stroke="#a2a2a2" stroke-width="1.2" stroke-linecap="butt"/>
<line x1="323.5" y1="707" x2="323.5" y2="711" stroke="#a2a2a2" stroke-width="1.2" stroke-linecap="butt"/>
<polyline points="310.50,710.20 312.50,701.00 314.10,697.60 317.00,699.50 322.60,707.60" fill="none" stroke="#e60012" stroke-width="2.6" stroke-linejoin="round" stroke-linecap="round" opacity="1"/>
<polyline points="311.50,710.20 313.00,703.00 314.70,699.10 318.30,700.20 322.00,704.40" fill="none" stroke="#000" stroke-width="2.6" stroke-linejoin="round" stroke-linecap="round" opacity="1"/>
<line x1="310.5" y1="718.1" x2="316.2" y2="724.4" stroke="#231815" stroke-width="1.1" stroke-linecap="butt"/>
<line x1="434" y1="887.92" x2="434" y2="894.32" stroke="#9c9c9c" stroke-width="1.8" stroke-linecap="butt"/>
<line x1="437.45" y1="876.0" x2="437.45" y2="882.4" stroke="#9c9c9c" stroke-width="1.8" stroke-linecap="butt"/>
<line x1="440.9" y1="864.3" x2="440.9" y2="870.7" stroke="#9c9c9c" stroke-width="1.8" stroke-linecap="butt"/>
<line x1="444.35" y1="853.95" x2="444.35" y2="860.35" stroke="#9c9c9c" stroke-width="1.8" stroke-linecap="butt"/>
<line x1="447.8" y1="843.6" x2="447.8" y2="850.0" stroke="#9c9c9c" stroke-width="1.8" stroke-linecap="butt"/>
<line x1="451.25" y1="834.65" x2="451.25" y2="841.05" stroke="#9c9c9c" stroke-width="1.8" stroke-linecap="butt"/>
<line x1="454.7" y1="826.65" x2="454.7" y2="833.05" stroke="#9c9c9c" stroke-width="1.8" stroke-linecap="butt"/>
<line x1="458.15" y1="818.72" x2="458.15" y2="825.12" stroke="#9c9c9c" stroke-width="1.8" stroke-linecap="butt"/>
<line x1="461.6" y1="812.34" x2="461.6" y2="818.74" stroke="#9c9c9c" stroke-width="1.8" stroke-linecap="butt"/>
<line x1="465.05" y1="805.95" x2="465.05" y2="812.35" stroke="#9c9c9c" stroke-width="1.8" stroke-linecap="butt"/>
<line x1="468.5" y1="800.44" x2="468.5" y2="806.84" stroke="#9c9c9c" stroke-width="1.8" stroke-linecap="butt"/>
<line x1="471.95" y1="795.72" x2="471.95" y2="802.12" stroke="#9c9c9c" stroke-width="1.8" stroke-linecap="butt"/>
<line x1="475.4" y1="791.0" x2="475.4" y2="797.4" stroke="#9c9c9c" stroke-width="1.8" stroke-linecap="butt"/>
<line x1="478.85" y1="786.39" x2="478.85" y2="792.79" stroke="#9c9c9c" stroke-width="1.8" stroke-linecap="butt"/>
<line x1="482.3" y1="782.5" x2="482.3" y2="788.9" stroke="#9c9c9c" stroke-width="1.8" stroke-linecap="butt"/>
<line x1="485.75" y1="778.61" x2="485.75" y2="785.01" stroke="#9c9c9c" stroke-width="1.8" stroke-linecap="butt"/>
<line x1="489.2" y1="774.72" x2="489.2" y2="781.12" stroke="#9c9c9c" stroke-width="1.8" stroke-linecap="butt"/>
<line x1="492.65" y1="771.48" x2="492.65" y2="777.88" stroke="#9c9c9c" stroke-width="1.8" stroke-linecap="butt"/>
<line x1="496.1" y1="768.47" x2="496.1" y2="774.87" stroke="#9c9c9c" stroke-width="1.8" stroke-linecap="butt"/>
<line x1="499.55" y1="765.46" x2="499.55" y2="771.86" stroke="#9c9c9c" stroke-width="1.8" stroke-linecap="butt"/>
<line x1="503.0" y1="762.99" x2="503.0" y2="769.39" stroke="#9c9c9c" stroke-width="1.8" stroke-linecap="butt"/>
<line x1="506.45" y1="761.54" x2="506.45" y2="767.94" stroke="#9c9c9c" stroke-width="1.8" stroke-linecap="butt"/>
<line x1="509.9" y1="760.08" x2="509.9" y2="766.48" stroke="#9c9c9c" stroke-width="1.8" stroke-linecap="butt"/>
<line x1="513.35" y1="758.62" x2="513.35" y2="765.02" stroke="#9c9c9c" stroke-width="1.8" stroke-linecap="butt"/>
<line x1="516.8" y1="756.33" x2="516.8" y2="762.73" stroke="#9c9c9c" stroke-width="1.8" stroke-linecap="butt"/>
<line x1="520.25" y1="754.03" x2="520.25" y2="760.43" stroke="#9c9c9c" stroke-width="1.8" stroke-linecap="butt"/>
<line x1="523.7" y1="751.77" x2="523.7" y2="758.17" stroke="#9c9c9c" stroke-width="1.8" stroke-linecap="butt"/>
<line x1="527.15" y1="750.86" x2="527.15" y2="757.26" stroke="#9c9c9c" stroke-width="1.8" stroke-linecap="butt"/>
<line x1="530.6" y1="749.94" x2="530.6" y2="756.34" stroke="#9c9c9c" stroke-width="1.8" stroke-linecap="butt"/>
<line x1="534.05" y1="749.03" x2="534.05" y2="755.43" stroke="#9c9c9c" stroke-width="1.8" stroke-linecap="butt"/>
<line x1="537.5" y1="748.19" x2="537.5" y2="754.59" stroke="#9c9c9c" stroke-width="1.8" stroke-linecap="butt"/>
<line x1="540.95" y1="747.65" x2="540.95" y2="754.05" stroke="#9c9c9c" stroke-width="1.8" stroke-linecap="butt"/>
<line x1="544.4" y1="747.1" x2="544.4" y2="753.5" stroke="#9c9c9c" stroke-width="1.8" stroke-linecap="butt"/>
<line x1="547.85" y1="746.56" x2="547.85" y2="752.96" stroke="#9c9c9c" stroke-width="1.8" stroke-linecap="butt"/>
<line x1="551.3" y1="746.02" x2="551.3" y2="752.42" stroke="#9c9c9c" stroke-width="1.8" stroke-linecap="butt"/>
<line x1="554.75" y1="745.33" x2="554.75" y2="751.73" stroke="#9c9c9c" stroke-width="1.8" stroke-linecap="butt"/>
<line x1="558.2" y1="744.65" x2="558.2" y2="751.05" stroke="#9c9c9c" stroke-width="1.8" stroke-linecap="butt"/>
<line x1="561.65" y1="743.96" x2="561.65" y2="750.36" stroke="#9c9c9c" stroke-width="1.8" stroke-linecap="butt"/>
<line x1="565.1" y1="743.28" x2="565.1" y2="749.68" stroke="#9c9c9c" stroke-width="1.8" stroke-linecap="butt"/>
<line x1="568.55" y1="742.68" x2="568.55" y2="749.08" stroke="#9c9c9c" stroke-width="1.8" stroke-linecap="butt"/>
<line x1="572.0" y1="742.11" x2="572.0" y2="748.51" stroke="#9c9c9c" stroke-width="1.8" stroke-linecap="butt"/>
<line x1="575.45" y1="741.55" x2="575.45" y2="747.95" stroke="#9c9c9c" stroke-width="1.8" stroke-linecap="butt"/>
<line x1="578.9" y1="740.98" x2="578.9" y2="747.38" stroke="#9c9c9c" stroke-width="1.8" stroke-linecap="butt"/>
<line x1="582.35" y1="740.28" x2="582.35" y2="746.68" stroke="#9c9c9c" stroke-width="1.8" stroke-linecap="butt"/>
<line x1="585.8" y1="739.45" x2="585.8" y2="745.85" stroke="#9c9c9c" stroke-width="1.8" stroke-linecap="butt"/>
<line x1="589.25" y1="738.63" x2="589.25" y2="745.03" stroke="#9c9c9c" stroke-width="1.8" stroke-linecap="butt"/>
<line x1="592.7" y1="737.8" x2="592.7" y2="744.2" stroke="#9c9c9c" stroke-width="1.8" stroke-linecap="butt"/>
<line x1="596.15" y1="737.09" x2="596.15" y2="743.49" stroke="#9c9c9c" stroke-width="1.8" stroke-linecap="butt"/>
<line x1="599.6" y1="736.67" x2="599.6" y2="743.07" stroke="#9c9c9c" stroke-width="1.8" stroke-linecap="butt"/>
<line x1="603.05" y1="736.26" x2="603.05" y2="742.66" stroke="#9c9c9c" stroke-width="1.8" stroke-linecap="butt"/>
<line x1="606.5" y1="735.85" x2="606.5" y2="742.25" stroke="#9c9c9c" stroke-width="1.8" stroke-linecap="butt"/>
<line x1="609.95" y1="735.57" x2="609.95" y2="741.97" stroke="#9c9c9c" stroke-width="1.8" stroke-linecap="butt"/>
<line x1="613.4" y1="735.3" x2="613.4" y2="741.7" stroke="#9c9c9c" stroke-width="1.8" stroke-linecap="butt"/>
<line x1="616.85" y1="735.04" x2="616.85" y2="741.44" stroke="#9c9c9c" stroke-width="1.8" stroke-linecap="butt"/>
<line x1="620.3" y1="734.75" x2="620.3" y2="741.15" stroke="#9c9c9c" stroke-width="1.8" stroke-linecap="butt"/>
<line x1="623.75" y1="734.18" x2="623.75" y2="740.58" stroke="#9c9c9c" stroke-width="1.8" stroke-linecap="butt"/>
<line x1="627.2" y1="733.6" x2="627.2" y2="740.0" stroke="#9c9c9c" stroke-width="1.8" stroke-linecap="butt"/>
<line x1="630.65" y1="733.03" x2="630.65" y2="739.43" stroke="#9c9c9c" stroke-width="1.8" stroke-linecap="butt"/>
<line x1="634.1" y1="732.45" x2="634.1" y2="738.85" stroke="#9c9c9c" stroke-width="1.8" stroke-linecap="butt"/>
<line x1="637.55" y1="731.91" x2="637.55" y2="738.31" stroke="#9c9c9c" stroke-width="1.8" stroke-linecap="butt"/>
<line x1="641.0" y1="732.24" x2="641.0" y2="738.64" stroke="#9c9c9c" stroke-width="1.8" stroke-linecap="butt"/>
<line x1="644.45" y1="732.57" x2="644.45" y2="738.97" stroke="#9c9c9c" stroke-width="1.8" stroke-linecap="butt"/>
<line x1="647.9" y1="732.89" x2="647.9" y2="739.29" stroke="#9c9c9c" stroke-width="1.8" stroke-linecap="butt"/>
<line x1="435.7" y1="886.01" x2="435.7" y2="892.41" stroke="#9c9c9c" stroke-width="1.8" stroke-linecap="butt"/>
<line x1="439.15" y1="877.59" x2="439.15" y2="883.99" stroke="#9c9c9c" stroke-width="1.8" stroke-linecap="butt"/>
<line x1="442.6" y1="867.61" x2="442.6" y2="874.01" stroke="#9c9c9c" stroke-width="1.8" stroke-linecap="butt"/>
<line x1="446.05" y1="857.62" x2="446.05" y2="864.02" stroke="#9c9c9c" stroke-width="1.8" stroke-linecap="butt"/>
<line x1="449.5" y1="853.7" x2="449.5" y2="860.1" stroke="#9c9c9c" stroke-width="1.8" stroke-linecap="butt"/>
<line x1="452.95" y1="850.25" x2="452.95" y2="856.65" stroke="#9c9c9c" stroke-width="1.8" stroke-linecap="butt"/>
<line x1="456.4" y1="842.89" x2="456.4" y2="849.29" stroke="#9c9c9c" stroke-width="1.8" stroke-linecap="butt"/>
<line x1="459.85" y1="834.62" x2="459.85" y2="841.02" stroke="#9c9c9c" stroke-width="1.8" stroke-linecap="butt"/>
<line x1="463.3" y1="830.09" x2="463.3" y2="836.49" stroke="#9c9c9c" stroke-width="1.8" stroke-linecap="butt"/>
<line x1="466.75" y1="827.19" x2="466.75" y2="833.59" stroke="#9c9c9c" stroke-width="1.8" stroke-linecap="butt"/>
<line x1="470.2" y1="824.05" x2="470.2" y2="830.45" stroke="#9c9c9c" stroke-width="1.8" stroke-linecap="butt"/>
<line x1="473.65" y1="819.75" x2="473.65" y2="826.15" stroke="#9c9c9c" stroke-width="1.8" stroke-linecap="butt"/>
<line x1="477.1" y1="815.44" x2="477.1" y2="821.84" stroke="#9c9c9c" stroke-width="1.8" stroke-linecap="butt"/>
<line x1="480.55" y1="811.14" x2="480.55" y2="817.54" stroke="#9c9c9c" stroke-width="1.8" stroke-linecap="butt"/>
<line x1="484.0" y1="807.52" x2="484.0" y2="813.92" stroke="#9c9c9c" stroke-width="1.8" stroke-linecap="butt"/>
<line x1="487.45" y1="804.1" x2="487.45" y2="810.5" stroke="#9c9c9c" stroke-width="1.8" stroke-linecap="butt"/>
<line x1="490.9" y1="800.68" x2="490.9" y2="807.08" stroke="#9c9c9c" stroke-width="1.8" stroke-linecap="butt"/>
<line x1="494.35" y1="797.65" x2="494.35" y2="804.05" stroke="#9c9c9c" stroke-width="1.8" stroke-linecap="butt"/>
<line x1="497.8" y1="795.21" x2="497.8" y2="801.61" stroke="#9c9c9c" stroke-width="1.8" stroke-linecap="butt"/>
<line x1="501.25" y1="792.78" x2="501.25" y2="799.18" stroke="#9c9c9c" stroke-width="1.8" stroke-linecap="butt"/>
<line x1="504.7" y1="790.35" x2="504.7" y2="796.75" stroke="#9c9c9c" stroke-width="1.8" stroke-linecap="butt"/>
<line x1="508.15" y1="787.66" x2="508.15" y2="794.06" stroke="#9c9c9c" stroke-width="1.8" stroke-linecap="butt"/>
<line x1="511.6" y1="783.66" x2="511.6" y2="790.06" stroke="#9c9c9c" stroke-width="1.8" stroke-linecap="butt"/>
<line x1="515.05" y1="779.66" x2="515.05" y2="786.06" stroke="#9c9c9c" stroke-width="1.8" stroke-linecap="butt"/>
<line x1="518.5" y1="777.05" x2="518.5" y2="783.45" stroke="#9c9c9c" stroke-width="1.8" stroke-linecap="butt"/>
<line x1="521.95" y1="775.33" x2="521.95" y2="781.73" stroke="#9c9c9c" stroke-width="1.8" stroke-linecap="butt"/>
<line x1="525.4" y1="773.6" x2="525.4" y2="780.0" stroke="#9c9c9c" stroke-width="1.8" stroke-linecap="butt"/>
<line x1="528.85" y1="771.45" x2="528.85" y2="777.85" stroke="#9c9c9c" stroke-width="1.8" stroke-linecap="butt"/>
<line x1="532.3" y1="768.0" x2="532.3" y2="774.4" stroke="#9c9c9c" stroke-width="1.8" stroke-linecap="butt"/>
<line x1="535.75" y1="764.55" x2="535.75" y2="770.95" stroke="#9c9c9c" stroke-width="1.8" stroke-linecap="butt"/>
<line x1="539.2" y1="762.92" x2="539.2" y2="769.32" stroke="#9c9c9c" stroke-width="1.8" stroke-linecap="butt"/>
<line x1="542.65" y1="762.1" x2="542.65" y2="768.5" stroke="#9c9c9c" stroke-width="1.8" stroke-linecap="butt"/>
<line x1="546.1" y1="761.27" x2="546.1" y2="767.67" stroke="#9c9c9c" stroke-width="1.8" stroke-linecap="butt"/>
<line x1="549.55" y1="760.44" x2="549.55" y2="766.84" stroke="#9c9c9c" stroke-width="1.8" stroke-linecap="butt"/>
<line x1="553.0" y1="759.46" x2="553.0" y2="765.86" stroke="#9c9c9c" stroke-width="1.8" stroke-linecap="butt"/>
<line x1="556.45" y1="758.3" x2="556.45" y2="764.7" stroke="#9c9c9c" stroke-width="1.8" stroke-linecap="butt"/>
<line x1="559.9" y1="757.13" x2="559.9" y2="763.53" stroke="#9c9c9c" stroke-width="1.8" stroke-linecap="butt"/>
<line x1="563.35" y1="755.43" x2="563.35" y2="761.83" stroke="#9c9c9c" stroke-width="1.8" stroke-linecap="butt"/>
<line x1="566.8" y1="753.7" x2="566.8" y2="760.1" stroke="#9c9c9c" stroke-width="1.8" stroke-linecap="butt"/>
<line x1="570.25" y1="751.98" x2="570.25" y2="758.38" stroke="#9c9c9c" stroke-width="1.8" stroke-linecap="butt"/>
<line x1="573.7" y1="750.72" x2="573.7" y2="757.12" stroke="#9c9c9c" stroke-width="1.8" stroke-linecap="butt"/>
<line x1="577.15" y1="749.77" x2="577.15" y2="756.17" stroke="#9c9c9c" stroke-width="1.8" stroke-linecap="butt"/>
<line x1="580.6" y1="748.82" x2="580.6" y2="755.22" stroke="#9c9c9c" stroke-width="1.8" stroke-linecap="butt"/>
<line x1="584.05" y1="747.87" x2="584.05" y2="754.27" stroke="#9c9c9c" stroke-width="1.8" stroke-linecap="butt"/>
<line x1="587.5" y1="746.91" x2="587.5" y2="753.31" stroke="#9c9c9c" stroke-width="1.8" stroke-linecap="butt"/>
<line x1="590.95" y1="746.01" x2="590.95" y2="752.41" stroke="#9c9c9c" stroke-width="1.8" stroke-linecap="butt"/>
<line x1="594.4" y1="745.14" x2="594.4" y2="751.54" stroke="#9c9c9c" stroke-width="1.8" stroke-linecap="butt"/>
<line x1="597.85" y1="744.26" x2="597.85" y2="750.66" stroke="#9c9c9c" stroke-width="1.8" stroke-linecap="butt"/>
<line x1="601.3" y1="743.39" x2="601.3" y2="749.79" stroke="#9c9c9c" stroke-width="1.8" stroke-linecap="butt"/>
<line x1="604.75" y1="742.52" x2="604.75" y2="748.92" stroke="#9c9c9c" stroke-width="1.8" stroke-linecap="butt"/>
<line x1="608.2" y1="741.65" x2="608.2" y2="748.05" stroke="#9c9c9c" stroke-width="1.8" stroke-linecap="butt"/>
<line x1="611.65" y1="740.96" x2="611.65" y2="747.36" stroke="#9c9c9c" stroke-width="1.8" stroke-linecap="butt"/>
<line x1="615.1" y1="740.28" x2="615.1" y2="746.68" stroke="#9c9c9c" stroke-width="1.8" stroke-linecap="butt"/>
<line x1="618.55" y1="739.6" x2="618.55" y2="746.0" stroke="#9c9c9c" stroke-width="1.8" stroke-linecap="butt"/>
<line x1="622.0" y1="738.92" x2="622.0" y2="745.32" stroke="#9c9c9c" stroke-width="1.8" stroke-linecap="butt"/>
<line x1="625.45" y1="738.24" x2="625.45" y2="744.64" stroke="#9c9c9c" stroke-width="1.8" stroke-linecap="butt"/>
<line x1="628.9" y1="737.54" x2="628.9" y2="743.94" stroke="#9c9c9c" stroke-width="1.8" stroke-linecap="butt"/>
<line x1="632.35" y1="736.77" x2="632.35" y2="743.17" stroke="#9c9c9c" stroke-width="1.8" stroke-linecap="butt"/>
<line x1="635.8" y1="736.01" x2="635.8" y2="742.41" stroke="#9c9c9c" stroke-width="1.8" stroke-linecap="butt"/>
<line x1="639.25" y1="735.25" x2="639.25" y2="741.65" stroke="#9c9c9c" stroke-width="1.8" stroke-linecap="butt"/>
<line x1="642.7" y1="734.98" x2="642.7" y2="741.38" stroke="#9c9c9c" stroke-width="1.8" stroke-linecap="butt"/>
<line x1="646.15" y1="735.43" x2="646.15" y2="741.83" stroke="#9c9c9c" stroke-width="1.8" stroke-linecap="butt"/>
<polyline points="397.00,893.90 400.10,894.39 403.20,895.14 406.30,894.79 408.93,895.90 411.55,896.22 414.18,897.03 416.80,897.43 419.10,897.07 421.40,895.94 423.70,895.21 426.00,894.05 429.15,895.32 432.30,897.01 433.40,894.51 434.50,891.86 435.60,889.21 436.70,887.57 437.80,884.55 438.65,881.76 439.50,879.58 440.35,877.57 441.20,875.38 442.05,872.57 442.90,870.14 443.75,868.00 444.60,865.35 445.45,862.49 446.30,860.05 448.12,858.59 449.95,856.23 451.78,854.16 453.60,852.94 454.64,850.67 455.69,847.50 456.73,845.52 457.77,843.27 458.81,839.85 459.86,837.36 460.90,835.29 463.07,833.28 465.25,832.19 467.43,830.42 469.60,827.93 471.27,826.27 472.94,823.99 474.61,821.35 476.29,820.22 477.96,817.18 479.63,814.98 481.30,813.34 483.25,810.89 485.20,809.51 487.15,807.49 489.10,806.21 491.05,803.63 493.00,802.22 495.09,800.66 497.17,798.96 499.26,797.07 501.34,795.68 503.43,794.43 505.51,792.85 507.60,791.67 509.36,789.47 511.12,787.21 512.88,785.51 514.64,783.94 516.40,780.94 518.72,779.94 521.04,778.39 523.36,777.33 525.68,776.13 528.00,775.41 529.76,774.14 531.52,772.22 533.28,770.78 535.04,768.86 536.80,766.80 539.23,766.21 541.67,764.95 544.10,764.81 546.53,764.08 548.97,763.93 551.40,762.68 554.27,762.28 557.13,761.12 560.00,760.29 562.32,759.03 564.64,757.50 566.96,757.10 569.28,756.02 571.60,754.62 574.09,753.35 576.57,753.25 579.06,752.89 581.54,752.34 584.03,751.38 586.51,749.84 589.00,750.15 591.42,749.29 593.85,748.21 596.27,748.37 598.70,747.64 601.12,747.11 603.55,745.72 605.98,745.50 608.40,744.65 610.81,744.08 613.23,744.16 615.64,743.51 618.05,742.70 620.46,742.48 622.88,742.46 625.29,741.56 627.70,741.50 630.42,740.48 633.14,740.39 635.86,738.63 638.58,738.55 641.30,738.06 643.87,738.61 646.43,739.23 649.00,739.15 649.14,736.55 649.29,734.30 649.43,731.75 649.57,729.53 649.71,727.39 649.86,723.85 650.00,722.00" fill="none" stroke="#e60012" stroke-width="2.8" stroke-linejoin="round" stroke-linecap="round" opacity="1"/>
<polyline points="397.00,897.80 399.42,898.15 401.83,899.24 404.25,898.96 406.67,900.22 409.08,900.00 411.50,901.15 414.13,901.30 416.77,900.74 419.40,900.88 421.98,899.93 424.56,899.60 427.14,898.63 429.72,897.91 432.30,896.83 432.98,894.75 433.65,892.79 434.32,890.28 435.00,888.12 435.68,885.08 436.35,883.02 437.02,880.55 437.70,878.18 438.38,876.30 439.05,873.34 439.72,871.39 440.40,869.27 441.20,867.04 442.00,863.72 442.80,861.57 443.60,859.39 444.40,857.44 445.20,854.26 446.00,852.54 446.80,849.70 447.60,847.45 448.40,845.43 449.20,842.16 450.18,840.16 451.16,837.72 452.13,835.43 453.11,833.34 454.09,831.47 455.07,829.08 456.04,826.36 457.02,824.77 458.00,822.21 459.24,819.54 460.49,817.92 461.73,815.62 462.97,812.72 464.21,811.14 465.46,808.71 466.70,805.83 468.16,803.60 469.62,802.47 471.09,800.43 472.55,797.70 474.01,796.37 475.47,794.37 476.94,792.23 478.40,790.43 480.07,788.70 481.74,786.16 483.41,784.78 485.09,782.98 486.76,780.48 488.43,778.97 490.10,777.08 492.05,775.55 494.00,773.57 495.95,771.58 497.90,769.85 499.85,768.44 501.80,766.34 504.12,766.08 506.44,765.13 508.76,763.50 511.08,762.98 513.40,761.97 515.44,760.06 517.48,759.36 519.52,757.99 521.56,756.17 523.60,754.60 526.24,754.08 528.88,753.87 531.52,752.87 534.16,752.52 536.80,751.16 539.23,750.72 541.67,750.58 544.10,750.73 546.53,749.63 548.97,749.16 551.40,749.45 553.83,748.31 556.27,748.40 558.70,747.33 561.13,747.01 563.57,746.95 566.00,746.67 568.43,745.81 570.87,745.45 573.30,744.63 575.73,744.54 578.17,744.04 580.60,744.19 583.03,743.53 585.47,743.02 587.90,742.18 590.33,741.77 592.77,740.61 595.20,740.29 598.12,739.84 601.05,739.48 603.98,739.59 606.90,738.71 609.52,738.63 612.14,738.38 614.76,738.76 617.38,738.34 620.00,737.98 622.49,737.47 624.97,737.59 627.46,737.20 629.94,736.29 632.43,736.00 634.91,735.88 637.40,734.86 640.05,735.11 642.70,735.20 645.35,735.85 648.00,736.37 648.24,732.94 648.48,730.39 648.72,728.13 648.96,724.80 649.20,722.00" fill="none" stroke="#000" stroke-width="2.9" stroke-linejoin="round" stroke-linecap="round" opacity="1"/>
<polyline points="650.00,701.30 653.00,701.50 665.50,705.10" fill="none" stroke="#e60012" stroke-width="2.6" stroke-linejoin="round" stroke-linecap="round" opacity="1"/>
<polyline points="650.00,710.00 651.00,702.20 655.00,702.50 665.50,704.20" fill="none" stroke="#000" stroke-width="2.6" stroke-linejoin="round" stroke-linecap="round" opacity="1"/>
<line x1="648" y1="713.9" x2="653.8" y2="720.6" stroke="#231815" stroke-width="1.1" stroke-linecap="butt"/>
<g transform="translate(125.30,1002.20) scale(1.0695,1)" fill="#231815" stroke="#231815" stroke-width="0.3"><text x="-0.39" y="0" font-size="26" font-style="normal" xml:space="preserve">total recycling</text></g>
<g transform="translate(159.40,1035.50) scale(1.0753,1)" fill="#231815" stroke="#231815" stroke-width="0.3"><text x="-1.68" y="0" font-size="26" font-style="normal" xml:space="preserve">pool size</text></g>
<g transform="translate(472.90,1023.50) scale(1.0627,1)" fill="#231815" stroke="#231815" stroke-width="0.3"><text x="-1.73" y="0" font-size="26" font-style="normal" xml:space="preserve">rise kinetics</text></g>
<line x1="97.2" y1="1061.0" x2="97.2" y2="1263.3" stroke="#231815" stroke-width="3.0" stroke-linecap="butt"/>
<line x1="88.8" y1="1261.8" x2="316.0" y2="1261.8" stroke="#231815" stroke-width="3.0" stroke-linecap="butt"/>
<line x1="88.6" y1="1262.3" x2="97.2" y2="1262.3" stroke="#231815" stroke-width="2.6" stroke-linecap="butt"/>
<g transform="translate(75.66,1270.30) scale(1.0000,1)" fill="#231815" stroke="#231815" stroke-width="0.3"><text x="-0.82" y="0" font-size="21" font-style="normal" xml:space="preserve">0</text></g>
<line x1="88.6" y1="1222.25" x2="97.2" y2="1222.25" stroke="#231815" stroke-width="2.6" stroke-linecap="butt"/>
<g transform="translate(58.38,1230.25) scale(1.0000,1)" fill="#231815" stroke="#231815" stroke-width="0.3"><text x="-0.82" y="0" font-size="21" font-style="normal" xml:space="preserve">0.2</text></g>
<line x1="88.6" y1="1182.2" x2="97.2" y2="1182.2" stroke="#231815" stroke-width="2.6" stroke-linecap="butt"/>
<g transform="translate(57.94,1190.20) scale(1.0000,1)" fill="#231815" stroke="#231815" stroke-width="0.3"><text x="-0.82" y="0" font-size="21" font-style="normal" xml:space="preserve">0.4</text></g>
<line x1="88.6" y1="1142.1499999999999" x2="97.2" y2="1142.1499999999999" stroke="#231815" stroke-width="2.6" stroke-linecap="butt"/>
<g transform="translate(58.25,1150.15) scale(1.0000,1)" fill="#231815" stroke="#231815" stroke-width="0.3"><text x="-0.82" y="0" font-size="21" font-style="normal" xml:space="preserve">0.6</text></g>
<line x1="88.6" y1="1102.1" x2="97.2" y2="1102.1" stroke="#231815" stroke-width="2.6" stroke-linecap="butt"/>
<g transform="translate(58.24,1110.10) scale(1.0000,1)" fill="#231815" stroke="#231815" stroke-width="0.3"><text x="-0.82" y="0" font-size="21" font-style="normal" xml:space="preserve">0.8</text></g>
<line x1="88.6" y1="1062.05" x2="97.2" y2="1062.05" stroke="#231815" stroke-width="2.6" stroke-linecap="butt"/>
<g transform="translate(58.93,1070.05) scale(1.0000,1)" fill="#231815" stroke="#231815" stroke-width="0.3"><text x="-1.60" y="0" font-size="21" font-style="normal" xml:space="preserve">1.0</text></g>
<line x1="148.7" y1="1105.1" x2="148.7" y2="1223.1" stroke="#231815" stroke-width="2.2" stroke-linecap="butt"/>
<line x1="139.5" y1="1105.1" x2="157.6" y2="1105.1" stroke="#231815" stroke-width="2.8000000000000003" stroke-linecap="butt"/>
<line x1="139.5" y1="1223.1" x2="157.6" y2="1223.1" stroke="#231815" stroke-width="2.8000000000000003" stroke-linecap="butt"/>
<rect x="134.1" y="1154.2" width="28.60" height="41.30" fill="#231815"/>
<line x1="134.1" y1="1180.0" x2="162.7" y2="1180.0" stroke="#fff" stroke-width="3.0" stroke-linecap="butt"/>
<line x1="178.0" y1="1137.0" x2="178.0" y2="1217.0" stroke="#e60012" stroke-width="2.2" stroke-linecap="butt"/>
<line x1="168.8" y1="1137.0" x2="186.7" y2="1137.0" stroke="#e60012" stroke-width="2.8000000000000003" stroke-linecap="butt"/>
<line x1="168.8" y1="1217.0" x2="186.7" y2="1217.0" stroke="#e60012" stroke-width="2.8000000000000003" stroke-linecap="butt"/>
<rect x="163.2" y="1166.9" width="28.60" height="23.80" fill="#e60012"/>
<line x1="163.2" y1="1180.0" x2="191.8" y2="1180.0" stroke="#fff" stroke-width="3.0" stroke-linecap="butt"/>
<line x1="247.2" y1="1105.1" x2="247.2" y2="1230.2" stroke="#231815" stroke-width="2.2" stroke-linecap="butt"/>
<line x1="237.9" y1="1105.1" x2="256.7" y2="1105.1" stroke="#231815" stroke-width="2.8000000000000003" stroke-linecap="butt"/>
<line x1="237.9" y1="1230.2" x2="256.7" y2="1230.2" stroke="#231815" stroke-width="2.8000000000000003" stroke-linecap="butt"/>
<rect x="233.6" y="1139.5" width="27.60" height="39.40" fill="#231815"/>
<line x1="233.6" y1="1160.2" x2="261.2" y2="1160.2" stroke="#fff" stroke-width="3.0" stroke-linecap="butt"/>
<line x1="276.9" y1="1089.7" x2="276.9" y2="1238.0" stroke="#e60012" stroke-width="2.2" stroke-linecap="butt"/>
<line x1="267.6" y1="1089.7" x2="286.0" y2="1089.7" stroke="#e60012" stroke-width="2.8000000000000003" stroke-linecap="butt"/>
<line x1="267.6" y1="1238.0" x2="286.0" y2="1238.0" stroke="#e60012" stroke-width="2.8000000000000003" stroke-linecap="butt"/>
<rect x="262.4" y="1145.3" width="28.20" height="40.30" fill="#e60012"/>
<line x1="262.4" y1="1166.8" x2="290.6" y2="1166.8" stroke="#fff" stroke-width="3.0" stroke-linecap="butt"/>
<line x1="136.1" y1="1079.3" x2="191.3" y2="1079.3" stroke="#231815" stroke-width="3.0" stroke-linecap="butt"/>
<line x1="237.0" y1="1079.2" x2="285.4" y2="1079.2" stroke="#231815" stroke-width="3.0" stroke-linecap="butt"/>
<g transform="translate(150.20,1071.90) scale(1.0268,1)" fill="#231815" stroke="#231815" stroke-width="0.3"><text x="-1.43" y="0" font-size="21.5" font-style="normal" xml:space="preserve">n.s.</text></g>
<g transform="translate(245.50,1071.90) scale(1.0492,1)" fill="#231815" stroke="#231815" stroke-width="0.3"><text x="-1.43" y="0" font-size="21.5" font-style="normal" xml:space="preserve">n.s.</text></g>
<g transform="translate(132.50,1290.20) scale(1.1037,1)" fill="#231815" stroke="#231815" stroke-width="0.3"><text x="-1.71" y="0" font-size="22.4" font-style="normal" xml:space="preserve">10Hz</text></g>
<g transform="translate(237.90,1290.20) scale(1.1089,1)" fill="#231815" stroke="#231815" stroke-width="0.3"><text x="-1.13" y="0" font-size="22.4" font-style="normal" xml:space="preserve">20Hz</text></g>
<g transform="translate(42.30,1234.20) rotate(-90) scale(1.0705,1)" fill="#231815" stroke="#231815" stroke-width="0.3"><text x="-0.70" y="0" font-size="23.5" font-style="normal" xml:space="preserve">Δ</text><text x="15.00" y="0" font-size="23.5" font-style="italic" xml:space="preserve">F</text></g>
<g transform="translate(42.30,1192.30) rotate(-90) scale(1.2406,1)" fill="#231815" stroke="#231815" stroke-width="0.3"><text x="0.00" y="0" font-size="23.5" font-style="normal" xml:space="preserve">/</text></g>
<g transform="translate(42.30,1177.20) rotate(-90) scale(1.0672,1)" fill="#231815" stroke="#231815" stroke-width="0.3"><text x="-0.70" y="0" font-size="23.5" font-style="normal" xml:space="preserve">Δ</text><text x="15.00" y="0" font-size="23.5" font-style="italic" xml:space="preserve">F</text></g>
<g transform="translate(42.30,1140.00) rotate(-90) scale(1.0619,1)" fill="#231815" stroke="#231815" stroke-width="0.3"><text x="-1.44" y="0" font-size="17.5" font-style="normal" xml:space="preserve">NH</text></g>
<g transform="translate(48.50,1113.30) rotate(-90) scale(0.8136,1)" fill="#231815" stroke="#231815" stroke-width="0.3"><text x="-0.23" y="0" font-size="10" font-style="normal" xml:space="preserve">4</text></g>
<g transform="translate(42.30,1106.90) rotate(-90) scale(1.0092,1)" fill="#231815" stroke="#231815" stroke-width="0.3"><text x="-0.89" y="0" font-size="17.5" font-style="normal" xml:space="preserve">Cl</text></g>
<line x1="426.3" y1="1057.1" x2="426.3" y2="1260.7" stroke="#231815" stroke-width="3.0" stroke-linecap="butt"/>
<line x1="423.5" y1="1259.1" x2="530.7" y2="1259.1" stroke="#231815" stroke-width="3.0" stroke-linecap="butt"/>
<line x1="541.3" y1="1259.1" x2="651.3" y2="1259.1" stroke="#231815" stroke-width="3.0" stroke-linecap="butt"/>
<line x1="649.7" y1="1058.4" x2="649.7" y2="1260.6" stroke="#231815" stroke-width="3.0" stroke-linecap="butt"/>
<line x1="420.8" y1="1259.4" x2="426.3" y2="1259.4" stroke="#231815" stroke-width="2.6" stroke-linecap="butt"/>
<g transform="translate(406.46,1266.40) scale(1.0800,1)" fill="#231815" stroke="#231815" stroke-width="0.3"><text x="-0.82" y="0" font-size="21" font-style="normal" xml:space="preserve">0</text></g>
<line x1="420.8" y1="1209.0" x2="426.3" y2="1209.0" stroke="#231815" stroke-width="2.6" stroke-linecap="butt"/>
<g transform="translate(394.69,1216.00) scale(1.0800,1)" fill="#231815" stroke="#231815" stroke-width="0.3"><text x="-1.60" y="0" font-size="21" font-style="normal" xml:space="preserve">10</text></g>
<line x1="420.8" y1="1158.6000000000001" x2="426.3" y2="1158.6000000000001" stroke="#231815" stroke-width="2.6" stroke-linecap="butt"/>
<g transform="translate(394.10,1165.60) scale(1.0800,1)" fill="#231815" stroke="#231815" stroke-width="0.3"><text x="-1.06" y="0" font-size="21" font-style="normal" xml:space="preserve">20</text></g>
<line x1="420.8" y1="1108.2" x2="426.3" y2="1108.2" stroke="#231815" stroke-width="2.6" stroke-linecap="butt"/>
<g transform="translate(393.82,1115.20) scale(1.0800,1)" fill="#231815" stroke="#231815" stroke-width="0.3"><text x="-0.80" y="0" font-size="21" font-style="normal" xml:space="preserve">30</text></g>
<line x1="420.8" y1="1057.8000000000002" x2="426.3" y2="1057.8000000000002" stroke="#231815" stroke-width="2.6" stroke-linecap="butt"/>
<g transform="translate(393.48,1064.80) scale(1.0800,1)" fill="#231815" stroke="#231815" stroke-width="0.3"><text x="-0.48" y="0" font-size="21" font-style="normal" xml:space="preserve">40</text></g>
<line x1="649.7" y1="1258.9" x2="657.4" y2="1258.9" stroke="#231815" stroke-width="2.6" stroke-linecap="butt"/>
<g transform="translate(662.60,1265.90) scale(1.0800,1)" fill="#231815" stroke="#231815" stroke-width="0.3"><text x="-0.82" y="0" font-size="21" font-style="normal" xml:space="preserve">0</text></g>
<line x1="649.7" y1="1208.8000000000002" x2="657.4" y2="1208.8000000000002" stroke="#231815" stroke-width="2.6" stroke-linecap="butt"/>
<g transform="translate(662.60,1215.80) scale(1.0800,1)" fill="#231815" stroke="#231815" stroke-width="0.3"><text x="-0.84" y="0" font-size="21" font-style="normal" xml:space="preserve">5</text></g>
<line x1="649.7" y1="1158.7" x2="657.4" y2="1158.7" stroke="#231815" stroke-width="2.6" stroke-linecap="butt"/>
<g transform="translate(662.60,1165.70) scale(1.0800,1)" fill="#231815" stroke="#231815" stroke-width="0.3"><text x="-1.60" y="0" font-size="21" font-style="normal" xml:space="preserve">10</text></g>
<line x1="649.7" y1="1108.6000000000001" x2="657.4" y2="1108.6000000000001" stroke="#231815" stroke-width="2.6" stroke-linecap="butt"/>
<g transform="translate(662.60,1115.60) scale(1.0800,1)" fill="#231815" stroke="#231815" stroke-width="0.3"><text x="-1.60" y="0" font-size="21" font-style="normal" xml:space="preserve">15</text></g>
<line x1="649.7" y1="1058.5" x2="657.4" y2="1058.5" stroke="#231815" stroke-width="2.6" stroke-linecap="butt"/>
<g transform="translate(662.60,1065.50) scale(1.0800,1)" fill="#231815" stroke="#231815" stroke-width="0.3"><text x="-1.06" y="0" font-size="21" font-style="normal" xml:space="preserve">20</text></g>
<line x1="474.7" y1="1128.8" x2="474.7" y2="1196.3" stroke="#231815" stroke-width="2.2" stroke-linecap="butt"/>
<line x1="465.5" y1="1128.8" x2="483.9" y2="1128.8" stroke="#231815" stroke-width="2.8000000000000003" stroke-linecap="butt"/>
<line x1="465.5" y1="1196.3" x2="483.9" y2="1196.3" stroke="#231815" stroke-width="2.8000000000000003" stroke-linecap="butt"/>
<rect x="463.3" y="1128.8" width="22.70" height="38.60" fill="#231815"/>
<line x1="463.3" y1="1147.6" x2="486.0" y2="1147.6" stroke="#fff" stroke-width="3.0" stroke-linecap="butt"/>
<line x1="498.9" y1="1078.1" x2="498.9" y2="1223.4" stroke="#e60012" stroke-width="2.2" stroke-linecap="butt"/>
<line x1="489.1" y1="1078.1" x2="507.5" y2="1078.1" stroke="#e60012" stroke-width="2.8000000000000003" stroke-linecap="butt"/>
<line x1="489.1" y1="1223.4" x2="507.5" y2="1223.4" stroke="#e60012" stroke-width="2.8000000000000003" stroke-linecap="butt"/>
<rect x="486.5" y="1137.7" width="23.70" height="64.10" fill="#e60012"/>
<line x1="486.5" y1="1155.3" x2="510.2" y2="1155.3" stroke="#fff" stroke-width="3.0" stroke-linecap="butt"/>
<line x1="579.1" y1="1180.8" x2="579.1" y2="1242.5" stroke="#231815" stroke-width="2.2" stroke-linecap="butt"/>
<line x1="569.8" y1="1180.8" x2="587.8" y2="1180.8" stroke="#231815" stroke-width="2.8000000000000003" stroke-linecap="butt"/>
<line x1="569.8" y1="1242.5" x2="587.8" y2="1242.5" stroke="#231815" stroke-width="2.8000000000000003" stroke-linecap="butt"/>
<rect x="566.1" y="1184.9" width="25.60" height="41.90" fill="#231815"/>
<line x1="566.1" y1="1215.0" x2="591.7" y2="1215.0" stroke="#fff" stroke-width="3.0" stroke-linecap="butt"/>
<line x1="605.4" y1="1097.0" x2="605.4" y2="1218.7" stroke="#e60012" stroke-width="2.2" stroke-linecap="butt"/>
<line x1="595.6" y1="1097.0" x2="614.8" y2="1097.0" stroke="#e60012" stroke-width="2.8000000000000003" stroke-linecap="butt"/>
<line x1="595.6" y1="1218.7" x2="614.8" y2="1218.7" stroke="#e60012" stroke-width="2.8000000000000003" stroke-linecap="butt"/>
<rect x="592.6" y="1148.2" width="25.50" height="41.30" fill="#e60012"/>
<line x1="592.6" y1="1171.6" x2="618.1" y2="1171.6" stroke="#fff" stroke-width="3.0" stroke-linecap="butt"/>
<line x1="462.3" y1="1061.4" x2="510.7" y2="1061.4" stroke="#231815" stroke-width="3.0" stroke-linecap="butt"/>
<line x1="572.0" y1="1059.5" x2="611.4" y2="1059.5" stroke="#231815" stroke-width="3.0" stroke-linecap="butt"/>
<g transform="translate(472.80,1054.30) scale(1.0268,1)" fill="#231815" stroke="#231815" stroke-width="0.3"><text x="-1.43" y="0" font-size="21.5" font-style="normal" xml:space="preserve">n.s.</text></g>
<g transform="translate(581.20,1059.00) scale(1.2786,1)" fill="#231815" stroke="#231815" stroke-width="0.3"><text x="-0.35" y="0" font-size="22" font-style="normal" xml:space="preserve">**</text></g>
<g transform="translate(460.50,1285.50) scale(1.1057,1)" fill="#231815" stroke="#231815" stroke-width="0.3"><text x="-1.71" y="0" font-size="22.4" font-style="normal" xml:space="preserve">10Hz</text></g>
<g transform="translate(565.60,1285.50) scale(1.1289,1)" fill="#231815" stroke="#231815" stroke-width="0.3"><text x="-1.13" y="0" font-size="22.4" font-style="normal" xml:space="preserve">20Hz</text></g>
<g transform="translate(377.70,1218.00) rotate(-90) scale(1.3421,1)" fill="#000" stroke="#000" stroke-width="0.3"><text x="-0.35" y="0" font-size="25" font-style="normal" xml:space="preserve">τ</text></g>
<g transform="translate(385.20,1197.40) rotate(-90) scale(1.0431,1)" fill="#000" stroke="#000" stroke-width="0.3"><text x="-0.68" y="0" font-size="16" font-style="normal" xml:space="preserve">exo</text></g>
<g transform="translate(377.70,1162.10) rotate(-90) scale(1.1782,1)" fill="#000" stroke="#000" stroke-width="0.3"><text x="-1.55" y="0" font-size="25" font-style="normal" xml:space="preserve">(sec)</text></g>
</svg></body></html>
